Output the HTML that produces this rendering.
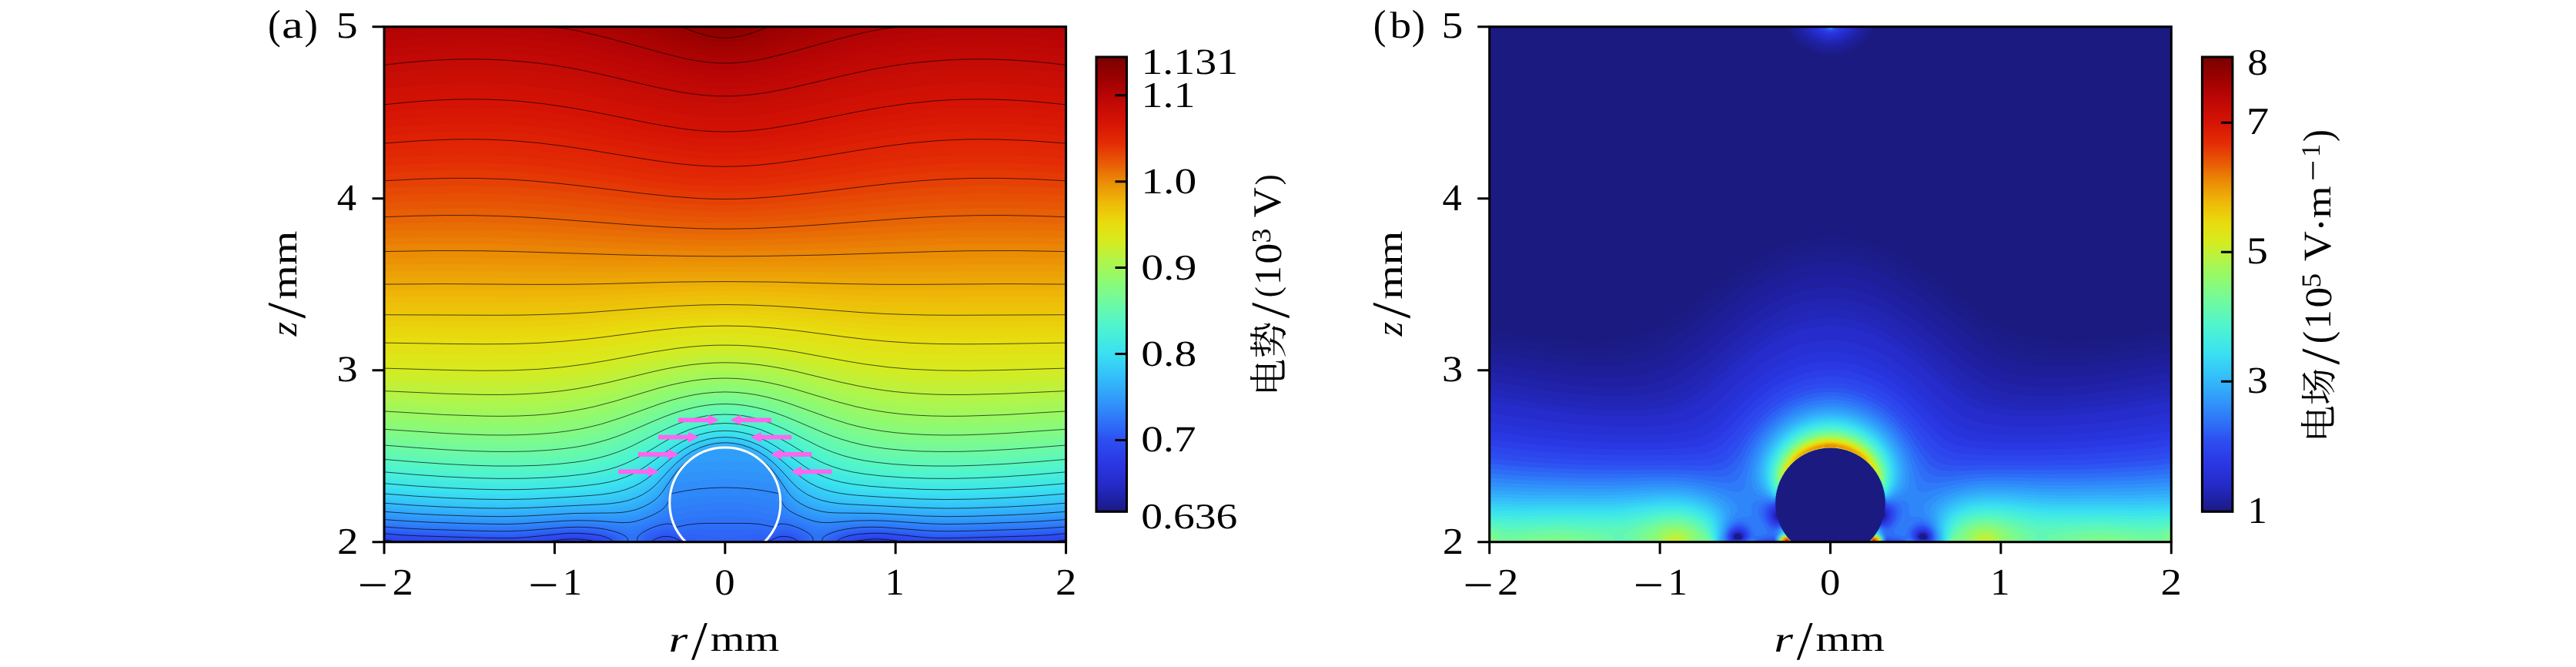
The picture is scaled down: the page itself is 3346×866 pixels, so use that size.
<!DOCTYPE html><html><head><meta charset="utf-8"><title>fig</title><style>html,body{margin:0;padding:0;background:#fff}svg{display:block}text{text-rendering:geometricPrecision;font-family:"Liberation Serif","Noto Serif CJK SC",serif;fill:#000}</style></head><body>
<svg width="3346" height="866" viewBox="0 0 3346 866">
<defs><linearGradient id="cb" x1="0" y1="1" x2="0" y2="0">
<stop offset="0.0" stop-color="#1b1a80"/>
<stop offset="0.028" stop-color="#1f21a5"/>
<stop offset="0.06" stop-color="#252bc8"/>
<stop offset="0.109" stop-color="#2a38e5"/>
<stop offset="0.158" stop-color="#2d4ff1"/>
<stop offset="0.19" stop-color="#2e6cf7"/>
<stop offset="0.239" stop-color="#3094fa"/>
<stop offset="0.296" stop-color="#34befa"/>
<stop offset="0.349" stop-color="#3ae1f0"/>
<stop offset="0.41" stop-color="#50f5cd"/>
<stop offset="0.467" stop-color="#73fa9b"/>
<stop offset="0.512" stop-color="#91fa6e"/>
<stop offset="0.55" stop-color="#aff54b"/>
<stop offset="0.595" stop-color="#d7eb1e"/>
<stop offset="0.634" stop-color="#e8dc0f"/>
<stop offset="0.68" stop-color="#eeb908"/>
<stop offset="0.725" stop-color="#eb8c05"/>
<stop offset="0.763" stop-color="#e85f05"/>
<stop offset="0.809" stop-color="#e42d05"/>
<stop offset="0.854" stop-color="#d71405"/>
<stop offset="0.915" stop-color="#b90505"/>
<stop offset="0.961" stop-color="#960000"/>
<stop offset="1.0" stop-color="#780000"/>
</linearGradient>
<clipPath id="ca"><rect x="499.0" y="34.7" width="885.6" height="669.0"/></clipPath>
<clipPath id="cbp"><rect x="1934.7" y="34.7" width="885.6" height="669.0"/></clipPath>
</defs>
<rect width="3346" height="866" fill="#fff"/>
<g clip-path="url(#ca)"><rect x="499.0" y="34.7" width="885.6" height="669.0" fill="#2a39e5"/>
<path d="M499 703.7l230.2 0 13.3-1 7.8 0.2 7.9 0.8 367.2 0 7.9-0.8 7.8-0.2 13.3 1 230.2 0 0-669-885.6 0 0 669z" fill="#2b3ce7"/>
<path d="M499.4 702.6l6.9 1.1 212.9 0 13.4-1.9 11-0.6 12.2 0.7 13.1 1.8 345.8 0 13.1-1.8 12.2-0.7 11 0.6 13.4 1.9 212.9 0 7.3-1.3 0-667.7-885.6 0 0 667.7 0.4 0.2z" fill="#2b3fe9"/>
<path d="M511.6 702.6l14 1.1 181.8 0 23-3.1 13.2-0.8 15.5 0.9 19.2 3 327 0 19.2-3 15.5-0.9 13.2 0.8 23 3.1 181.8 0 15.5-1.3 11.1-1.5 0-666.2-885.6 0 0 666.2 12.6 1.7z" fill="#2b42ea"/>
<path d="M541 702.6l46.6 1.1 105.8 0 37-4.7 14.4-0.7 11 0.5 11.1 1.2 11.1 1.9 5.4 1.8 316.8 0 6.5-2 11.1-1.8 11.1-1.2 11.1-0.4 14.3 0.9 35.9 4.5 105.8 0 60.9-1.7 14.4-1.1 13.3-1.6 0-664.6-885.6 0 0 664.6 19.9 2.2 22.1 1.1z" fill="#2c45ec"/>
<path d="M604.8 702.6l31.9 1.1 38.4 0 18.7-1.8 36.6-4.4 14.4-0.7 13.2 0.6 14.4 1.8 8.9 1.9 6 2.6 309 0 6-2.6 8.9-1.9 14.4-1.8 13.2-0.6 14.4 0.7 36.6 4.4 18.7 1.8 38.4 0 105.6-3.2 15.5-1 16.6-1.8 0-663-885.6 0 0 663 15.5 1.7 15.5 1.1 74.8 2.1z" fill="#2c49ee"/>
<path d="M789.1 702.6l1.7 1.1 70.4 0 4.2-0.4 3.6 0.4 145.6 0 3.6-0.4 4.2 0.4 70.4 0 3.8-2.2 3.5-1.4 8.9-2.2 15.5-2 14.3-0.6 15.5 0.8 51 5.6 11 0.6 13.3 0 118.5-3.3 17.7-1 18.8-1.9 0-661.4-885.6 0 0 661.4 18.8 1.9 18.8 1 101.9 3 23.2 0.3 10-0.2 12.2-0.9 48.7-5.4 16.6-0.4 13.3 0.8 12.1 1.7 7.8 1.8 6.7 2.9z" fill="#2d4cef"/>
<path d="M792.8 702.6l1.5 1.1 57.1 0 4.1-2 3.3-1.1 6.6-0.9 6.7 0.8 9 3.2 121.4 0 9-3.2 6.7-0.8 6.6 0.9 3.3 1.1 4.1 2 57.1 0 6.4-3.8 8.8-2.9 13.3-2.1 14.4-1 8.9-0.1 9.9 0.5 48.7 5.1 12.2 0.9 12.2 0.2 24.3-0.3 96.3-2.8 20-1.1 19.9-1.9 0-659.7-885.6 0 0 659.7 19.9 1.9 20 1.1 96.3 2.8 24.3 0.3 12.2-0.2 12.2-0.9 48.7-5.1 17.7-0.5 14.4 1 13.3 2 8.4 2.4 6.4 3.4z" fill="#2d4ff1"/>
<path d="M796.6 702.6l1.4 1.1 47 0 5.3-3.3 5.1-2.3 5.6-1.4 4.4-0.3 4.4 0.3 4.5 1.1 13.9 5.9 107.2 0 13.9-5.9 4.5-1.1 4.4-0.3 4.4 0.3 5.6 1.4 5.1 2.3 5.3 3.3 47 0 3-2.2 3.8-2.3 4.4-1.8 5.5-1.7 13.3-2.2 15.5-1.1 18.8 0.3 50.9 5 13.3 0.9 12.2 0.2 24.4-0.4 91.8-2.7 20-1 22.1-2 0-658-885.6 0 0 658 22.1 2 20 1 91.8 2.7 24.4 0.4 12.2-0.2 13.3-0.9 50.9-5 18.8-0.3 15.5 1.1 12.2 2 8.8 2.7 4.3 2.2 3.3 2.2z" fill="#2d55f2"/>
<path d="M800.6 702.6l1.2 1.1 38.6 0 4-3.5 6.6-3.7 6.7-2.3 6.6-1 4.4 0.2 4.5 1 4.4 1.8 8.8 4.8 3.8 1.6 5.1 0.3 2.6 0.8 87.8 0 2.6-0.8 5.1-0.3 15.9-7.8 4.5-1.2 4.4-0.4 6.6 0.7 6.7 2.1 6.6 3.5 5.1 4.2 38.6 0 2.8-2.4 4.4-2.7 4.5-2 5.5-1.9 13.3-2.5 16.6-1.3 9.9-0.2 11.1 0.4 50.9 4.9 13.3 0.7 13.3 0.3 25.5-0.4 88.5-2.6 21.1-1.1 22.1-1.9 0-656.3-885.6 0 0 656.3 22.1 1.9 21.1 1.1 88.5 2.6 25.5 0.4 13.3-0.3 13.3-0.7 50.9-4.9 11.1-0.4 9.9 0.2 16.6 1.3 12.2 2.2 5.5 1.7 4.5 1.9 4.1 2.4 3 2.2z" fill="#2d5bf3"/>
<path d="M804.5 702.6l1 1.1 31.5 0 1.8-2.6 2.3-2.2 6.6-4.2 8.9-3.4 7.7-1.2 5.5 0.4 4.5 1.3 4.4 2.1 8.9 5.7 2.2 0.9 4.4-1.2 4.4-0.1 4.5 0.9 12.5 3.6 52.4 0 12.5-3.6 4.5-0.9 4.4 0.1 4.4 1.2 2.2-0.9 7.8-5 4.4-2.4 4.4-1.5 5.6-0.6 4.4 0.3 4.4 0.9 8.9 3.4 6.6 4.2 2.3 2.2 1.8 2.6 31.5 0 3.2-3.1 3.7-2.5 5.1-2.5 5.6-1.9 6.6-1.7 6.7-1.1 17.7-1.6 11-0.2 11.1 0.4 53.1 4.8 13.3 0.7 13.3 0.2 26.6-0.4 84.1-2.5 22.2-1.1 23.2-1.9 0-654.6-885.6 0 0 654.6 23.2 1.9 22.2 1.1 84.1 2.5 26.6 0.4 13.3-0.2 13.3-0.7 53.1-4.8 11.1-0.4 11 0.2 16.6 1.5 13.3 2.6 5.6 1.8 4.4 1.9 4.4 2.7 3.3 2.8z" fill="#2e61f5"/>
<path d="M808.4 702.6l0.7 1.1 24.9 0 1.5-3.3 1.8-2.3 2.7-2.3 4.4-2.8 5.5-2.6 5.6-1.9 5.5-1.2 4.4-0.4 4.4 0.4 4.5 1.4 3.3 1.7 6.6 4.7 2.2 1.2 7.8-2.1 7.7-0.4 7.8 0.7 22.1 2.9 10 0.6 10-0.6 22.1-2.9 7.8-0.7 7.7 0.4 7.8 2.1 2.2-1.2 6.6-4.7 4.4-2.2 4.5-1.1 5.5-0.1 4.4 0.7 5.6 1.5 5.5 2.2 4.4 2.2 3.3 2.2 2.7 2.3 1.8 2.3 1.5 3.3 24.9 0 2.4-3.1 3.3-2.6 5.5-3 6.7-2.4 6.6-1.7 7.7-1.4 17.8-1.7 11-0.3 12.2 0.3 54.2 4.7 14.4 0.7 14.4 0.2 26.6-0.4 80.8-2.4 22.1-1.1 24.4-1.9 0-652.9-885.6 0 0 652.9 24.4 1.9 22.1 1.1 80.8 2.4 26.6 0.4 14.4-0.2 14.4-0.7 54.2-4.7 12.2-0.3 11 0.3 17.8 1.7 7.7 1.4 6.5 1.7 6.2 2.2 4.5 2.2 3.8 2.6 2.8 3z" fill="#2e67f6"/>
<path d="M812.2 702.6l0.4 1.1 18.4 0 0.7-3.3 2-3.4 2.9-2.8 4.3-2.8 5.7-2.8 6.6-2.5 6.7-1.8 5.5-0.6 4.4 0.2 3.4 1 3.3 1.7 5.5 4 1.1 0.2 6.7-1.9 5.5-1 12.2-0.8 34.3 1.2 29.9-1.1 8.8 0 10 1 10 2.6 1.1-0.2 5.5-4 4.4-2.1 4.5-0.8 4.4 0.1 5.5 1 5.6 1.6 6.6 2.7 5.5 2.9 4 2.8 2.7 2.7 1.6 2.9 0.7 3.3 18.4 0 1.6-3.3 3.1-3.1 4.4-2.5 6.7-2.7 7.8-2.2 7.7-1.6 8.9-1.2 11-0.8 12.2-0.4 13.3 0.3 55.4 4.6 28.7 0.8 27.7-0.5 76.4-2.3 23.2-1.1 25.5-1.9 0-651.1-885.6 0 0 651.1 25.5 1.9 23.2 1.1 76.4 2.3 27.7 0.5 28.7-0.8 55.4-4.6 13.3-0.3 12.2 0.4 18.8 1.8 7.7 1.5 7.8 2.1 6.6 2.5 5.1 2.8 2.7 2.3 2.1 3.3z" fill="#2e6df7"/>
<path d="M816 703.7l11.8 0-0.2-4.5 0.9-2.2 3-3.3 4-2.8 7.8-4.1 8.8-3.5 7.8-2.3 6.6-0.9 3.3 0.1 3.4 0.9 5.5 3.3 16.6-3.5 16.6-1.4 52-0.1 12.2 0.3 13.3 1.3 15.5 3.4 3.3-2.3 3.3-1.4 3.4-0.6 4.4 0.2 6.6 1.3 7.8 2.5 8.8 3.8 6.5 3.5 4.3 3.4 1.8 2.2 0.9 2.2-0.2 4.5 11.8 0 0.7-4.5 1.9-2.3 5.3-3.2 9.1-3.4 7.8-2 7.7-1.5 18.8-2.1 13.3-0.4 14.4 0.3 56.5 4.4 29.8 0.8 28.8-0.5 73.1-2.2 23.2-1.2 26.6-1.9 0-649.3-885.6 0 0 649.3 26.6 1.9 23.2 1.2 73.1 2.2 28.8 0.5 29.8-0.8 56.5-4.4 14.4-0.3 13.3 0.4 11.1 1 9.9 1.4 9.4 2.1 8.3 2.6 6.7 2.9 3.4 2.3 2.1 3.1 0.4 3.6z" fill="#2e72f7"/>
<path d="M818.7 703.7l6.3 0-1.6-1.8-1.2-0.3-2.2 0.5-1.3 1.6zM1058.6 703.7l6.3 0-1.3-1.6-2.2-0.5-1.2 0.3-1.6 1.8zM815.3 692.6l4.7 1 3.4-0.4 13.2-6.6 8.9-4 10-3.6 8.8-2.4 6.7-0.6 2.2 0.4 2.2 0.9 13.3-3 11-1.7 12.2-1.1 15.5-0.6 25.5-0.1 18.8 0.7 17.7 1.9 18.8 3.9 2.2-0.9 2.2-0.4 5.6 0.4 7.7 1.9 10 3.5 9.6 4.1 13.6 6.8 3.4 0.9 3.3-0.3 15.5-4.7 13.3-2.9 13.2-1.8 15.5-1.1 12.2-0.2 12.2 0.4 55.4 4.2 30.9 0.8 29.9-0.6 68.7-2.1 24.3-1.2 27.7-1.9 0-647.5-885.6 0 0 647.5 27.7 1.9 24.3 1.2 69.8 2.2 29.9 0.5 29.8-0.8 55.4-4.2 23.2-0.2 15.5 0.9 13.3 1.8 13.3 2.8 14.1 4.3z" fill="#2f78f8"/>
<path d="M813.2 688.1l6.8 0.4 5.6-1.1 34.3-13.4 14.4-4.8 8.8-2.1 12.2-2.2 12.2-1.5 13.3-1 14.4-0.4 18.8 0.1 16.6 0.8 14.4 1.5 13.3 2.3 11 2.5 21.1 7.2 25.4 10.3 4.4 1.3 4.5 0.6 6.6-0.7 17.7-3.4 11.1-1.7 12.2-1.2 13.3-0.6 22.1 0.3 55.4 4 30.9 0.8 31-0.5 65.4-2 25.4-1.3 28.8-2 0-645.6-885.6 0 0 645.6 28.8 2 25.4 1.3 65.4 2 31 0.5 30.9-0.8 55.4-4 22.1-0.3 14.4 0.7 12.2 1.3 28.6 5.1z" fill="#2f7df8"/>
<path d="M813.6 684.7l6.4-0.1 6.7-1.3 7.7-2.6 14.9-6 10.5-4.4 5.6-2.9 3.6-2.7 3.1-3.9 1.1-0.4 14.4-3.1 15.5-2.4 16.6-1.5 17.7-0.6 19.9 0.3 18.8 1.4 17.7 2.4 16.6 3.5 1.1 0.4 3.1 3.9 2.5 2 7.7 4 27.7 11.2 6.6 2 5.6 0.8 8.8-0.3 31-4 21.1-1.1 25.4 0.5 56.5 3.9 27.7 0.6 32.1-0.6 61.9-2 26.6-1.3 28.8-2 0-643.7-885.6 0 0 643.7 28.8 2 26.6 1.3 61.9 2 32.1 0.6 27.7-0.6 56.5-3.9 25.4-0.5 23.3 1.3 32.3 4.1z" fill="#2f83f9"/>
<path d="M600.9 681.4l38.7 0.9 26.6-0.1 22.1-1 43.2-3.1 21-0.6 24.4 0.8 33.2 3.2 8.8-0.1 6.7-1.2 8.8-2.8 14.4-5.8 10-4.8 4.4-2.9 3.3-3.1 2.2-3.2 3.4-6.6 16.6-3.4 16.6-2.4 16.6-1.4 17.7-0.6 18.8 0.4 18.8 1.5 16.6 2.3 17.7 3.6 3.4 6.6 2.2 3.2 3.3 3.1 4.7 3 10.8 5.2 14.4 5.7 8.8 2.6 6.7 1.1 9.9-0.1 34.4-3.3 22.1-0.6 21 0.7 55.4 3.7 17.7 0.5 21-0.1 85.3-2.6 52-3.2 0-641.8-885.6 0 0 641.8 43.2 2.8 58.7 2.1z" fill="#2f88f9"/>
<path d="M629.7 680.3l23.2 0.2 19.9-0.4 57.6-3.7 19.9-0.7 23.2 0.5 34.4 2.4 6.6 0 5.5-0.6 8.9-2 10.1-3.5 12-5.3 7.8-4.6 4.4-3.7 3.3-4.3 2.2-4.3 3.4-8.6 1.1-1.1 16.6-3.3 15.5-2.2 16.6-1.5 17.7-0.6 18.8 0.4 17.7 1.4 16.6 2.3 17.7 3.5 1.1 1.1 3.4 8.6 3 5.5 3.6 4.1 4.4 3.5 8.9 4.9 13.3 5.5 9.9 3.1 8.9 1.5 10 0.2 33.2-2.4 23.2-0.5 19.9 0.7 54.3 3.6 17.7 0.5 18.8-0.1 85.2-2.5 25.5-1.3 29.9-2 0-639.9-885.6 0 0 639.9 52 3.2 78.7 2.5z" fill="#308dfa"/>
<path d="M616 678.1l30.2 0.5 24.4-0.3 19.9-1 39.9-2.7 18.8-0.7 22.1 0.2 34.3 1.8 7.8-0.2 6.6-0.7 8.9-2.1 11.1-4 9.9-4.7 7.9-5.1 4.3-4.1 3.3-4.7 7.8-16.8 2.2-3.9 1.1-0.7 15.5-2.8 15.5-2.1 15.5-1.3 16.6-0.5 17.7 0.4 16.6 1.2 16.6 2.1 16.6 3 1.1 0.7 2.2 3.9 5.6 12.6 2.8 5.2 3.4 4.5 3.7 3.4 8.6 5.5 11.4 5.1 11 3.7 10 1.9 12.2 0.5 33.2-1.8 23.2-0.2 18.8 0.8 52.1 3.3 34.3 0.6 33.2-0.7 53.1-1.8 26.8-1.4 30.8-2.1 0-637.9-885.6 0 0 637.9 48.7 3.1 68.3 2.4z" fill="#3093fa"/>
<path d="M605.5 675.8l33 0.8 24.3 0 22.2-0.8 58.6-3.6 23.3-0.1 37.6 1.2 8.9-0.4 7.7-1.1 10-2.7 11.1-4.4 8.8-4.7 6.7-5 3.3-3.6 3.2-4.6 12.3-23.3 3.3-5 2.2-2.2 12.2-2.2 15.5-1.9 14.4-1.1 15.5-0.5 16.6 0.3 15.5 1.1 16.6 1.9 13.3 2.4 2.2 2.2 3.3 5 13 24.5 3.4 4.4 3.5 3.5 7.8 5.4 10 4.9 11 4 11.1 2.3 13.3 0.8 35.4-1.2 21 0.1 18.9 0.7 48.7 3.1 34.3 0.7 34.3-0.7 50.9-1.8 28.8-1.4 32.1-2.2 0-635.9-885.6 0 0 635.9 46.5 3 60 2.2z" fill="#3098fa"/>
<path d="M596.9 673.6l39.4 1 28.7 0 22.2-0.9 54.2-3.2 22.2-0.4 39.8 0.7 8.9-0.6 8.8-1.4 10-2.7 10-4.1 7.7-4.2 7.1-5.4 4-4.3 3.3-4.6 11.5-20.1 5.3-7.8 6.4-7.8 6.7-5.7 2.2-0.7 17.7-2 13.3-0.8 13.3-0.4 14.4 0.3 13.3 0.7 21 2.2 2.2 0.7 6.7 5.7 6.4 7.8 5.3 7.8 11.5 20.1 3.3 4.6 4.4 4.7 7 5.2 9.7 5 11 4.1 11.1 2.6 7.7 0.8 7.8 0.3 35.4-0.7 21 0.3 64.3 3.6 33.2 0.7 34.3-0.6 50.9-1.8 29.9-1.5 33.2-2.3 0-633.8-885.6 0 0 633.8 44.3 2.9 53.6 2.2z" fill="#319dfa"/>
<path d="M628.4 672.5l24.5 0.2 21-0.4 75.3-3.9 53.1-0.1 12.2-1.1 11.1-2.4 8.8-3.1 8.1-3.7 7.2-4.5 5.4-4.4 3.7-4 3.3-4.5 11.4-18.3 7.3-10 6.1-6.7 10.6-9.2 8.8-5.3 10.7-4.5 4.7-1.1 11.2-0.5 17.8 0 11.2 0.5 7.9 2.2 5.2 2.3 6.4 3.3 5.1 3.4 5.3 4.4 6.1 5.6 4 4.5 7.5 10 13.2 21 3.8 4.6 4 3.9 7.7 5.6 8.9 4.5 9.9 3.6 10 2.4 7.7 1 7.8 0.5 54.2 0.1 65.3 3.6 32.1 0.7 33.3-0.5 50.9-1.8 32.1-1.6 34.3-2.4 0-631.7-885.6 0 0 631.7 55.4 3.6 74 2.5z" fill="#31a2fa"/>
<path d="M619.1 670.3l27.1 0.4 22.2-0.2 19.9-0.8 56.5-3.1 53.1-0.6 13.3-1.1 12.2-2.5 8.8-2.9 7.8-3.5 7.7-4.7 5.5-4.5 7-7.8 12.8-18.9 6.8-8.9 7.5-7.8 10.2-8.5 7.8-4.7 11-5 11.2-3 7.9-1.1 5.3-0.3 6.6 0.2 7.8 1 8.8 2.1 10 3.9 5.5 2.8 5.6 3.4 10.1 8 7.7 7.8 7 9 13.9 20.4 4.4 5.2 4.5 4.2 6.7 4.7 8.8 4.6 9.9 3.7 10 2.4 7.7 1.1 8.9 0.6 53.1 0.6 63.1 3.5 32.1 0.7 33.3-0.5 49.8-1.7 33.2-1.7 35.4-2.5 0-629.6-885.6 0 0 629.6 53.1 3.5 67 2.5z" fill="#32a7fa"/>
<path d="M612.5 668l37.1 0.7 29.8-0.6 63.1-3.4 55.4-1.2 12.2-1.2 11-2.2 8.9-2.9 7.7-3.4 6.7-3.8 6.6-5 7.8-8.2 13.7-19 7.3-8.9 7.9-7.8 9.8-7.7 5.6-3.4 5.5-2.8 11.1-4.3 8.8-2 6.7-0.9 5.5-0.3 6.6 0.2 6.7 0.8 9.9 2.2 10 3.8 10.3 5.5 9.1 6.7 9.5 8.9 7.5 8.9 14.5 20.1 4.5 5 4.4 4.1 6.6 4.8 8.9 4.7 9.9 3.7 10 2.5 8.9 1.3 9.9 0.7 49.8 1 63.1 3.4 31 0.7 34.4-0.5 47.6-1.7 35.4-1.8 35.4-2.5 0-627.5-885.6 0 0 627.5 50.9 3.4 62.6 2.4z" fill="#32acfa"/>
<path d="M607.7 665.8l40.7 0.8 32.1-0.6 60.9-3.3 53.2-1.5 13.3-1.3 11-2.2 8.9-2.7 7.7-3.4 6.7-3.7 6.6-4.8 4.4-4 4.5-4.9 14.3-18.6 7.8-8.9 8.3-7.8 9.4-7.1 10-5.5 11.1-4.3 9.9-2.3 12.2-1.2 10 0.6 5.5 0.8 6.6 1.5 11.1 3.9 10 5.2 8.8 6.2 10 8.9 8 8.9 16.3 21 4.5 4.7 4.4 3.8 7.7 5.3 8.6 4.2 9.2 3.3 9.9 2.4 10 1.4 11.1 0.8 45.3 1.2 60.9 3.2 32.1 0.8 34.3-0.5 46.5-1.6 36.6-1.9 36.5-2.6 0-625.3-885.6 0 0 625.3 49.8 3.4 58.9 2.4z" fill="#33b0fa"/>
<path d="M604.3 663.6l43 0.9 34.4-0.6 58.6-3.1 50.9-1.8 13.3-1.3 12.2-2.3 8.9-2.7 7.7-3.2 7.8-4.3 6.6-4.8 8.9-8.6 15-18.4 7.1-7.8 8.9-8.1 9.9-7.2 10-5.4 11.1-4.2 9.9-2.3 12.2-1.1 12.2 0.8 11 2.3 11.1 4 10 5.2 8.8 6.1 10 8.8 8.2 8.9 16.1 19.6 4.9 4.9 5.1 4.2 7.8 5.1 8.5 4.1 9.2 3.2 9.9 2.3 10 1.4 12.2 0.9 46.5 1.6 58.6 3.1 28.8 0.7 34.3-0.5 45.4-1.6 37.7-1.9 37.6-2.7 0-623.1-885.6 0 0 623.1 49.8 3.4 55.5 2.4z" fill="#33b5fa"/>
<path d="M602.3 661.3l45 1 36.6-0.6 55.3-3 49.8-2 14.4-1.5 12.2-2.4 8.9-2.7 7.6-3.3 6.7-3.6 6.7-4.6 4.7-4 5.3-5.3 15.7-18.1 7.5-7.8 8.9-7.9 9.6-6.6 10.3-5.5 11.1-4 11-2.4 11.1-1 12.2 0.8 11 2.3 11.1 3.9 10 5 9.5 6.4 9.3 7.8 8.6 9 16.9 19.3 5.5 5.3 5.4 4.3 7.9 5 8.5 4 9.2 3.1 9.9 2.3 11.1 1.5 13.3 1 43.2 1.7 55.3 2.9 31 0.7 34.3-0.4 45.4-1.7 37.7-2 37.6-2.7 0-620.8-885.6 0 0 620.8 48.7 3.4 54.6 2.4z" fill="#34bafa"/>
<path d="M601.4 659.1l47 1 37.7-0.7 99.6-5 15.5-1.6 12.2-2.3 8.8-2.7 7.8-3.2 7.7-4.1 6.7-4.6 9.9-9 16.5-18 7.8-7.8 9.4-7.8 9.5-6.3 10-5.1 11.1-3.9 11-2.4 11.1-0.9 11.1 0.6 11 2.1 11.1 3.6 11.1 5.4 9.9 6.4 10 8.3 7.9 7.8 17.6 19.2 5.5 5.1 5.5 4.3 7.8 4.9 8.8 4.1 10 3.4 10 2.2 12.1 1.7 15.5 1.1 89.7 4.4 33.2 0.8 34.3-0.4 45.4-1.6 38.8-2.1 37.6-2.8 0-618.5-885.6 0 0 618.5 48.7 3.5 53.7 2.4z" fill="#34bffa"/>
<path d="M601.8 656.9l47.8 1 39.8-0.8 93-4.9 15.5-1.6 13.3-2.5 8.8-2.6 7.8-3.1 7.7-4 6.7-4.3 9.9-8.5 17.1-17.8 8.4-8 9.3-7.6 9.5-6.3 10-5 11-4 11.1-2.5 12.2-1 11.1 0.6 11 2 11.1 3.5 11.1 5.2 10.1 6.4 9.9 7.8 8.3 7.8 18.2 18.9 6.2 5.6 5.9 4.4 8.9 5.2 8.6 3.8 9.1 2.9 11.1 2.4 13.3 1.8 17.7 1.2 80.8 4.2 35.4 0.8 34.3-0.4 44.3-1.7 38.8-2.1 38.7-2.8 0-616.2-885.6 0 0 616.2 49.8 3.5 53 2.5z" fill="#35c4f8"/>
<path d="M603.3 654.6l48.5 1.1 40.9-1 86.4-4.7 16.6-1.7 13.3-2.6 8.8-2.5 7.8-3 7.7-3.9 6.7-4.1 5.5-4.2 5.5-4.8 17.8-17.6 8.5-7.8 9.1-7.2 10-6.4 11.1-5.3 11.1-3.8 11-2.2 11.1-0.9 12.2 0.7 11 2.1 11.1 3.6 10 4.6 9.9 6 10.1 7.7 8.7 7.8 20 19.7 6.6 5.6 5.6 3.9 8.8 5 8.7 3.7 10.1 3.1 10 2.1 14.4 1.8 21 1.5 73.1 3.9 36.5 0.9 34.3-0.5 43.2-1.6 39.9-2.2 38.7-2.9 0-613.8-885.6 0 0 613.8 49.8 3.6 54.5 2.5z" fill="#36c8f7"/>
<path d="M606.1 652.4l47.9 0.9 42-1 79.8-4.5 17.7-1.9 13.2-2.5 8.9-2.5 7.9-3 7.6-3.7 7.7-4.7 11.1-8.7 18.4-17.4 8.9-7.9 9.2-7 10-6.1 11.1-5.2 11.1-3.6 11-2.2 11.1-0.8 11.1 0.6 11 1.9 11.1 3.3 11.1 4.9 9.9 5.8 10.2 7.3 9 7.8 20.7 19.6 6.6 5.3 5.6 3.9 8.8 4.9 8.9 3.8 9.9 3.1 11.1 2.4 16.6 2.1 24.4 1.7 63.1 3.4 37.6 0.9 34.3-0.4 43-1.6 40.2-2.2 39.7-3.1 0-611.3-885.6 0 0 611.3 52 3.8 55.1 2.6z" fill="#36ccf6"/>
<path d="M610.2 650.2l48.2 0.8 44.3-1.3 71.9-4.4 16.6-1.8 14.4-2.8 8.9-2.6 7.7-2.9 7.8-3.7 7.7-4.7 11.1-8.4 18.9-17.3 9.3-7.8 9.4-6.8 10-5.9 11.1-5 11.1-3.5 11-2.2 11.1-0.8 11.1 0.6 11 1.8 11.1 3.3 11.1 4.7 9.9 5.6 10.2 7.1 9.5 7.8 21.3 19.3 6.6 5.2 6.7 4.5 8.8 4.7 10 4.1 10 2.9 11 2.2 22.2 2.6 37.7 2.5 45.3 2.3 34.3 0.7 34.3-0.5 42.1-1.6 39.8-2.3 39.9-3 0-608.9-885.6 0 0 608.9 53.1 3.9 58.1 2.7z" fill="#37d1f5"/>
<path d="M616 648l25.8 0.5 22.1 0 22.2-0.5 25.4-1.1 41-2.4 22.1-1.7 16.6-2.1 13.3-2.7 8.9-2.6 7.7-2.9 7.8-3.8 6.6-3.9 12.2-8.9 19.5-17 9.3-7.5 8.8-6.3 10-5.8 11.1-5 11-3.5 12.2-2.4 11.1-0.8 12.2 0.7 11 1.9 11.1 3.3 10.1 4.2 10.2 5.6 10.7 7.2 9.1 7.3 23 19.9 6.7 4.9 6.6 4.3 8.8 4.6 10 3.9 10 2.9 11 2.2 22.2 2.7 37.6 2.5 43.2 2.2 33.2 0.7 34.3-0.5 42.1-1.6 40.9-2.4 39.9-3.1 0-606.3-885.6 0 0 606.3 56.5 4.2 60.5 2.8z" fill="#38d5f3"/>
<path d="M624.2 645.7l24.2 0.4 23.3-0.1 49.8-2.1 32.1-2 19.9-1.7 15.5-2 13.3-2.7 8.9-2.5 7.7-2.9 7.8-3.6 7.7-4.4 12.2-8.7 20-16.7 8.8-6.9 9.9-6.8 10-5.6 11.1-4.8 11-3.5 11.1-2.1 12.2-0.9 11.1 0.5 11 1.7 11.1 3.1 11.1 4.4 11 5.9 10 6.5 9.6 7.3 23.6 19.7 6.7 4.8 7.3 4.5 9.3 4.7 9.9 3.8 10 2.8 12.2 2.4 23.2 2.8 37.7 2.6 39.8 1.9 33.2 0.6 34.3-0.5 41-1.6 40.9-2.4 39.9-3.1 0-603.8-885.6 0 0 603.8 60.9 4.4 64.3 2.8z" fill="#39daf2"/>
<path d="M637.2 643.5l24.5 0.1 23.3-0.4 56.4-3 21.1-1.6 15.5-1.6 13.2-2 11.1-2.5 8.9-2.7 7.7-3 7.3-3.4 7.1-4 12.2-8.5 20.5-16.5 8.8-6.7 9.4-6.2 10-5.5 11.1-4.8 12.1-3.8 12.2-2.2 11.1-0.7 11.1 0.4 12.1 2 11.1 3.1 11.1 4.4 10.6 5.5 10.4 6.7 9.1 6.7 24.1 19.3 7.8 5.4 6.6 4 8.9 4.4 9.9 3.8 11.1 3.1 12.2 2.4 23.2 2.8 37.7 2.7 37.6 1.9 33.2 0.5 34.3-0.5 41-1.6 40.8-2.5 40-3.2 0-601.1-885.6 0 0 601.1 34.3 2.8 34.3 2.2 36.6 1.7 33 1z" fill="#39def1"/>
<path d="M608.9 640.1l26.3 0.8 24.3 0.2 23.3-0.4 24.3-1 32.1-1.9 25.5-2 17.7-2.2 14.4-2.8 8.8-2.4 8.9-3.1 7.7-3.3 7.9-4.2 13.2-8.6 22-17 10.1-7.3 9.9-6.3 10-5.2 11.1-4.5 11-3.2 11.1-2.1 12.2-0.8 12.2 0.6 11 1.7 11.1 3 11.1 4.3 10.5 5.3 10.9 6.7 9.4 6.7 24.5 18.9 7.8 5.2 7.7 4.5 10 4.8 10 3.6 11 2.9 12.2 2.4 23.2 2.8 36.6 2.6 36.5 1.8 32.1 0.5 34.3-0.6 39.9-1.6 40.9-2.4 41-3.3 0-598.5-885.6 0 0 598.5 54.2 4.1 55.7 2.8z" fill="#3be2ef"/>
<path d="M621 637.9l25.2 0.5 23.3 0 22.1-0.6 25.5-1.2 27.7-1.8 21-1.9 16.6-2.3 13.3-2.6 8.8-2.5 8.9-3 7.7-3.4 7.8-4 13.3-8.5 31.8-23.3 10.2-6.3 10-5.1 11.1-4.5 12.1-3.6 12.2-2 11.1-0.7 12.2 0.5 11 1.8 11.1 2.9 11.1 4.1 11.1 5.4 10.7 6.4 9.7 6.7 26 19.2 7.8 5 7.7 4.4 10 4.5 10 3.5 11 3 13.3 2.5 23.3 2.8 35.4 2.6 35.4 1.6 32.1 0.5 34.3-0.6 39.9-1.7 40.9-2.5 39.9-3.3 0-595.7-885.6 0 0 595.7 60.9 4.7 61.1 2.8z" fill="#3de4eb"/>
<path d="M641 635.7l44-0.3 48.7-2.5 20.9-1.7 15.6-1.7 13.3-2.1 12.2-2.6 8.8-2.5 7.8-2.8 7.7-3.3 7.8-4 13.3-8.2 32.4-22.9 10.7-6.4 9.7-4.8 11.4-4.5 12.1-3.4 11.1-1.9 12.2-0.8 11.1 0.4 12.1 1.8 11.1 2.8 11.1 4 11.1 5.2 11 6.4 10.2 6.7 26.4 18.8 8.8 5.6 7.8 4.1 9.9 4.4 11.1 3.8 11.1 2.8 13.2 2.4 24.4 2.9 33.2 2.4 34.3 1.6 31 0.4 34.3-0.6 39.9-1.7 39.8-2.5 41-3.3 0-593-885.6 0 0 593 36.5 3 36.6 2.4 36.5 1.7 32.4 0.9z" fill="#40e6e7"/>
<path d="M616.8 632.3l26.1 0.7 23.3 0 23.2-0.5 23.3-1 25.4-1.7 21-1.9 16.7-2.2 14.3-2.8 10-2.6 8.9-2.9 8.8-3.7 7.8-3.8 13.2-7.9 34.1-23.2 11.3-6.5 10-4.7 11.1-4.2 12.1-3.3 11.1-1.9 12.2-0.8 12.2 0.6 11 1.6 11.1 2.7 11.1 3.9 11.1 5 11 6.1 11.1 7.1 26.6 18.3 8.8 5.4 7.9 4.2 10.9 4.7 11.1 3.7 12.2 3 13.3 2.4 24.3 2.8 32.1 2.4 33.2 1.4 31 0.4 34.3-0.7 38.8-1.7 40.9-2.6 39.9-3.3 0-590.1-885.6 0 0 590.1 58.7 4.6 59.1 2.9z" fill="#42e8e3"/>
<path d="M639.5 630.1l43.3-0.2 45.3-2.1 20-1.7 16.6-1.8 14.4-2.3 12.1-2.6 8.9-2.4 8.9-3 7.7-3.3 7.8-3.7 13.2-7.8 34.5-22.6 10.9-6.1 10-4.7 11.1-4.1 12.1-3.4 12.2-2 12.2-0.7 12.2 0.5 11 1.6 12.2 2.9 11.1 3.9 11.1 4.9 11.2 6.1 10.8 6.7 27.8 18.4 8.8 5.2 7.8 3.9 11 4.7 11.1 3.6 12.2 3 13.8 2.4 24.9 2.9 31 2.3 32.1 1.3 31 0.4 33.2-0.7 38.8-1.7 39.8-2.6 41-3.4 0-587.2-885.6 0 0 587.2 36.5 3.1 36.6 2.4 35.4 1.8 32 0.9z" fill="#44eae0"/>
<path d="M620.7 626.8l46.6 0.6 22.1-0.5 23.3-1 23.2-1.6 19.9-2 16.4-2.2 13.5-2.6 10-2.6 8.8-2.8 8.9-3.4 8.8-4.2 14.4-8.1 34.8-22 10.6-5.8 11.1-5.1 12.2-4.3 11-2.9 12.2-2 12.2-0.7 11.1 0.4 12.1 1.6 11.1 2.6 12.2 4 11.1 4.8 11 5.7 11.1 6.6 28.8 18.5 8.8 5 8.9 4.4 11.1 4.5 12.1 3.8 12.2 2.9 14.4 2.5 24.4 2.8 29.8 2.2 31 1.2 31 0.3 33.3-0.7 38.7-1.8 39.7-2.6 40-3.3 0-584.3-885.6 0 0 584.3 62 4.8 59.7 3z" fill="#47eddc"/>
<path d="M609.8 623.4l26.5 0.8 23.2 0.3 22.2-0.3 23.2-0.9 23.2-1.4 21.1-1.9 17.7-2.3 15.5-2.8 10-2.5 9.9-3 8.9-3.4 8.8-4 15.5-8.4 35.5-21.7 11-5.8 11.1-4.9 12.2-4.2 12.1-3 11.1-1.7 12.2-0.7 12.2 0.5 12.1 1.6 11.1 2.6 12.2 4 11.1 4.7 11 5.6 11.1 6.4 29.9 18.5 8.8 4.9 8.9 4.2 11.1 4.4 12.2 3.7 12.3 2.9 14.2 2.5 24.4 2.8 28.8 2.1 29.8 1.2 31 0.2 33.3-0.7 37.6-1.7 39.8-2.6 41-3.5 0-581.2-885.6 0 0 581.2 56.5 4.6 54.3 2.9z" fill="#49efd8"/>
<path d="M635.6 621.2l42.7 0 42.1-1.8 18.8-1.5 16.6-1.8 14.4-2.2 13.3-2.7 10-2.6 8.8-2.8 16.6-6.9 14.4-7.6 36.5-21.7 11.1-5.6 11.1-4.8 12.2-4.2 12.1-3 12.2-1.8 12.2-0.7 12.2 0.5 12.1 1.6 11.1 2.5 12.2 3.8 11.1 4.6 12.1 5.9 11.1 6.3 29.9 17.9 10 5.2 8.8 4.1 11.1 4.3 12.2 3.7 13.2 3 14.4 2.4 23.3 2.7 28.8 2.1 29.9 1.1 31 0.2 33.2-0.8 36.5-1.7 38.7-2.6 41-3.5 0-578.1-885.6 0 0 578.1 36.5 3.2 35.5 2.4 33.2 1.8 31.4 1z" fill="#4cf1d4"/>
<path d="M625.9 617.8l44.7 0.5 21-0.5 21.9-1.1 20.2-1.5 17.7-1.8 15.5-2.3 13.3-2.6 18.8-5.2 8.9-3.2 8.8-3.8 15.5-8 36.5-21 11.1-5.5 11.1-4.7 12.2-4.1 12.1-3 12.2-1.9 13.3-0.8 12.2 0.5 12.1 1.6 11.1 2.4 12.2 3.7 11.1 4.4 12.1 5.7 12.1 6.5 31.1 18 10 5.1 8.8 4 12.2 4.5 12.2 3.5 13.3 2.9 14.4 2.4 24.3 2.7 27.7 2 28.8 1 29.9 0.1 33.2-0.9 36.5-1.7 38.7-2.6 39.9-3.4 0-575-885.6 0 0 575 66.4 5.2 31.9 1.8 28.6 1.1z" fill="#4ef3d0"/>
<path d="M620.7 614.5l45.5 0.6 21-0.3 21-1 21.1-1.4 17.7-1.8 15.5-2.2 14.4-2.7 9.9-2.4 10-2.9 17.7-6.9 15.5-7.6 38.7-21.5 11.1-5.3 11.1-4.5 13.3-4.3 12.1-2.8 12.2-1.8 12.2-0.6 12.2 0.4 12.1 1.6 11.1 2.3 12.2 3.6 12.2 4.7 12 5.5 12.3 6.5 31 17.3 10 5 9.9 4.3 12.2 4.4 12.2 3.5 13.3 2.9 15.5 2.5 24.1 2.7 26.8 1.8 28.8 0.9 28.8 0.1 32.1-0.8 36.5-1.8 37.6-2.6 41-3.4 0-571.8-885.6 0 0 571.8 63.1 5 58.6 3z" fill="#51f5cc"/>
<path d="M618.4 611.2l45.5 0.7 21.1-0.3 21-0.9 19.9-1.4 17.7-1.7 15.5-2.1 14.4-2.6 20-5.2 9.4-3.3 9.4-3.7 16.6-8 38.7-20.8 12.2-5.6 11.1-4.4 12.2-3.8 13.2-3 12.2-1.7 12.2-0.6 12.2 0.4 12.1 1.5 12.2 2.5 12.2 3.6 11.1 4.1 12.1 5.4 12.4 6.3 33 17.8 10 4.8 10 4.2 12.1 4.3 13.3 3.7 13.3 2.8 15.5 2.4 23.3 2.6 26.5 1.7 27.7 0.9 28.8 0 32.1-0.8 35.4-1.8 37.6-2.6 41-3.4 0-568.5-885.6 0 0 568.5 62 5 57.4 3z" fill="#55f6c6"/>
<path d="M618.5 607.8l44.3 0.8 41-1.2 19.9-1.3 17.7-1.7 15.5-2.1 14.4-2.6 20.4-5.3 9.5-3.2 10-3.9 16.6-7.8 38.7-20.1 12.2-5.5 11.1-4.3 12.1-3.8 13.3-3 12.2-1.7 13.3-0.7 12.2 0.4 12.1 1.5 12.2 2.4 12.2 3.4 12.2 4.4 12.2 5.3 12.1 6 33.2 17.4 20 8.8 12.1 4.2 13.3 3.7 14.4 3.1 15.5 2.4 23.3 2.5 25.4 1.7 27.7 0.9 28.8 0 31-0.9 35.4-1.8 37.6-2.5 41-3.5 0-565.1-885.6 0 0 565.1 63.1 5.1 56.4 2.9z" fill="#59f6c0"/>
<path d="M621.2 604.5l42.7 0.6 39.9-1.1 18.8-1.3 16.6-1.6 15.5-2.1 14.4-2.6 20.9-5.3 19-6.8 16.6-7.5 40.9-20.6 12.2-5.2 11.1-4.1 13.3-4 12.1-2.6 13.3-1.7 12.2-0.6 12.2 0.4 12.1 1.4 13.3 2.6 12.2 3.4 12.2 4.3 12.2 5.1 46.5 23.2 11 5 10 3.9 12.2 4.1 13.2 3.5 14.4 3 15.5 2.3 22.2 2.4 25.4 1.7 26.6 0.7 28.8 0 31-0.9 35.4-1.8 36.5-2.5 41-3.4 0-561.7-885.6 0 0 561.7 65.3 5.2 56.9 2.9z" fill="#5df7bb"/>
<path d="M627.1 601.1l41.3 0.4 37.6-1.2 17.7-1.3 15.5-1.6 14.4-2 14.4-2.6 20-5.1 19.9-6.9 16.6-7.3 40.9-20 12.2-5.1 11.1-4 13.2-3.9 12.2-2.6 13.3-1.8 12.2-0.6 12.2 0.3 13.2 1.4 12.2 2.2 13.3 3.6 12.2 4.1 13.3 5.5 46.5 22.4 21 8.7 13.3 4.4 13.3 3.5 14.4 2.9 15.5 2.3 22.1 2.4 25.5 1.6 26.5 0.7 27.7 0 29.9-0.9 34.3-1.7 36.5-2.5 42.1-3.5 0-558.2-885.6 0 0 558.2 68.6 5.3 31 1.8 28.5 1.1z" fill="#61f7b5"/>
<path d="M638.8 597.8l38.4 0 34.3-1.5 30.2-3 14.1-2.1 12.2-2.3 19.9-5.2 18.8-6.5 16.7-7.2 40.4-19.1 12.7-5.2 11.1-3.9 13.2-3.8 13.3-2.8 12.2-1.6 13.3-0.7 13.3 0.3 12.1 1.3 13.3 2.4 13.3 3.5 12.2 4.1 12.2 4.8 48.7 22.7 21 8.5 13.3 4.2 13.3 3.4 14.8 3 16.2 2.4 22.1 2.3 24.4 1.4 25.4 0.7 27.7-0.1 29.9-0.9 33.2-1.7 36.5-2.5 42.1-3.4 0-554.6-885.6 0 0 554.6 39.9 3.3 36.5 2.5 33.2 1.7 30.2 1z" fill="#65f8af"/>
<path d="M613.7 593.3l43.6 0.9 39.9-0.9 17.7-1.1 16.6-1.5 15.5-2 14.4-2.5 21.7-5.1 20.3-6.8 17.7-7.3 42.1-19.2 12.2-4.8 12.2-4.2 13.2-3.7 13.3-2.7 13.3-1.6 12.2-0.6 12.2 0.3 13.2 1.3 13.3 2.3 13.3 3.4 12.2 3.9 13.3 5.1 48.7 22 22.1 8.6 13.3 4.2 14.4 3.5 14.4 2.8 16.1 2.4 21.5 2.1 23.3 1.4 25.4 0.7 27.7-0.1 29.9-0.9 33.2-1.8 36.5-2.5 41-3.3 0-550.9-885.6 0 0 550.9 62 4.9 52.7 2.8z" fill="#69f9a9"/>
<path d="M628.1 590l39.2 0.3 35.4-1.2 31-2.6 14.4-2 13.3-2.4 21-5 19.9-6.5 17.7-7.2 42.1-18.5 12.2-4.8 12.1-4.1 13.3-3.6 13.3-2.6 13.3-1.7 13.3-0.7 13.3 0.3 13.3 1.4 13.2 2.3 13.3 3.3 12.2 3.9 13.3 4.9 49.8 21.8 22.1 8.4 13.3 4 14.4 3.5 15.5 2.9 15.5 2.2 22.1 2.2 23.3 1.3 25.5 0.6 26.5-0.2 28.8-0.9 32.1-1.7 77.5-5.8 0-547.1-885.6 0 0 547.1 72 5.5 29.8 1.6 27.3 1.1z" fill="#6df9a3"/>
<path d="M612.2 585.5l42.9 0.9 37.6-0.7 33.2-2.4 15.5-2 14.4-2.3 22.2-5 21-6.5 18.8-7.3 44.3-18.9 12.2-4.5 12.1-3.9 13.3-3.5 13.3-2.6 13.3-1.6 13.3-0.7 13.3 0.4 13.3 1.3 13.2 2.2 13.3 3.2 13.3 4.1 13.3 4.8 49.8 21.1 23.3 8.5 13.2 3.9 14.4 3.5 14.4 2.7 16.6 2.3 21.1 2 23.2 1.4 24.4 0.5 26.5-0.1 28.8-0.9 32.1-1.7 77.5-5.7 0-543.3-885.6 0 0 543.3 63.1 4.8 50.1 2.7z" fill="#71fa9d"/>
<path d="M635.2 582.2l36.5 0.1 32.1-1.3 29.9-2.8 25.4-4.1 20-4.7 19.9-6.2 17.7-6.7 43.2-17.9 13.3-4.8 11-3.6 14.4-3.7 13.3-2.5 13.3-1.7 14.4-0.7 13.3 0.3 13.3 1.3 14.3 2.4 13.3 3.1 13.3 4 13.3 4.6 50.9 20.9 23.3 8.3 13.2 3.8 14.4 3.3 15.5 2.9 15.5 2.1 21.1 2 22.1 1.2 24.4 0.6 26.5-0.2 28.8-0.9 31-1.6 77.5-5.7 0-539.3-885.6 0 0 539.3 77.5 5.7 31 1.6 27.7 0.9z" fill="#76fa97"/>
<path d="M623.2 577.7l38.5 0.5 34.3-1 31-2.5 26.6-3.9 21-4.7 21.1-6.2 18.8-6.9 45.4-18.1 12.2-4.3 12.1-3.7 14.4-3.6 13.3-2.5 14.4-1.6 13.3-0.6 13.3 0.3 13.3 1.2 13.2 2.1 14.4 3.2 13.3 3.8 13.3 4.5 52 20.6 24.4 8.4 13.9 3.9 13.8 3.1 14.3 2.6 16.7 2.2 21 2 22.1 1.2 24.4 0.5 25.4-0.2 27.7-0.9 31-1.5 77.5-5.6 0-535.3-885.6 0 0 535.3 70.8 5.2 53.4 2.5z" fill="#7afa90"/>
<path d="M617 573.2l39.2 0.7 35.4-0.8 31-2.4 14.4-1.7 14.4-2.3 21-4.5 21.1-6.1 18.8-6.6 46.5-18 13.3-4.5 12.1-3.6 14.4-3.4 13.3-2.4 14.4-1.6 13.3-0.5 13.3 0.2 14.4 1.3 13.2 2.1 14.4 3.2 13.3 3.7 13.3 4.4 53.1 20.3 24.1 8.1 13.6 3.6 14.4 3.2 15.5 2.7 15.5 2.1 19.9 1.8 22.1 1.2 24.4 0.5 25.4-0.2 27.7-0.9 29.9-1.5 77.5-5.5 0-531.1-885.6 0 0 531.1 67.5 4.9 50.5 2.5z" fill="#7ffa8a"/>
<path d="M614.6 568.8l39.4 0.7 34.3-0.7 31.2-2.2 14.2-1.7 14.4-2.2 22.1-4.6 21.5-6 19.5-6.7 46.5-17.3 13.3-4.4 12.1-3.5 14.4-3.4 14.4-2.5 14.4-1.5 13.3-0.6 13.3 0.3 14.4 1.3 14.4 2.2 14.3 3.1 13.3 3.6 13.3 4.2 53.1 19.7 24.4 7.9 14.4 3.8 14.4 3.2 15.5 2.6 15.5 2 19.9 1.8 22.1 1.1 23.3 0.5 25.5-0.2 26.5-0.8 29.9-1.5 77.5-5.4 0-526.9-885.6 0 0 526.9 66.4 4.7 49.2 2.5z" fill="#83fa83"/>
<path d="M615.7 564.3l38.3 0.7 34.3-0.8 31-2.3 27.7-3.7 22.1-4.6 21-5.7 20-6.6 46.5-16.8 25.4-7.6 14.4-3.3 14.4-2.5 14.4-1.5 14.4-0.7 13.3 0.3 14.4 1.2 14.4 2.1 14.3 3 13.3 3.5 14.4 4.4 54.3 19.4 24.3 7.7 14.4 3.6 14.4 3.1 15.5 2.5 15.5 2 19.9 1.7 21.1 1.1 23.2 0.5 25.5-0.2 55.3-2.3 77.5-5.2 0-522.6-885.6 0 0 522.6 67.5 4.6 49.2 2.4z" fill="#87fa7c"/>
<path d="M620.9 559.9l36.4 0.4 32.1-0.9 29.9-2.2 26.6-3.7 22.1-4.4 21-5.7 18.9-6 47.6-16.5 13.2-4.1 13.3-3.6 14.4-3.2 14.4-2.4 14.4-1.5 14.4-0.5 14.4 0.3 14.4 1.2 14.4 2.1 14.4 2.9 13.2 3.4 14.4 4.3 54.7 18.9 25 7.6 14.4 3.5 14.4 3 15.5 2.5 15.5 1.9 19.9 1.7 21.1 1 22.1 0.4 24.4-0.2 55.3-2.1 77.5-5.2 0-518.1-885.6 0 0 518.1 71.8 4.8 50.1 2.3z" fill="#8cfa76"/>
<path d="M634.2 555.4l33.1 0 28.7-1.2 26.6-2.3 24.4-3.5 20.5-4.1 20.4-5.4 18.8-5.8 47.6-16 26.6-7.5 15.5-3.3 14.4-2.2 14.4-1.5 14.4-0.5 14.4 0.3 14.4 1.1 14.4 2 14.4 2.9 13.2 3.2 15.5 4.5 55.4 18.4 24.3 7.2 14.4 3.4 14.4 2.9 15.5 2.5 15.5 1.9 19.9 1.7 21.1 1 22.1 0.4 24.4-0.2 54.2-2 77.5-5 0-513.6-885.6 0 0 513.6 79.7 5.1 28.8 1.3 26.7 0.7z" fill="#90fa6f"/>
<path d="M607.8 549.8l38.4 0.8 34.3-0.5 31-2 27.7-3.4 22.2-4.1 23.2-5.7 21-6.3 47.6-15.4 27.7-7.5 15.5-3.1 14.4-2.2 14.4-1.4 14.4-0.5 14.4 0.3 14.4 1.1 14.4 1.9 15.5 3 14.3 3.4 14.4 4 55.4 17.8 25.4 7.2 14.4 3.4 14.4 2.8 15.5 2.4 15.5 1.8 18.8 1.6 21.1 1 22.1 0.4 24.4-0.2 53.1-2 77.5-4.8 0-508.9-885.6 0 0 508.9 64.2 4.1 44.6 2.1z" fill="#95f969"/>
<path d="M627.3 545.4l33.3 0.1 28.8-1 26.6-2 25.4-3.3 21.1-4 22.1-5.4 19.9-5.7 47.6-14.9 27.7-7.2 15.5-3.1 14.4-2.1 15.5-1.5 14.4-0.5 14.4 0.3 14.4 1.1 14.4 1.8 15.5 2.8 13.2 3 15.5 4.2 57.6 17.8 25.5 6.9 14.4 3.2 14.7 2.8 15.1 2.2 15.5 1.8 19.3 1.6 20.6 0.9 22.1 0.4 23.3-0.2 52-1.9 77.5-4.7 0-504.1-885.6 0 0 504.1 76.4 4.6 51.9 2z" fill="#9bf863"/>
<path d="M610.2 539.8l37.1 0.6 32.1-0.6 29.9-1.9 26.6-3.1 22.1-3.9 23.3-5.3 21-5.8 49.8-15 27.7-6.9 15.5-2.9 15.5-2.2 14.4-1.3 14.4-0.5 14.4 0.3 15.5 1.1 14.4 1.9 15.5 2.7 14.4 3.2 14.3 3.7 57.6 17.2 25.5 6.7 14.4 3.1 15.5 2.8 29.8 3.9 18.9 1.5 19.9 0.9 22.1 0.4 23.3-0.2 50.9-1.7 78.6-4.6 0-499.2-885.6 0 0 499.2 67.5 4 43.7 1.9z" fill="#a0f85c"/>
<path d="M600.4 534.2l39.2 0.9 34.3-0.5 31-1.7 27.7-3.1 23.2-3.8 23.3-5.1 21-5.6 52-14.9 27.7-6.6 15.5-2.9 14.4-1.9 15.5-1.3 14.4-0.5 14.4 0.2 15.5 1.1 14.4 1.8 15.5 2.6 14.4 3 15.5 3.9 57.5 16.4 26.6 6.8 14.4 3 15.1 2.6 30.3 3.8 18.8 1.4 19.9 0.9 21 0.4 23.3-0.2 50.9-1.7 77.5-4.3 0-494.2-885.6 0 0 494.2 63.1 3.6 38.3 1.7z" fill="#a5f756"/>
<path d="M594.8 528.6l40.4 1 34.3-0.3 31-1.6 28.8-2.9 23.2-3.6 24.4-5.1 22.1-5.6 52-14.4 27.7-6.4 15.5-2.7 15.5-2.1 15.5-1.2 14.4-0.5 14.4 0.3 15.5 1 15.5 1.8 15.5 2.6 29.9 6.6 57.5 15.8 26.6 6.5 29.9 5.6 29.9 3.6 18.8 1.4 18.8 0.8 21 0.4 23.3-0.1 49.8-1.6 78.6-4.1 0-489.1-885.6 0 0 489.1 95.8 4.8z" fill="#abf650"/>
<path d="M592.6 523.1l40.3 0.9 35.5-0.3 31-1.5 28.7-2.9 23.3-3.5 24.4-4.9 22.1-5.4 52-13.8 28.8-6.3 15.5-2.7 15.5-1.9 15.5-1.2 14.4-0.4 14.4 0.2 15.5 1 15.5 1.7 15.5 2.4 15.5 3.1 15.5 3.6 57.5 15.1 26.6 6.3 29.9 5.4 29.9 3.5 18.8 1.3 18.8 0.9 43.2 0.3 48.7-1.5 79.7-4 0-483.8-885.6 0 0 483.8 93.6 4.6z" fill="#b0f54a"/>
<path d="M594.3 517.5l39.8 0.8 34.3-0.3 31-1.6 27.6-2.7 23.3-3.4 24.3-4.7 22.2-5.2 52-13.2 28.8-6.1 16.6-2.7 15.5-1.8 15.5-1.2 14.4-0.4 15.5 0.3 15.5 1 15.5 1.7 15.5 2.3 29.9 6.2 58.6 14.7 26.6 6 29.9 5.2 31 3.5 18.8 1.3 18.8 0.8 42.1 0.3 47.6-1.4 79.7-3.8 0-478.4-885.6 0 0 478.4 95.3 4.4z" fill="#b6f343"/>
<path d="M600.8 511.9l37.7 0.6 32.1-0.4 28.8-1.5 27.6-2.7 23.3-3.4 23.2-4.3 22.2-5 53.1-12.8 28.8-5.8 16.6-2.6 15.5-1.7 15.5-1.1 14.4-0.4 15.5 0.2 15.5 1 15.5 1.6 15.5 2.2 31 6.1 59.8 14.4 26.1 5.6 30.3 5 29.9 3.2 18.8 1.3 18.8 0.8 42.1 0.2 46.5-1.2 79.7-3.6 0-472.9-885.6 0 0 472.9 101.8 4.3z" fill="#bcf23d"/>
<path d="M616.8 506.3l31.6 0.2 28.8-0.7 26.6-1.6 25.5-2.5 22.1-3.2 22.1-4 74.2-16.8 28.8-5.6 16.6-2.5 15.5-1.7 15.5-1.1 15.5-0.4 15.5 0.3 15.5 0.9 15.5 1.5 16.6 2.3 29.9 5.6 59.8 13.7 27.3 5.6 30.2 4.8 29.9 3.1 36.5 1.9 42.1 0.4 46.5-1.2 79.7-3.3 0-467.3-885.6 0 0 467.3 75.3 3.2 42.5 1.1z" fill="#c2f036"/>
<path d="M589.9 499.7l39.7 0.7 34.3-0.3 29.9-1.3 28.8-2.4 23.3-3 24.3-4.1 23.3-4.7 54.2-11.9 29.9-5.5 16.6-2.3 15.5-1.6 15.5-1 15.5-0.3 15.5 0.2 15.5 0.9 15.5 1.5 15.5 2.1 31 5.5 59.8 13.1 27.6 5.4 29.9 4.5 29.9 3 36.5 1.8 41 0.4 45.4-1.1 80.8-3.1 0-461.5-885.6 0 0 461.5 90.9 3.5z" fill="#c8ef2f"/>
<path d="M620 494.1l30.7 0 27.6-0.7 25.5-1.5 24.3-2.3 22.2-3 22.1-3.7 73.1-14.9 29.9-5.3 16.6-2.2 16.6-1.7 15.5-1 15.5-0.4 15.5 0.3 16.6 0.8 15.5 1.5 16.6 2.1 31 5.3 59.8 12.4 26.5 4.9 29.9 4.3 29.9 2.9 36.5 1.9 41 0.3 45.4-0.9 80.8-2.9 0-455.6-885.6 0 0 455.6 78.6 2.8 42.4 1z" fill="#ceed29"/>
<path d="M599.1 487.4l36.1 0.4 32.1-0.4 28.7-1.4 26.6-2.1 23.3-2.8 24.3-3.8 76.4-14.7 28.8-4.8 16.6-2.1 16.6-1.6 15.5-0.9 15.5-0.4 15.5 0.2 15.5 0.8 16.6 1.4 16.6 2 31 5 60.9 11.9 26.5 4.7 29.9 4.1 29.9 2.8 35.4 1.7 41 0.4 44.3-0.9 81.9-2.6 0-449.6-885.6 0 0 449.6 100.1 3.1z" fill="#d3ec22"/>
<path d="M588.3 480.7l39.1 0.6 33.2-0.3 29.9-1.1 28.8-2.1 24.3-2.7 24.4-3.5 77.5-14.1 31-4.9 16.6-1.9 16.6-1.5 15.5-0.8 15.5-0.3 15.5 0.2 15.5 0.8 15.5 1.2 16.6 1.9 31 4.7 62 11.5 26.5 4.4 29.9 3.9 29.9 2.6 35.5 1.6 39.8 0.4 43.2-0.8 83-2.4 0-443.4-885.6 0 0 443.4 89.3 2.6z" fill="#d8ea1d"/>
<path d="M583 474l40 0.6 34.3-0.2 31-1 28.8-2 24.3-2.4 25.5-3.5 78.6-13.4 31-4.6 33.2-3.2 31-1 31 0.9 16.6 1.3 16.6 1.8 31 4.4 60.9 10.6 26.5 4.2 29.9 3.7 29.9 2.5 35.5 1.6 39.8 0.3 42.1-0.6 84.1-2.2 0-437.1-885.6 0 0 437.1 84 2.2z" fill="#dbe71a"/>
<path d="M583.3 467.3l40.8 0.6 34.3-0.3 29.9-0.9 28.8-1.9 24.3-2.3 25.5-3.3 78.6-12.6 29.9-4.1 33.2-3.1 32.1-1.1 31 0.9 33.2 2.9 31 4.2 60.9 9.9 26.5 3.9 29.9 3.5 29.9 2.4 35.5 1.5 39.8 0.4 41-0.6 85.2-2 0-430.6-885.6 0 0 430.6 84.3 2z" fill="#dee518"/>
<path d="M591.5 460.6l38.1 0.4 32.1-0.3 28.8-1 27.7-1.7 24.3-2.3 24.4-2.9 78.6-11.8 29.9-3.8 33.2-2.9 32.1-1 32.1 0.9 32.1 2.6 31 3.9 60.9 9.3 27.7 3.8 29.8 3.3 29.9 2.1 35.5 1.4 38.7 0.4 39.9-0.5 86.3-1.8 0-424-885.6 0 0 424 92.5 1.9z" fill="#e1e215"/>
<path d="M620.3 453.9l29.3 0 26.5-0.6 24.4-1 24.3-1.7 22.2-2 22.1-2.5 75.3-10.6 29.9-3.6 34.3-2.8 32.1-0.9 31 0.8 33.2 2.4 31 3.7 62 8.8 26.4 3.3 30 3.1 28.8 2 34.3 1.3 38.8 0.4 128.4-2 0-417.3-885.6 0 0 417.3 121.3 1.9z" fill="#e4e013"/>
<path d="M564.7 446.1l48.3 0.7 36.6-0.1 33.2-0.7 29.9-1.4 25.4-1.9 26.6-2.7 80.8-10.4 29.9-3.3 33.2-2.4 32.1-0.9 31 0.7 33.2 2.3 31 3.3 88 11.3 29.3 2.7 29.9 2 34.3 1.2 37.7 0.3 129.5-1.7 0-410.4-885.6 0 0 410.4 65.7 1z" fill="#e7dd10"/>
<path d="M605.8 439.4l63.7-0.2 26.5-0.9 25.5-1.3 46.5-4 76.4-9.1 31-3.2 33.2-2.2 32.1-0.8 32.1 0.7 32.1 2 31 3.1 88.4 10.4 28.9 2.5 29.9 1.7 33.2 1.1 37.7 0.4 130.6-1.5 0-403.4-885.6 0 0 403.4 106.8 1.3z" fill="#e8d90e"/>
<path d="M565.5 431.6l86.3 0.5 32.1-0.6 29.9-1.2 25.4-1.6 26.6-2.3 79.7-8.6 29.9-2.7 33.2-2.1 32.1-0.7 32.1 0.6 32.1 1.9 31 2.8 87.4 9.4 29.9 2.3 28.8 1.6 33.2 0.9 36.6 0.4 132.8-1.2 0-396.3-885.6 0 0 396.3 66.5 0.6z" fill="#e9d40d"/>
<path d="M528.6 423.8l111 0.8 35.4-0.3 32.1-1 27.7-1.4 27.7-2 84.1-8.2 31-2.6 32.1-1.7 32.1-0.6 32.1 0.6 32.1 1.7 31 2.6 85.2 8.3 29.9 2.1 28.8 1.4 32.1 0.9 36.5 0.3 135.1-1 0-389-885.6 0 0 389 29.6 0.1z" fill="#eacf0c"/>
<path d="M499 416l135.1 1 37.6-0.2 32.1-0.8 28.8-1.2 29.9-1.9 85.2-7.4 31-2.3 32.1-1.5 31-0.5 32.1 0.6 32.1 1.5 29.9 2.2 85.2 7.4 28.8 1.8 28.8 1.3 31 0.8 35.4 0.2 139.5-0.7 0-381.6-885.6 0 0 381.3z" fill="#ebca0b"/>
<path d="M499 408.2l0 0.5 135.1 0.6 38.7-0.2 33.2-0.6 28.8-1.1 28.8-1.6 84.1-6.5 31-2 32.1-1.3 32.1-0.5 31 0.5 32.1 1.4 114 8.4 28.8 1.6 27.7 1 63.1 0.9 145-0.6 0-374-885.6 0 0 373.5z" fill="#ecc50a"/>
<path d="M499 400.4l0 0.6 137.3 0.5 71.9-0.7 56.5-2.3 114-7.2 32.1-1.2 32.1-0.4 31 0.4 31 1.2 112.9 7.2 55.4 2.2 59.7 0.8 151.7-0.5 0-366.3-885.6 0 0 365.7z" fill="#edc009"/>
<path d="M499 392.6l0 0.6 160.5 0.3 52-0.5 55.4-1.8 112.9-6.1 32.1-1 31-0.3 31 0.4 31 0.9 110.7 6 53.1 1.9 54.3 0.5 161.6-0.3 0-358.5-885.6 0 0 357.9z" fill="#eebb08"/>
<path d="M499 384.8l0 0.5 59.8-0.2 114 0.4 45.4-0.3 53.1-1.5 108.5-4.8 32.1-0.8 31-0.2 31 0.2 31 0.8 107.4 4.8 50.9 1.4 47.6 0.4 114-0.4 59.8 0.2 0-350.6-885.6 0 0 350.1z" fill="#eeb508"/>
<path d="M499 377l0 0.3 62-0.4 118.4 0.6 47.6-0.2 48.8-1.1 104-3.6 63.1-0.8 60.9 0.8 104 3.6 47.7 1 47.6 0.3 119.5-0.6 62 0.4 0-342.6-885.6 0 0 342.3z" fill="#edae07"/>
<path d="M665.3 369.2l88.3 0 125.1-3 63.1-0.6 60.9 0.5 98.5 2.5 44.3 0.7 163.8-0.7 75.3 0.5 0-334.4-885.6 0 0 334.4 73.1-0.5 93.2 0.6z" fill="#eda707"/>
<path d="M718.4 361.4l54-0.1 104.1-1.7 59.8-0.4 64.2 0.4 131.7 1.8 164.9-1.2 87.5 0.6 0-326.1-885.6 0 0 326.1 88.6-0.6 130.8 1.2z" fill="#eca106"/>
<path d="M754.9 353.6l188-0.8 181.6 0.8 172.6-1.9 87.5 0.7 0-317.7-885.6 0 0 317.7 49.8-0.6 48.7-0.1 157.4 1.9z" fill="#ec9a06"/>
<path d="M765.3 345.8l163.2 0.5 145-0.2 58.7-0.5 145-2.5 53.2 0 54.2 0.8 0-309.2-885.6 0 0 309.2 54.2-0.8 53.2 0 158.9 2.7z" fill="#eb9305"/>
<path d="M854.1 339.1l93.2 0.6 105.2-0.8 59.8-0.9 111.8-2.8 53.1-0.8 52 0 55.4 0.9 0-300.6-885.6 0 0 300.6 60.9-0.9 57.5 0.1 46.5 0.8 109.6 2.7 80.6 1.1z" fill="#eb8d05"/>
<path d="M882.6 332.4l65.8 0.5 70.9-0.8 71.9-1.6 120.7-3.8 54.3-1.1 56.4-0.1 62 1.1 0-291.9-885.6 0 0 291.9 66.4-1.1 62 0.2 47.6 1.1 118.5 3.8 89.1 1.8z" fill="#eb8505"/>
<path d="M902.8 325.7l53.4 0.3 59.8-1 74.1-2.3 116.3-4.6 49.8-1.3 60.9-0.3 67.5 1.3 0-283.1-885.6 0 0 283.1 70.8-1.3 65.4 0.4 49.8 1.4 131.7 5.2 86.1 2.2z" fill="#ea7d05"/>
<path d="M932 319l43-0.3 49.8-1.3 59.8-2.5 108.5-5.2 53.1-1.8 65.3-0.5 73.1 1.5 0-274.2-885.6 0 0 274.2 74.2-1.5 33.2 0.1 33.2 0.5 53.1 1.8 153.9 7.1 46.5 1.5 38.9 0.6z" fill="#e97505"/>
<path d="M895.1 311.2l52.2 0.7 54.3-1.1 64.2-2.9 124-7 58.6-2.2 32.1-0.4 32.1 0 72 1.7 0-265.3-885.6 0 0 265.3 41-1.2 36.5-0.5 35.4 0 34.3 0.7 56.5 2.3 135 7.6 57.4 2.3z" fill="#e96d05"/>
<path d="M921.2 304.5l42.7 0 46.5-1.5 53.2-3 117.3-7.7 58.7-2.6 33.2-0.6 34.3-0.1 36.5 0.6 41 1.3 0-256.2-885.6 0 0 256.2 42.1-1.3 37.6-0.6 35.4 0.1 34.3 0.8 58.7 2.7 147.2 9.4 35.5 1.7 31.4 0.8z" fill="#e86505"/>
<path d="M905.2 296.7l24.4 0.6 23.3 0 48.7-1.5 53.1-3.3 122.9-9.1 32.1-1.8 29.9-1.2 33.2-0.7 34.3 0 36.5 0.6 41 1.4 0-247-885.6 0 0 247 43.2-1.4 38.7-0.7 36.5 0.2 35.5 0.9 59.8 3.2 138.3 10.1 54.2 2.7z" fill="#e85e05"/>
<path d="M899.4 288.9l24.7 0.8 24.3 0.1 24.4-0.5 25.5-1.1 52-3.5 124-10.2 33.2-2.2 31-1.3 33.2-0.8 34.3 0 36.5 0.7 42.1 1.6 0-237.8-885.6 0 0 237.8 44.3-1.6 38.7-0.7 36.6 0.1 36.5 1 54.2 3.2 131.8 10.8 58.3 3.6z" fill="#e75605"/>
<path d="M898 281.1l25 0.9 23.2 0.2 24.4-0.5 25.4-1.1 49.9-3.7 126.2-11.6 33.2-2.3 32.1-1.5 34.3-0.9 34.3 0 36.5 0.9 42.1 1.7 0-228.5-885.6 0 0 228.5 44.3-1.8 39.8-0.8 37.7 0.2 36.5 1.1 55.4 3.5 129.5 11.9 29.9 2.3 25.9 1.5z" fill="#e74f05"/>
<path d="M935.3 274.4l36.4-0.5 38.7-2.3 41-3.6 111.8-11.3 33.2-2.7 31-1.8 36.5-1.1 36.6-0.2 38.7 0.9 45.4 2 0-219.1-885.6 0 0 219.1 45.4-2 39.8-0.9 36.6 0.2 36.5 1.2 31 1.8 33.2 2.7 107.9 10.9 38.2 3.5 35.5 2.3 32.2 0.9z" fill="#e64805"/>
<path d="M903 265.5l23.3 0.9 23.2 0.1 23.3-0.6 24.4-1.4 46.4-4.2 121.8-13.3 34.3-2.9 33.2-1.9 34.4-1 35.4 0 38.7 1.1 43.2 2 0-209.6-885.6 0 0 209.6 46.5-2.2 39.8-0.9 37.7 0.2 37.6 1.3 27.7 1.8 28.8 2.4 130.6 14.2 29.9 2.7 25.4 1.7z" fill="#e64105"/>
<path d="M909.1 257.7l21.6 0.7 22.2 0 22.1-0.7 23.3-1.5 44.2-4.3 119.6-14.2 34.3-3.1 33.2-2.1 35.4-1.1 36.6 0 38.7 1.1 44.3 2.3 0-200.1-885.6 0 0 200.1 46.5-2.4 41-1.1 38.7 0.2 37.6 1.5 26.6 1.8 28.8 2.6 34.3 3.8 99.6 11.9 29.9 2.8 27.1 1.8z" fill="#e53905"/>
<path d="M918.6 249.9l19.9 0.4 19.9-0.2 21-0.9 22.2-1.7 42-4.5 82-10.6 33.2-4 34.3-3.4 33.2-2.2 36.5-1.3 36.6 0 39.8 1.2 45.4 2.5 0-190.5-885.6 0 0 190.5 47.6-2.6 41-1.2 38.7 0.2 37.6 1.5 31 2.3 34.4 3.5 103.1 13.2 31.9 3.7 28.8 2.6 25.5 1.5z" fill="#e43205"/>
<path d="M907.2 241l22.4 0.9 21.1 0.1 22.1-0.8 23.2-1.7 44.3-4.9 84.2-11.6 34.3-4.4 35.4-3.6 33.2-2.3 35.4-1.2 37.7 0 38.7 1.3 45.4 2.7 0-180.8-885.6 0 0 180.8 47.6-2.8 42.1-1.3 38.7 0.2 37.6 1.6 27.7 2.1 29.9 3.1 34.3 4.3 96.3 13.2 28.8 3.1 25.2 2z" fill="#e32c05"/>
<path d="M921 233.2l19.7 0.4 19.9-0.4 19.9-1 21.1-1.8 39.8-4.9 79.7-11.7 33.2-4.5 35.5-3.9 33.2-2.6 36.5-1.4 38.8 0 39.8 1.4 46.5 3 0-171.1-885.6 0 0 171.1 47.6-3.1 42.1-1.4 38.7 0.2 38.8 1.7 32.1 2.6 34.3 3.9 32.1 4.4 70.8 10.5 32.1 4.2 27.7 2.8 25.7 1.6z" fill="#e12805"/>
<path d="M914.5 224.2l20.7 0.8 19.9-0.2 21-1 22.2-1.9 40.9-5.1 80.8-12.6 34.3-4.9 35.5-4 33.2-2.7 36.5-1.4 38.8 0.1 40.9 1.5 45.4 3.2 0-161.3-885.6 0 0 161.3 48.7-3.3 42.1-1.5 38.7 0.1 38.8 1.8 27.6 2.3 29.9 3.3 34.3 4.8 98.6 15.1 29.9 3.6 26.9 2z" fill="#e02405"/>
<path d="M911.8 215.3l21.1 0.9 21.1-0.1 21-1 22.2-1.9 40.9-5.5 80.8-13.2 34.3-5.1 35.5-4.2 34.3-2.8 36.5-1.5 38.8 0.2 40.9 1.7 45.4 3.3 0-151.4-885.6 0 0 151.4 48.7-3.5 42.1-1.6 39.8 0 38.8 1.9 28.8 2.5 29.8 3.6 34.4 5 96.3 15.5 28.7 3.7 25.4 2.1z" fill="#de2105"/>
<path d="M911.4 206.4l20.4 0.9 21.1 0 21-1 22.1-2 41-5.7 79.7-13.7 35.4-5.5 35.5-4.4 34.3-2.9 36.5-1.5 38.7 0.2 41 1.8 46.5 3.6 0-141.5-885.6 0 0 141.5 47.6-3.7 43.2-1.8 40.9 0 38.8 1.9 28.8 2.7 31 3.8 34.3 5.3 94.1 15.9 28.8 3.9 24.9 2.2z" fill="#dc1d05"/>
<path d="M912.6 197.5l20.3 0.9 21.1-0.1 19.9-1 22.1-2.1 39.9-5.8 79.7-14.3 34.3-5.6 36.5-4.7 34.4-3 37.6-1.6 38.7 0.2 41 2 46.5 3.8 0-131.5-885.6 0 0 131.5 48.7-4 43.2-1.9 40.9 0.1 38.8 2 28.8 2.7 31 4 34.3 5.4 94.1 16.7 28.8 4 25 2.3z" fill="#da1905"/>
<path d="M915.4 188.6l19.8 0.8 19.9-0.2 19.9-1.1 21-2.1 38.8-5.9 78.6-14.7 34.3-5.8 36.5-4.9 34.4-3.2 37.6-1.6 39.8 0.2 42.1 2 46.5 4.1 0-121.5-885.6 0 0 121.5 48.7-4.2 43.2-2 21-0.3 19.9 0.3 20 0.7 19.9 1.3 28.8 2.8 29.9 4 35.4 5.8 67.9 12.8 27.3 4.8 28.8 4 25.6 2.4z" fill="#d81605"/>
<path d="M919.6 179.7l18.9 0.6 18.8-0.3 19.9-1.3 20-2.2 37.6-5.9 76.4-14.9 34.3-6 36.5-5.2 34.3-3.2 18.9-1.2 19.9-0.7 39.8 0.2 43.2 2.2 46.5 4.3 0-111.4-885.6 0 0 111.4 48.7-4.4 22.1-1.3 22.2-0.9 21-0.2 19.9 0.3 20 0.7 19.9 1.4 33.2 3.4 35.4 5.1 32.1 5.7 68.7 13.5 28.8 4.9 25.4 3.4 23.2 2z" fill="#d51305"/>
<path d="M926.1 170.7l17.9 0.4 17.7-0.6 18.8-1.4 18.9-2.3 35.4-5.8 75.3-15.2 33.2-6.1 36.5-5.3 34.3-3.4 19.9-1.3 20-0.7 19.9-0.2 19.9 0.4 43.2 2.2 47.6 4.5 0-101.2-885.6 0 0 101.2 47.6-4.5 22.1-1.4 22.2-0.9 21-0.3 19.9 0.3 21.1 0.8 19.9 1.3 34.3 3.6 35.4 5.3 33.3 6.1 68.6 13.9 29.9 5.3 26.5 3.5 25.3 1.8z" fill="#d21105"/>
<path d="M913.6 160.7l19.3 1 20-0.1 19.9-1.1 21-2.3 17.7-2.7 20.8-3.7 76.7-16 34.3-6.4 36.5-5.4 36.5-3.7 20-1.2 19.9-0.6 19.9-0.1 19.9 0.4 42.1 2.4 46.5 4.5 0-91-885.6 0 0 91 24.4-2.6 24.3-2.1 22.1-1.4 22.2-0.9 21-0.3 21.1 0.3 21 0.8 19.9 1.5 31 3.3 31 4.5 34.3 6.4 65.3 13.6 25.5 5 27.7 4.4 23.8 2.5z" fill="#cf1005"/>
<path d="M919.3 151.8l18.1 0.7 18.8-0.3 18.8-1.3 19.9-2.3 17.7-2.8 18.9-3.5 75.2-16.2 34.4-6.7 36.5-5.5 36.5-3.8 19.9-1.3 20-0.7 19.9-0.2 21 0.4 21.1 1 22.1 1.5 46.5 4.7 0-80.8-885.6 0 0 80.8 24.4-2.7 23.2-2.1 23.2-1.6 22.2-0.9 21-0.3 21.1 0.3 21 0.9 21 1.5 29.9 3.3 31 4.6 35.4 6.7 66.4 14.3 26.6 5.3 28.8 4.5 25.1 2.5z" fill="#cb0e05"/>
<path d="M926 142.9l16.9 0.3 17.7-0.5 17.7-1.5 18.9-2.4 34.3-6.2 74.1-16.5 33.2-6.6 36.6-5.7 36.5-3.9 21-1.4 20-0.8 19.9-0.2 21 0.4 22.2 1 22.1 1.5 23.3 2.1 23.2 2.7 0-70.5-885.6 0 0 70.5 24.4-2.8 23.2-2.1 23.2-1.6 22.2-0.9 21-0.3 21.1 0.3 21 0.9 21 1.5 35.4 4 36.6 5.9 32.1 6.5 67.5 15.1 28.8 5.5 25.4 3.7 24.1 2z" fill="#c80d05"/>
<path d="M935.2 133.9l15.5 0 15.5-0.8 16.6-1.7 16.6-2.4 32.1-6.1 70.8-16.2 33.2-6.8 36.6-6 36.5-4.1 21-1.5 19.9-0.9 21.1-0.3 21 0.3 22.2 0.9 23.2 1.6 24.4 2.3 23.2 2.6 0-60.1-885.6 0 0 60.1 24.4-2.8 24.3-2.2 23.3-1.5 22.1-0.9 21-0.3 21.1 0.4 21 0.9 21 1.6 36.6 4.2 35.4 5.9 32.1 6.6 68.6 15.7 29.9 5.9 28.8 4 13.3 1.1 13.3 0.5z" fill="#c50b05"/>
<path d="M917.6 123.9l18.7 0.9 17.7-0.2 18.8-1.3 18.8-2.4 16.6-2.8 18.8-3.8 75.3-17.7 33.2-7 36.6-5.9 38.7-4.3 21-1.5 20-0.8 19.9-0.3 21 0.3 22.2 0.9 22.1 1.5 24.4 2.3 23.2 2.6 0-49.7-885.6 0 0 49.7 24.4-2.8 24.3-2.2 23.3-1.5 23.2-0.9 22.1-0.2 21.1 0.4 21 1.1 22.1 1.8 32.2 3.7 32.1 5.2 33.2 6.8 64.2 15.2 25.4 5.6 26.6 4.6 23.4 2.7z" fill="#c20905"/>
<path d="M919.4 115l16.9 0.8 17.7-0.2 17.7-1.3 18.8-2.4 16.6-2.9 18.8-4 74.2-17.9 33.2-7.2 17.7-3.2 18.8-2.9 39.9-4.4 21-1.6 21.1-1 19.9-0.3 21 0.3 22.2 0.9 22.1 1.5 24.4 2.2 23.2 2.6 0-39.3-885.6 0 0 39.3 24.4-2.7 25.4-2.3 23.3-1.5 23.2-0.8 22.1-0.2 21.1 0.6 22.1 1.2 22.2 1.9 33.2 3.9 31 5.2 33.2 7 64.2 15.6 24.3 5.5 26.6 4.8 24.1 2.8z" fill="#be0805"/>
<path d="M918.9 106.1l17.4 0.9 17.7-0.2 17.7-1.4 17.7-2.4 16.6-3 17.7-3.9 74.2-18.5 33.2-7.4 17.7-3.2 17.7-2.7 41-4.7 22.1-1.8 21.1-1.1 19.9-0.4 19.9 0.2 22.1 0.8 22.2 1.4 49.8 4.8 0-28.8-885.6 0 0 28.8 26.6-2.8 25.4-2.2 23.3-1.4 23.2-0.7 21.1 0 21 0.6 22.1 1.4 23.3 2.1 34.3 4.1 31 5.2 32.1 7 64.2 16.1 24.4 5.7 25.4 4.7 22.5 2.8z" fill="#bb0605"/>
<path d="M932.1 98.3l14.1 0.1 14.4-0.7 15.5-1.6 15.5-2.4 31-6.6 73.1-18.8 31-7.2 16.6-3.1 16.6-2.7 39.8-4.7 24.4-2.2 21-1.4 19.9-0.7 20 0 23.2 0.6 22.2 1.2 54.2 4.9 0-18.3-885.6 0 0 18.3 55.4-5 23.2-1.2 23.2-0.6 20 0.1 19.9 0.8 23.2 1.6 25.5 2.4 37.6 4.7 32.1 5.8 31 7.3 67.6 17.4 27.6 6.2 24.4 3.9 22.4 1.9z" fill="#b70505"/>
<path d="M922.6 89.3l15.9 0.8 16.6-0.3 16.6-1.6 16.6-2.6 15.5-3.1 16.6-4 69.7-18.5 27.7-6.8 26.6-5.3 26.5-3.8 58.7-5.9 22.2-1.4 18.8-0.6 26.5 0.3 25.5 0.9 62 5 0-7.7-885.6 0 0 7.7 10-0.6 33.2-3.1 19.9-1.3 25.5-1 26.5-0.2 20 0.7 23.2 1.6 31 2.9 31 3.5 25.5 3.9 25.4 5.4 26.6 6.7 59.8 15.9 25.4 6.2 21.1 4 19.5 2.3z" fill="#b20404"/>
<path d="M925.4 81.5l15.3 0.7 14.4-0.4 15.5-1.6 15.5-2.6 29.9-6.9 73-20 28.8-7.3 25.5-5.2 26.5-3.5-456 0 24.3 3.2 22.2 4.2 28.7 7.1 67.6 18.6 23.2 6 24.4 5 21.2 2.7z" fill="#ad0303"/>
<path d="M923.7 73.7l14.8 0.9 14.4-0.3 14.4-1.4 16.6-2.9 27.6-6.8 74.2-21 28.1-7.5-344 0 24.8 6.6 88.5 24.8 22.2 5 18.4 2.6z" fill="#a80303"/>
<path d="M929.4 67l12.4 0.5 12.2-0.4 12.2-1.5 13.2-2.4 24.4-6.2 76-22.3-276 0 88.2 25.6 19.9 4.4 17.5 2.3z" fill="#a30202"/>
<path d="M929.4 60.3l10.2 0.6 11.1-0.3 11-1.2 11.1-2 21-5.5 55.7-17.2-215.4 0 64.5 19.7 16.6 3.9 14.2 2z" fill="#9e0101"/>
<path d="M936.5 54.8l8.6 0.1 7.8-0.6 7.7-1.1 8.9-1.8 17.7-4.9 34.6-11.8-160 0 31.3 10.7 14.4 4.3 15.5 3.5 13.5 1.6z" fill="#990000"/>
<path d="M935.3 49.2l6.5 0.3 6.6-0.3 6.7-0.8 7.7-1.5 15.5-4.4 21.1-7.8-115.2 0 16.6 6.2 12.2 4 12.2 2.9 10.1 1.4z" fill="#930000"/>
<path d="M930.6 43.6l11.2 1 11.1-1 13.3-3.2 15.6-5.7-80 0 15.6 5.7 13.2 3.2z" fill="#8e0000"/>
<path d="M937.6 40.3l6.4 0.1 6.7-0.8 7.7-2 8.7-2.9-50.6 0 12 3.9 9.1 1.7z" fill="#890000"/>
<path d="M939.2 36.9l5.9-0.1 8.8-2.1-24.2 0 9.5 2.2z" fill="#840000"/><path d="M999.4 34.7l-18.9 7-14.3 4.4-13.3 2.6-11.1 0.8-11.1-0.8-13.3-2.6-14.3-4.4-18.9-7M1169.8 34.7l-13.2 1.5-13.3 2-12.2 2.3-14.4 3.2-28.8 7.3-69.7 19.2-26.6 6.3-13.3 2.5-12.1 1.7-12.2 1.1-12.2 0.4-12.2-0.4-12.2-1.1-12.1-1.7-13.3-2.5-26.6-6.3-69.7-19.2-28.8-7.3-14.4-3.2-12.2-2.3-13.3-2-13.2-1.5M1384.6 84.4l-24.4-2.8-24.3-2.2-23.3-1.5-22.1-0.9-21-0.2-21.1 0.4-21 1-21 1.6-18.8 1.9-18.9 2.4-17.7 2.8-17.7 3.2-33.2 7-69.7 16.4-31 6.2-15.5 2.3-14.4 1.6-14.4 1-13.3 0.3-13.3-0.3-14.4-1-14.4-1.6-15.5-2.3-31-6.2-69.7-16.4-33.2-7-17.7-3.2-17.7-2.8-18.9-2.4-18.8-1.9-21-1.6-21-1-21.1-0.4-21 0.2-22.1 0.9-23.3 1.5-24.3 2.2-24.4 2.8M1384.6 135.9l-24.4-2.5-23.2-2-22.1-1.4-22.2-0.9-21-0.3-19.9 0.3-20 0.7-19.9 1.3-34.3 3.6-35.4 5.2-33.2 6.1-72 14.5-32.1 5.5-16.6 2.3-16.6 1.6-15.5 0.9-14.4 0.3-14.4-0.3-15.5-0.9-16.6-1.6-16.6-2.3-32.1-5.5-72-14.5-33.2-6.1-35.4-5.2-34.3-3.6-19.9-1.3-20-0.7-19.9-0.3-21 0.3-22.2 0.9-22.1 1.4-23.2 2-24.4 2.5M1384.6 186.1l-47.6-3.5-42.1-1.6-19.9-0.2-19.9 0.2-18.8 0.7-18.9 1-33.2 2.9-34.3 4.3-33.2 5-74.2 12.2-35 4.9-18.1 1.9-16.6 1.4-15.5 0.7-15.5 0.3-15.5-0.3-15.5-0.7-16.6-1.4-18.1-1.9-35-4.9-74.2-12.2-33.2-5-34.3-4.3-33.2-2.9-18.9-1-18.8-0.7-19.9-0.2-19.9 0.2-42.1 1.6-47.6 3.5M1384.6 234.8l-46.5-2.4-39.8-1-37.7 0.1-36.5 1.3-32.1 2.2-34.3 3.2-32.1 3.6-76.4 9.3-37.7 4-36.5 2.6-16.6 0.6-16.6 0.2-16.6-0.2-16.6-0.6-36.5-2.6-37.7-4-76.4-9.3-32.1-3.6-34.3-3.2-32.1-2.2-36.5-1.3-37.7-0.1-39.8 1-46.5 2.4M1384.6 281.7l-42.1-1.4-37.6-0.7-35.4 0.1-35.5 0.9-28.7 1.2-32.1 1.9-110.7 8.3-44.3 2.9-39.9 1.8-36.5 0.6-36.5-0.6-39.9-1.8-44.3-2.9-110.7-8.3-32.1-1.9-28.7-1.2-35.5-0.9-35.4-0.1-37.6 0.7-42.1 1.4M1384.6 326.6l-65.3-1.1-60.9 0.2-46.5 1-143.9 4.4-74.2 1.4-52 0.4-52-0.4-74.2-1.4-143.9-4.4-46.5-1-60.9-0.2-65.3 1.1M1384.6 369.1l-75.3-0.5-119.5 0.8-44.3-0.1-44.3-0.7-98.5-2.5-60.9-0.5-60.9 0.5-98.5 2.5-44.3 0.7-44.3 0.1-119.5-0.8-75.3 0.5M1384.6 408.7l-145 0.6-33.2-0.2-29.9-0.7-27.7-1-28.8-1.6-84.1-6.5-31-2-32.1-1.3-31-0.5-31 0.5-32.1 1.3-31 2-84.1 6.5-28.8 1.6-27.7 1-29.9 0.7-33.2 0.2-145-0.6M1384.6 445.1l-90.8 1.4-38.7 0.3-37.7-0.3-34.3-1.2-29.9-2-29.9-2.8-26.5-3.2-59.8-7.8-31-3.4-33.2-2.4-31-0.7-31 0.7-33.2 2.4-31 3.4-59.8 7.8-26.5 3.2-29.9 2.8-29.9 2-34.3 1.2-37.7 0.3-38.7-0.3-90.8-1.4M1384.6 478.1l-83 2.4-43.2 0.8-39.8-0.4-35.5-1.6-29.9-2.6-29.9-3.9-26.5-4.4-62-11.5-29.9-4.6-16.6-1.9-15.5-1.3-15.5-0.8-15.5-0.2-15.5 0.2-15.5 0.8-15.5 1.3-16.6 1.9-29.9 4.6-62 11.5-26.5 4.4-29.9 3.9-29.9 2.6-35.5 1.6-39.8 0.4-43.2-0.8-83-2.4M1384.6 507.6l-79.7 3.6-47.6 1.2-22.1 0.1-20-0.4-18.8-0.8-18.8-1.3-15.5-1.5-14.4-1.8-14.4-2.2-15.5-2.8-25.4-5.4-59.8-14.4-15.5-3.3-14.4-2.6-15.5-2.3-15.5-1.6-15.5-1-14.4-0.3-14.4 0.3-15.5 1-15.5 1.6-15.5 2.3-14.4 2.6-15.5 3.3-59.8 14.4-25.4 5.4-15.5 2.8-14.4 2.2-14.4 1.8-15.5 1.5-18.8 1.3-18.8 0.8-20 0.4-22.1-0.1-47.6-1.2-79.7-3.6M1384.6 533.9l-78.6 4.6-50.9 1.7-23.3 0.2-22.1-0.4-19.9-0.9-18.9-1.5-15.4-1.8-14.4-2.1-15.5-2.8-14.4-3.1-25.5-6.7-57.6-17.2-14.3-3.7-14.4-3.2-14.4-2.6-14.4-1.8-14.4-1.2-14.4-0.4-14.4 0.4-14.4 1.2-14.4 1.8-14.4 2.6-14.4 3.2-14.3 3.7-57.6 17.2-25.5 6.7-14.4 3.1-15.5 2.8-14.4 2.1-15.4 1.8-18.9 1.5-19.9 0.9-22.1 0.4-23.3-0.2-50.9-1.7-78.6-4.6M1384.6 557.3l-77.5 5.2-28.8 1.4-26.5 0.9-25.5 0.2-23.2-0.5-21.1-1.1-19.9-1.7-15.5-2-15.5-2.5-14.4-3.1-14.4-3.6-24.3-7.7-53.2-19-14.4-4.5-13.2-3.5-14.4-3.1-13.3-2-14.4-1.4-13.3-0.4-13.3 0.4-14.4 1.4-13.3 2-14.4 3.1-13.2 3.5-14.4 4.5-53.2 19-24.3 7.7-14.4 3.6-14.4 3.1-15.5 2.5-15.5 2-19.9 1.7-21.1 1.1-23.2 0.5-25.5-0.2-26.5-0.9-28.8-1.4-77.5-5.2M1384.6 578l-42.1 3.3-35.4 2.4-32.1 1.7-28.8 0.9-26.5 0.1-24.4-0.5-23.2-1.4-21.1-2-16.6-2.3-14.4-2.7-14.4-3.5-13.2-3.9-11.1-3.8-12.2-4.7-36.5-15.7-13.3-5.4-13.3-4.8-12.2-3.8-13.3-3.2-13.2-2.4-13.3-1.4-12.2-0.4-12.2 0.4-13.3 1.4-13.2 2.4-13.3 3.2-12.2 3.8-13.3 4.8-13.3 5.4-36.5 15.7-12.2 4.7-11.1 3.8-13.2 3.9-14.4 3.5-14.4 2.7-16.6 2.3-21.1 2-23.2 1.4-24.4 0.5-26.5-0.1-28.8-0.9-32.1-1.7-35.4-2.4-42.1-3.3M1384.6 596.4l-41 3.4-36.5 2.5-35.4 1.8-31 0.9-28.8 0-26.6-0.7-25.4-1.7-22.2-2.4-15.5-2.3-14.4-3-13.2-3.5-12.2-4.1-10-3.9-11-5-34.4-17.4-12.1-5.8-12.2-5.1-12.2-4.3-12.2-3.4-12.1-2.5-12.2-1.4-12.2-0.5-12.2 0.5-12.2 1.4-12.1 2.5-12.2 3.4-12.2 4.3-12.2 5.1-12.1 5.8-34.4 17.4-11 5-10 3.9-12.2 4.1-13.2 3.5-14.4 3-15.5 2.3-22.2 2.4-25.4 1.7-26.6 0.7-28.8 0-31-0.9-35.4-1.8-36.5-2.5-41-3.4M1384.6 612.8l-41 3.5-38.7 2.6-36.5 1.7-33.2 0.8-31-0.2-29.9-1.1-28.8-2.1-23.3-2.7-14.4-2.4-13.2-3-12.2-3.7-11.1-4.3-8.8-4.1-10-5.2-29.9-17.9-11.1-6.3-12.1-5.9-11.1-4.6-12.2-3.8-11.1-2.5-11-1.5-12.2-0.6-12.2 0.6-11 1.5-11.1 2.5-12.2 3.8-11.1 4.6-12.1 5.9-11.1 6.3-29.9 17.9-10 5.2-8.8 4.1-11.1 4.3-12.2 3.7-13.2 3-14.4 2.4-23.3 2.7-28.8 2.1-29.9 1.1-31 0.2-33.2-0.8-36.5-1.7-38.7-2.6-41-3.5M1384.6 627.7l-41 3.3-39.8 2.5-39.9 1.7-34.3 0.6-31-0.4-34.3-1.6-33.2-2.4-24.4-2.9-13.2-2.4-11.1-2.8-11.1-3.8-9.9-4.4-7.8-4.1-8.8-5.6-26.4-18.8-10.2-6.7-11-6.4-11.1-5.2-11.1-4-11.1-2.8-11-1.7-11.1-0.5-11.1 0.5-11 1.7-11.1 2.8-11.1 4-11.1 5.2-11 6.4-10.2 6.7-26.4 18.8-8.8 5.6-7.8 4.1-9.9 4.4-11.1 3.8-11.1 2.8-13.2 2.4-24.4 2.9-33.2 2.4-34.3 1.6-31 0.4-34.3-0.6-39.9-1.7-39.8-2.5-41-3.3M1384.6 641l-39.9 3.1-40.9 2.4-42.1 1.6-34.3 0.5-33.2-0.7-43.2-2.2-37.6-2.5-12.2-1.3-10-1.4-11-2.2-10-2.9-10-3.9-8.8-4.6-6.6-4.3-6.7-4.9-23-19.9-9.1-7.3-10-6.8-9.9-5.5-11.1-4.7-11.1-3.3-11-1.9-11.1-0.7-11.1 0.7-11 1.9-11.1 3.3-11.1 4.7-9.9 5.5-10 6.8-9.1 7.3-23 19.9-6.7 4.9-6.6 4.3-8.8 4.6-10 3.9-10 2.9-11 2.2-10 1.4-12.2 1.3-37.6 2.5-43.2 2.2-33.2 0.7-34.3-0.5-42.1-1.6-40.9-2.4-39.9-3.1M1384.6 653.2l-37.6 2.8-38.8 2.1-45.4 1.6-34.3 0.4-33.2-0.8-89.7-4.4-15.5-1.1-12.1-1.7-10-2.2-10-3.4-8.8-4.1-7.8-4.9-5.5-4.3-5.5-5.1-17.6-19.2-7.9-7.8-10-8.3-9.9-6.4-10-4.9-11.1-3.8-11-2.2-11.1-0.8-11.1 0.8-11 2.2-11.1 3.8-10 4.9-9.9 6.4-10 8.3-7.9 7.8-17.6 19.2-5.5 5.1-5.5 4.3-7.8 4.9-8.8 4.1-10 3.4-10 2.2-12.1 1.7-15.5 1.1-89.7 4.4-33.2 0.8-34.3-0.4-45.4-1.6-38.8-2.1-37.6-2.8M1384.6 664.3l-35.4 2.5-33.2 1.7-49.8 1.7-33.3 0.5-32.1-0.7-63.1-3.5-53.1-0.6-8.9-0.6-7.7-1.1-10-2.4-9.9-3.7-8.8-4.6-6.7-4.7-4.5-4.2-4.4-5.2-13.9-20.4-7-9-6.8-6.9-9.9-8.2-4.4-2.9-5.6-3-6.6-2.9-5.6-2-8.8-2.1-7.8-1-5.5-0.2-5.5 0.2-7.8 1-8.8 2.1-5.6 2-6.6 2.9-5.6 3-4.4 2.9-9.9 8.2-6.8 6.9-7 9-13.9 20.4-4.4 5.2-4.5 4.2-6.7 4.7-8.8 4.6-9.9 3.7-10 2.4-7.7 1.1-8.9 0.6-53.1 0.6-63.1 3.5-32.1 0.7-33.3-0.5-49.8-1.7-33.2-1.7-35.4-2.5M1384.6 674.6l-29.9 2-25.5 1.3-52 1.8-33.2 0.7-18.8 0.1-17.7-0.5-54.3-3.6-19.9-0.7-23.2 0.5-33.2 2.4-10-0.2-8.9-1.5-9.9-3.1-13.3-5.5-8.9-4.9-4.4-3.5-3.6-4.1-3-5.5-3.4-8.6-1.1-1.1-16.6-3.3-16.6-2.4-17.7-1.4-17.7-0.5-17.7 0.5-17.7 1.4-16.6 2.4-16.6 3.3-1.1 1.1-3.4 8.6-3 5.5-3.6 4.1-4.4 3.5-8.9 4.9-13.3 5.5-9.9 3.1-8.9 1.5-10 0.2-33.2-2.4-23.2-0.5-19.9 0.7-54.3 3.6-17.7 0.5-18.8-0.1-33.2-0.7-52-1.8-25.5-1.3-29.9-2M816 703.7l-0.4-3.6-1-2-1.1-1.1-3.4-2.3-6.7-2.9-8.3-2.6-9.4-2.1-9.9-1.4-11.1-1-13.3-0.4-14.4 0.3-56.5 4.4-14.3 0.6-15.5 0.2-28.8-0.5-73.1-2.2-23.2-1.2-26.6-1.9M1055.8 703.7l0.3-3.3-0.4-2.3-1.4-2.2-3.7-3.3-5.4-3.4-6-2.9-6.6-2.6-6.7-2.1-6.6-1.3-5.5-0.1-4.5 1.3-4.4 2.9-11.1-2.6-8.8-1.4-10-0.8-13.3-0.2-43.1 0-12.2 0.4-13.3 1.4-14.4 3.2-4.4-2.9-3.3-1.1-4.5-0.3-4.4 0.5-6.6 1.6-7.8 2.7-7.1 3.2-6.2 3.5-4.1 3.2-1.8 2.2-0.9 2.2 0.2 4.5M1384.6 684l-26.6 1.9-23.2 1.2-73.1 2.2-28.8 0.5-15.5-0.2-14.3-0.6-56.5-4.4-14.4-0.3-13.3 0.4-11.1 1-9.9 1.4-9.4 2.1-8.3 2.6-6.7 2.9-3.4 2.3-1.1 1.1-1 2-0.4 3.6M798 703.7l-3-2.2-3.8-2.3-4.4-1.8-5.5-1.7-5.5-1.1-7.8-1.1-15.5-1.1-8.9-0.1-9.9 0.4-50.9 5-13.3 0.9-12.2 0.2-24.4-0.4-91.8-2.7-20-1-22.1-2M888.2 703.7l-2.9-1-11-4.9-4.5-1.1-4.4-0.3-4.4 0.3-5.6 1.4-5.1 2.3-5.3 3.3M1038.6 703.7l-5.3-3.3-5.1-2.3-5.6-1.4-4.4-0.3-4.4 0.3-4.5 1.1-11 4.9-2.9 1M1384.6 692.7l-22.1 2-20 1-91.8 2.7-24.4 0.4-12.2-0.2-13.3-0.9-50.9-5-9.9-0.4-8.9 0.1-15.5 1.1-7.8 1.1-5.5 1.1-5.5 1.7-4.4 1.8-3.8 2.3-3 2.2M525.6 703.7l-15.5-1.3-11.1-1.5M778.3 703.7l-10.3-1.8-8.9-1.2-7.7-0.7-7.8-0.2-13.2 0.8-23 3.1M1176.2 703.7l-23-3.1-13.2-0.8-7.8 0.2-7.7 0.7-8.9 1.2-10.3 1.8M1384.6 700.9l-11.1 1.5-15.5 1.3" fill="none" stroke="#000" stroke-width="0.9" stroke-opacity="0.75" stroke-linejoin="round"/></g><g clip-path="url(#ca)"><circle cx="941.8" cy="652.9" r="72" fill="none" stroke="#fff" stroke-width="3"/><path d="M880.9 542.4H919.9V538.5L934.1 545.3L919.9 552.1V548.2H880.9zM1001.9 542.4H962.6V538.5L948.4 545.3L962.6 552.1V548.2H1001.9zM854.9 564.8H893.9V560.9L908.1 567.6L893.9 574.4V570.5H854.9zM1028.1 564.8H988.8V560.9L974.6 567.6L988.8 574.4V570.5H1028.1zM828.9 587.1H867.9V583.2L882.1 590.0L867.9 596.8V592.9H828.9zM1054.3 587.1H1015.0V583.2L1000.8 590.0L1015.0 596.8V592.9H1054.3zM802.9 609.4H841.9V605.5L856.1 612.3L841.9 619.1V615.2H802.9zM1080.5 609.4H1041.2V605.5L1027.0 612.3L1041.2 619.1V615.2H1080.5z" fill="#fd66ee"/></g>
<g opacity="0.999">
<rect x="499.0" y="34.7" width="885.6" height="669.0" fill="none" stroke="#000" stroke-width="3.05"/>
<path d="M499.0 703.7v15.5M720.4 703.7v15.5M941.8 703.7v15.5M1163.2 703.7v15.5M1384.6 703.7v15.5M499.0 703.7h-15.5M499.0 480.7h-15.5M499.0 257.7h-15.5M499.0 34.7h-15.5" stroke="#000" stroke-width="3" fill="none"/>
<text transform="translate(464.48 778.96) scale(1.4664 1.2083)" font-size="48">−</text>
<text transform="translate(509.41 772.10) scale(1.1399 1.0157)" font-size="48">2</text>
<text transform="translate(685.88 778.96) scale(1.4664 1.2083)" font-size="48">−</text>
<text transform="translate(730.68 772.10) scale(1.0533 1.0189)" font-size="48">1</text>
<text transform="translate(928.32 771.60) scale(1.0980 0.9969)" font-size="48">0</text>
<text transform="translate(1149.58 772.10) scale(1.0533 1.0189)" font-size="48">1</text>
<text transform="translate(1370.91 772.10) scale(1.1399 1.0157)" font-size="48">2</text>
<text transform="translate(438.01 718.70) scale(1.1399 1.0126)" font-size="48">2</text>
<text transform="translate(437.40 495.20) scale(1.1313 0.9969)" font-size="48">3</text>
<text transform="translate(437.85 272.70) scale(1.0536 1.0190)" font-size="48">4</text>
<text transform="translate(436.75 49.20) scale(1.1606 1.0094)" font-size="48">5</text>
<text transform="translate(348.01 49.83) scale(1.0407 1.1149)" font-size="48">(</text>
<text transform="translate(365.98 49.48) scale(1.3053 1.0435)" font-size="48">a</text>
<text transform="translate(395.57 49.83) scale(1.0887 1.1149)" font-size="48">)</text>
<text transform="translate(868.58 845.60) scale(1.3254 0.9735)" font-size="48" font-style="italic">r</text>
<text transform="translate(898.10 855.86) scale(1.5639 1.4891)" font-size="48">/</text>
<text transform="translate(922.80 845.30) scale(1.1962 0.9602)" font-size="48">mm</text>
<text transform="translate(385.00 436.50) rotate(-90) scale(1.0000 1.0000)" font-size="48" font-style="italic">z</text>
<text transform="translate(395.56 413.40) rotate(-90) scale(1.5639 1.4891)" font-size="48">/</text>
<text transform="translate(385.00 388.69) rotate(-90) scale(1.1920 0.9735)" font-size="48">mm</text>
<rect x="1424.0" y="74.0" width="39.5" height="590.3" fill="url(#cb)" stroke="#000" stroke-width="3.05"/>
<path d="M1463.5 123.8h-15M1463.5 235.7h-15M1463.5 347.6h-15M1463.5 459.5h-15M1463.5 571.4h-15" stroke="#000" stroke-width="3" fill="none"/>
<text transform="translate(1482.41 96.00) scale(1.1645 0.9938)" font-size="48">1.131</text>
<text transform="translate(1482.39 138.52) scale(1.1682 0.9784)" font-size="48">1.1</text>
<text transform="translate(1482.27 250.71) scale(1.1981 0.9877)" font-size="48">1.0</text>
<text transform="translate(1482.23 362.61) scale(1.2028 0.9877)" font-size="48">0.9</text>
<text transform="translate(1482.24 474.51) scale(1.1986 0.9877)" font-size="48">0.8</text>
<text transform="translate(1482.26 586.31) scale(1.1884 0.9908)" font-size="48">0.7</text>
<text transform="translate(1482.31 685.52) scale(1.1584 0.9755)" font-size="48">0.636</text>
<text transform="translate(1665.92 514.02) rotate(-90) scale(1.0034 1.0451)" font-size="48">电势</text>
<text transform="translate(1674.05 413.20) rotate(-90) scale(1.5338 1.4953)" font-size="48">/</text>
<text transform="translate(1661.10 386.24) rotate(-90) scale(0.8780 0.9310)" font-size="48">(</text>
<text transform="translate(1663.00 370.17) rotate(-90) scale(1.0414 1.0095)" font-size="48">1</text>
<text transform="translate(1663.88 342.41) rotate(-90) scale(1.1176 1.0309)" font-size="48">0</text>
<text transform="translate(1649.83 315.61) rotate(-90) scale(0.7879 0.7307)" font-size="48">3</text>
<text transform="translate(1663.45 282.36) rotate(-90) scale(1.1250 1.0717)" font-size="48">V</text>
<text transform="translate(1660.87 240.31) rotate(-90) scale(0.8710 0.9241)" font-size="48">)</text>
</g>
<g clip-path="url(#cbp)"><rect x="1934.7" y="34.7" width="885.6" height="669.0" fill="#1b1a80"/>
<path d="M1934.7 703.7l394.1 0-7.8-7.8 0-1.1-2.2-2.2 0-1.2-2.2-2.2 0-1.1-1.1-1.1 0-1.1-1.1-1.2 0-1.1-1.1-1.1 0-1.1-1.1-1.1 0-2.2-1.2-1.2 0-2.2-1.1-1.1 0-2.2-1.1-1.1 0-4.5-1.1-1.1 0.1-23.4 1.1-1.2 0-4.4 1.1-1.1 0-2.3 1.1-1.1 0-2.2 1.1-1.1 0-2.2 1.1-1.2 0-1.1 1.1-1.1 0-1.1 1.1-1.1 0-1.1 1.1-1.2 0-1.1 2.2-2.2 0-1.1 2.2-2.2 0-1.2 4.5-4.4 0-1.1 4.4-4.5 1.1 0 4.4-4.5 1.1 0 2.3-2.2 1.1 0 2.2-2.2 1.1 0 1.1-1.1 1.1 0 1.1-1.1 1.1 0 1.1-1.2 2.2 0 1.1-1.1 1.1 0 1.2-1.1 2.2 0 1.1-1.1 3.3 0 1.1-1.1 5.5 0 1.1-1.1 8.9 0 8.9 0 1.1 1.1 5.5 0 1.1 1.1 3.3 0 1.1 1.1 2.2 0 1.2 1.1 1.1 0 1.1 1.1 2.2 0 1.1 1.2 1.1 0 1.1 1.1 1.1 0 1.1 1.1 1.1 0 2.2 2.2 1.1 0 2.3 2.2 1.1 0 4.4 4.5 1.1 0 4.4 4.5 0 1.1 4.5 4.4 0 1.2 2.2 2.2 0 1.1 2.2 2.2 0 1.1 1.1 1.2 0 1.1 1.1 1.1 0 1.1 1.1 1.1 0 1.1 1.1 1.2 0 2.2 1.1 1.1 0 2.2 1.1 1.1 0 2.3 1.1 1.1 0 4.4 1.1 1.2 0.1 23.4-1.1 1.1 0 4.5-1.1 1.1 0 2.2-1.1 1.1 0 2.2-1.2 1.2 0 2.2-1.1 1.1 0 1.1-1.1 1.1 0 1.1-1.1 1.2 0 1.1-1.1 1.1 0 1.1-2.2 2.2 0 1.2-2.2 2.2 0 1.1-7.8 7.8 394.1 0 0-275.1-71.7 10.8-22.4 2.6-21 1.4-20 0.4-18.8-1-16.6-2.2-15.5-3.5-12.2-3.9-12.1-4.9-11.1-5.6-12.2-7.1-21-14.4-44.3-33.8-19.9-14.4-21-13.7-20-11-21-9.3-11.1-3.9-9.9-2.8-10-2.2-10-1.6-9.9-0.9-11.1-0.4-11.1 0.4-9.9 0.9-10 1.6-10 2.2-9.9 2.8-11.1 3.9-21 9.3-20 11-21 13.7-19.9 14.4-44.3 33.8-21 14.4-12.2 7.1-11.1 5.6-12.1 4.9-12.2 3.9-15.5 3.5-16.6 2.2-18.8 1-20-0.4-21-1.4-22.4-2.6-71.7-10.8 0 275.1zM2255.7 700.4l-1.1-1-1.2-0.2 0.1-3.5 1.1-1 2.2-0.5 3.4 0.5 1.1 1.2 0 2.4-3.2 2.1-2.4 0zM2497.1 700.4l-1.2-1-1.2-0.2-1-0.9 0-2.4 1.1-1.2 2.3-0.4 3.3 0.4 1.2 1.2 0 3.3-1.2 0.2-1 1-2.3 0zM2367.3 72.6l10.2 0.8 11.1-0.9 9.9-2.6 10-4.4 8.9-5.7 8.1-7.3 7-8.9 4.7-8.9-119.4 0 3.3 6.7 4.6 6.7 5.3 6 6.6 5.7 6.7 4.5 7.7 3.9 7.8 2.7 7.5 1.7zM1934.7 35.8l0 1 2.1-2.1-2.1 0 0 1.1zM2819.2 35.8l1.1 1 0-2.1-2.1 0 1 1.1z" fill="#1c1b85"/>
<path d="M1934.7 703.7l394.1 0-7.8-7.8 0-1.1-2.2-2.2 0-1.2-2.2-2.2 0-1.1-1.1-1.1 0-1.1-1.1-1.2 0-1.1-1.1-1.1 0-1.1-1.2-1.1 0-2.2-1.1-1.2-0.1-2.2-1.1-1.1-0.1-2.2-1.1-1.1 0.1-4.5-1.1-1.1 0.1-23.4 1.1-1.2 0.1-4.4 1.1-1.1 0-2.3 1.1-1.1 0-2.2 1.1-1.1 0-2.3 1.1-1.1 0-1.1 1.1-1.1 0-1.1 1.1-1.1 0-1.1 1.1-1.2 0-1.1 2.2-2.2 0-1.1 2.2-2.2 0-1.2 4.5-4.4 0-1.1 4.4-4.5 1.1 0 4.4-4.5 1.1 0 2.3-2.2 1.1 0 2.2-2.2 1.1 0 1.1-1.1 1.1 0 1.1-1.2 1.1 0 1.1-1.1 2.2 0 1.1-1.1 1.1 0 1.2-1.1 2.2 0 1.1-1.1 3.3 0 1.1-1.1 5.5 0 1.1-1.1 8.9 0 8.9 0 1.1 1.1 5.5 0 1.1 1.1 3.3 0 1.1 1.1 2.2 0 1.2 1.1 1.1 0 1.1 1.1 2.2 0 1.1 1.1 1.1 0 1.1 1.2 1.1 0 1.1 1.1 1.1 0 2.2 2.2 1.1 0 2.3 2.2 1.1 0 4.4 4.5 1.1 0 4.4 4.5 0 1.1 4.5 4.4 0 1.2 2.2 2.2 0 1.1 2.2 2.2 0 1.1 1.1 1.2 0 1.1 1.1 1.1 0 1.1 1.1 1.1 0 1.1 1.1 1.1 0 2.3 1.1 1.1 0 2.2 1.1 1.1 0 2.3 1.1 1.1 0.1 4.4 1.1 1.2 0.1 23.4-1.1 1.1 0.1 4.5-1.1 1.1-0.1 2.2-1.1 1.1-0.1 2.2-1.1 1.2 0 2.2-1.2 1.1 0 1.1-1.1 1.1 0 1.1-1.1 1.2 0 1.1-1.1 1.1 0 1.1-2.2 2.2 0 1.2-2.2 2.2 0 1.1-7.8 7.8 394.1 0 0-267.3-73.1 11.3-23.2 2.7-21 1.6-20 0.4-18.8-0.8-17.2-2.1-16-3.5-12.2-3.9-11-4.5-12-6-11.3-6.6-21-14.7-43.2-33.6-19.9-14.7-21.1-13.9-18.8-10.7-21-9.6-11.1-3.9-9.9-2.9-10-2.3-10-1.7-9.9-1-11.1-0.4-11.1 0.4-9.9 1-10 1.7-10 2.3-9.9 2.9-11.1 3.9-21 9.6-18.8 10.7-21.1 13.9-19.9 14.7-43.2 33.6-21 14.7-11.3 6.6-12 6-11 4.5-12.2 3.9-16 3.5-17.2 2.1-18.8 0.8-20-0.4-21-1.6-23.2-2.7-73.1-11.3 0 267.3zM2255.7 700.4l-2.4-1.2-0.2-2.2 0.4-1.5 1.1-1 2.2-0.9 3.4 0.9 1.2 1.4-0.1 2.6-2.9 1.9-2.7 0zM2497.1 700.4l-3.4-1.9-0.1-2.6 1.2-1.4 3.4-0.9 2.2 0.9 1.1 1 0.4 2.6-0.2 1.1-1.3 0.4-0.8 0.8-2.5 0zM2367.6 70.4l9.9 0.8 11.1-1 9.9-2.7 8.9-4 8.8-5.9 7.8-7.1 6.2-8 3.9-7.8-113.2 0 2.5 5.6 4.6 6.7 5.2 5.8 6.2 5.3 7.1 4.7 6.6 3.3 6.7 2.5 7.8 1.8zM1934.7 35.8l0 0.9 1.9-2-1.9 0 0 1.1zM2819.4 35.8l0.9 0.9 0-2-1.9 0 1 1.1z" fill="#1c1c89"/>
<path d="M1934.7 703.7l394.1 0-7.8-7.8 0-1.1-2.2-2.2 0-1.2-2.2-2.2 0-1.1-1.1-1.1 0-1.1-1.1-1.2-0.1-1.1-1.1-1.1 0-1.1-1.1-1.1 0-2.2-1.2-1.2-0.1-2.2-1.1-1.1-0.3-2.2-1-1.1 0.1-4.5-1-1.1 0.2-23.4 1.1-1.2 0-4.4 1.1-1.1 0-2.3 1.2-1.1 0-2.2 1.1-1.1 0-2.3 1.1-1.1 0-1.1 1.1-1.1 0-1.1 1.1-1.1 0-1.1 1.1-1.2 0-1.1 2.2-2.2 0-1.1 2.2-2.2 0-1.2 4.5-4.4 0-1.1 4.4-4.5 1.1 0 4.4-4.5 1.1 0 2.3-2.2 1.1 0 2.2-2.2 1.1 0 1.1-1.1 1.1 0 1.1-1.2 1.1 0 1.1-1.1 2.2 0 1.1-1.1 1.1 0 1.2-1.1 2.2 0 1.1-1.1 3.3 0 1.1-1.1 5.5 0 1.1-1.1 8.9 0 8.9 0 1.1 1.1 5.5 0 1.1 1.1 3.3 0 1.1 1.1 2.2 0 1.2 1.1 1.1 0 1.1 1.1 2.2 0 1.1 1.1 1.1 0 1.1 1.2 1.1 0 1.1 1.1 1.1 0 2.2 2.2 1.1 0 2.3 2.2 1.1 0 4.4 4.5 1.1 0 4.4 4.5 0 1.1 4.5 4.4 0 1.2 2.2 2.2 0 1.1 2.2 2.2 0 1.1 1.1 1.2 0 1.1 1.1 1.1 0 1.1 1.1 1.1 0 1.1 1.1 1.1 0 2.3 1.1 1.1 0 2.2 1.2 1.1 0 2.3 1.1 1.1 0 4.4 1.1 1.2 0.2 23.4-1 1.1 0.1 4.5-1 1.1-0.3 2.2-1.1 1.1-0.1 2.2-1.2 1.2 0 2.2-1.1 1.1 0 1.1-1.1 1.1-0.1 1.1-1.1 1.2 0 1.1-1.1 1.1 0 1.1-2.2 2.2 0 1.2-2.2 2.2 0 1.1-7.8 7.8 394.1 0 0-257.7-74.2 11.8-24.3 2.9-22.2 1.8-21 0.5-18.8-0.7-17.7-2.2-15.5-3.3-12.2-3.8-11.1-4.5-11.2-5.7-12-7.2-19.9-14.2-42.1-33.5-19.9-15-21.1-14.2-18.8-10.8-11.1-5.4-9.9-4.2-10-3.6-9.9-3-10-2.3-10-1.6-9.9-1-10-0.3-10 0.3-9.9 1-10 1.6-10 2.3-9.9 3-10 3.6-9.9 4.2-11.1 5.4-18.8 10.8-21.1 14.2-19.9 15-42.1 33.5-19.9 14.2-12 7.2-11.2 5.7-11.1 4.5-12.2 3.8-15.5 3.3-17.7 2.2-18.8 0.7-21-0.5-22.2-1.8-24.3-2.9-74.2-11.8 0 257.7zM2255.7 700.5l-2.5-1.3-0.5-2.2 0.8-1.8 3.3-1.7 3.4 0.8 1.4 1.6 0.1 2.2-0.4 0.7-2.6 1.6-3 0.1zM2497.1 700.5l-3.4-1.7-0.4-0.7 0.1-2.2 1.4-1.6 1.3-0.6 3 0 2.4 1.5 0.8 1.8-0.1 1.1-0.4 1.1-2 1.2-2.7 0.1zM2371.1 68.2l8.6 0.3 8.9-1.1 8.8-2.5 8.9-4 7.7-5.2 7.2-6.5 5.4-6.7 4.3-7.8-106.8 0 2.8 5.6 4.9 6.7 5.4 5.5 6 4.9 6.6 4.1 6.7 3 6.6 2.2 8 1.5zM1934.7 35.8l0 0.7 1.6-1.8-1.6 0 0 1.1zM2819.6 35.8l0.7 0.7 0-1.8-1.6 0 0.9 1.1z" fill="#1d1d8f"/>
<path d="M1934.7 703.7l394.1 0-7.8-7.8 0-1.1-2.2-2.2 0-1.2-2.2-2.2 0-1.1-1.2-1.1 0-1.1-1.1-1.2 0-1.1-1.1-1.1 0-1.1-1.1-1.1-0.1-2.2-1.1-1.2-0.2-2.2-1.2-1.1-0.4-2.2-1-1.1 0.2-4.5-0.9-1.1 0.3-23.4 1.1-1.2 0-4.4 1.1-1.1 0-2.3 1.1-1.1 0-2.2 1.2-1.1 0-2.3 1.1-1.1 0-1.1 1.1-1.1 0-1.1 1.1-1.1 0-1.1 1.1-1.2 0-1.1 2.2-2.2 0-1.1 2.2-2.2 0-1.2 4.4-4.4 0-1.1 4.5-4.5 1.1 0 4.4-4.5 1.1 0 2.3-2.2 1.1 0 2.2-2.2 1.1 0 1.1-1.2 1.1 0 1.1-1.1 1.1 0 1.1-1.1 2.2 0 1.1-1.1 1.1 0 1.2-1.1 2.2 0 1.1-1.1 3.3 0 1.1-1.1 5.5 0 1.1-1.2 8.9 0 8.9 0 1.1 1.2 5.5 0 1.1 1.1 3.3 0 1.1 1.1 2.2 0 1.2 1.1 1.1 0 1.1 1.1 2.2 0 1.1 1.1 1.1 0 1.1 1.1 1.1 0 1.1 1.2 1.1 0 2.2 2.2 1.1 0 2.3 2.2 1.1 0 4.4 4.5 1.1 0 4.5 4.5 0 1.1 4.4 4.4 0 1.2 2.2 2.2 0 1.1 2.2 2.2 0 1.1 1.1 1.2 0 1.1 1.1 1.1 0 1.1 1.1 1.1 0 1.1 1.1 1.1 0 2.3 1.2 1.1 0 2.2 1.1 1.1 0 2.3 1.1 1.1 0 4.4 1.1 1.2 0.3 23.4-0.9 1.1 0.2 4.5-1 1.1-0.4 2.2-1.2 1.1-0.2 2.2-1.1 1.2-0.1 2.2-1.1 1.1 0 1.1-1.1 1.1 0 1.1-1.1 1.2 0 1.1-1.2 1.1 0 1.1-2.2 2.2 0 1.2-2.2 2.2 0 1.1-7.8 7.8 394.1 0 0-246.2-75.3 12.3-25.4 3.1-23.3 2-21 0.7-19.9-0.6-17.8-1.9-16.9-3.5-11.8-3.7-11.1-4.5-11.1-5.7-11-6.7-20-14.5-40.4-33-19.4-14.9-19.9-13.7-18.8-11.1-19.9-9.4-10-3.8-9.9-3.1-10-2.4-10-1.7-9.9-1.1-10-0.3-10 0.3-9.9 1.1-10 1.7-10 2.4-9.9 3.1-10 3.8-19.9 9.4-18.8 11.1-19.9 13.7-19.4 14.9-40.4 33-20 14.5-11 6.7-11.1 5.7-11.1 4.5-11.8 3.7-16.9 3.5-17.8 1.9-19.9 0.6-21-0.7-23.3-2-25.4-3.1-75.3-12.3 0 246.2zM2255.7 700.5l-2.8-1.3-0.5-1.1 0.4-2.2 0.7-1.1 2.2-1.3 2.2-0.3 2.3 0.8 1.7 1.9 0 2.2-0.6 1-2.2 1.3-3.4 0.1zM2495.9 700.4l-2-1.2-0.8-1.1 0-2.2 0.8-1.1 2-1.3 2.3-0.3 3.3 1.6 1.2 2.2-0.6 2.2-2.8 1.3-3.4-0.1zM2369.6 64.8l7.9 0.6 8.9-0.7 8.8-2.3 7.8-3.4 7.7-4.9 6.7-5.8 5.9-6.9 3.9-6.7-99.4 0 3.2 5.6 4.3 5.6 4.6 4.5 5.4 4.4 5.6 3.6 5.6 2.7 6.6 2.3 6.5 1.4zM1934.7 35.8l0 0.5 1.3-1.6-1.3 0 0 1.1zM2819.8 35.8l0.5 0.5 0-1.6-1.3 0 0.8 1.1z" fill="#1e1e98"/>
<path d="M1934.7 703.7l394.1 0-7.8-7.8 0-1.1-2.2-2.2 0-1.2-2.3-2.2 0-1.1-1.1-1.1 0-1.1-1.1-1.2 0-1.1-1.2-1.1 0-1.1-1.1-1.1-0.1-2.2-1.2-1.2-0.2-2.2-1.2-1.1-0.4-1.6-1.2-1.8-0.2-1.1 0.5-3.3-0.8-1.1 0.5-23.4 1.1-1.2 0-4.4 1.1-1.1 0-2.3 1.1-1.1 0-2.2 1.1-1.1 0-2.3 1.1-1.1 0-1.1 1.2-1.1 0-1.1 1.1-1.1 0-1.1 1.1-1.2 0-1.1 2.2-2.2 0-1.1 2.2-2.2 0-1.2 4.4-4.4 0-1.1 4.5-4.5 1.1 0 4.4-4.5 1.1 0 2.3-2.2 1.1 0 2.2-2.2 1.1 0 1.1-1.2 1.1 0 1.1-1.1 1.1 0 1.1-1.1 2.2 0 1.1-1.1 1.1 0 1.2-1.1 2.2 0 1.1-1.1 3.3 0 1.1-1.2 5.5 0 1.1-1.1 8.9 0 8.9 0 1.1 1.1 5.5 0 1.1 1.2 3.3 0 1.1 1.1 2.2 0 1.2 1.1 1.1 0 1.1 1.1 2.2 0 1.1 1.1 1.1 0 1.1 1.1 1.1 0 1.1 1.2 1.1 0 2.2 2.2 1.1 0 2.3 2.2 1.1 0 4.4 4.5 1.1 0 4.5 4.5 0 1.1 4.4 4.4 0 1.2 2.2 2.2 0 1.1 2.2 2.2 0 1.1 1.1 1.2 0 1.1 1.1 1.1 0 1.1 1.2 1.1 0 1.1 1.1 1.1 0 2.3 1.1 1.1 0 2.2 1.1 1.1 0 2.3 1.1 1.1 0 4.4 1.1 1.2 0.5 23.4-0.8 1.1 0.5 3.3-0.2 1.1-1.2 1.8-0.4 1.6-1.2 1.1-0.2 2.2-1.2 1.2-0.1 2.2-1.1 1.1 0 1.1-1.2 1.1 0 1.1-1.1 1.2 0 1.1-1.1 1.1 0 1.1-2.3 2.2 0 1.2-2.2 2.2 0 1.1-7.8 7.8 394.1 0 0-232.5-75.3 12.6-26.5 3.4-23.3 2.1-23.2 1.1-20-0.3-17.7-1.5-16.6-3-12.2-3.3-11-4.1-11.1-5.3-11.4-6.7-19.6-14.2-43.2-36-22.1-17-12.2-8.4-12.2-7.6-12.1-6.7-11.1-5.3-13.3-5.3-12.2-3.8-12.1-2.7-12.2-1.6-12.2-0.6-12.2 0.6-12.2 1.6-12.1 2.7-12.2 3.8-13.3 5.3-13.3 6.4-14.4 8.3-15.5 10.2-15.5 11.4-15.5 12.4-35.5 29.8-18.7 14-11.1 7-11 5.7-11.1 4.6-11.1 3.5-16.6 3.5-18.8 2-21 0.6-22.6-0.8-25-2.1-27.1-3.5-28.6-4.4-48.4-8.4 0 232.5zM2254.6 700.4l-1.9-1.2-0.6-1.1 0.3-2.2 1.1-1.5 2.2-1.3 2.2-0.2 2.3 0.7 1.4 1.2 0.8 2.2-0.9 2.2-2.4 1.3-4.5-0.1zM2495.9 700.5l-2.4-1.3-0.7-1.1 0-2.2 0.9-1.4 1.1-0.9 2.3-0.7 2.2 0.2 2.2 1.3 1.5 2.6-0.7 2.2-1.9 1.2-4.5 0.1zM2371.6 61.5l7 0.3 7.8-0.8 7.7-2.1 6.6-3 6.7-4.1 5.8-4.8 6.1-6.7 3.6-5.6-90.8 0 2.8 4.5 4.7 5.5 4.7 4.5 4.4 3.4 5.6 3.3 5.5 2.6 5.5 1.8 6.3 1.2zM1934.7 35.8l1-1.1-1 0 0 1.1zM2820.2 35.8l0.1-1.1-1 0 0.9 1.1z" fill="#1f20a1"/>
<path d="M1934.7 703.7l394 0-7.7-7.8 0-1.1-2.3-2.2 0-1.2-2.2-2.2 0-1.1-1.1-1.1 0-1.1-1.2-1.2 0-1.1-1.1-1.1 0-1.1-1.2-1.1-0.1-2.2-1.2-1.2-0.3-2.2-2.5-2.6-0.9-1.8-0.1-2.3 0.9-2.2-0.7-1.1 0.7-23.4 1.1-1.2 0-4.4 1.1-1.1 0-2.3 1.1-1.1 0-2.2 1.1-1.1 0-2.3 1.1-1.1 0-1.1 1.1-1.1 0-1.1 1.1-1.1 0-1.1 1.2-1.2 0-1.1 2.2-2.2 0-1.1 2.2-2.2 0-1.2 4.4-4.4 0-1.1 4.5-4.5 1.1 0 4.4-4.5 1.1 0 2.3-2.2 1.1 0 2.2-2.3 1.1 0 1.1-1.1 1.1 0 1.1-1.1 1.1 0 1.1-1.1 2.2 0 1.1-1.1 1.1 0 1.2-1.1 2.2 0 1.1-1.1 3.3-0.1 1.1-1.1 5.5 0 1.1-1.1 8.9 0 8.9 0 1.1 1.1 5.5 0 1.1 1.1 3.3 0.1 1.1 1.1 2.2 0 1.2 1.1 1.1 0 1.1 1.1 2.2 0 1.1 1.1 1.1 0 1.1 1.1 1.1 0 1.1 1.1 1.1 0 2.2 2.3 1.1 0 2.3 2.2 1.1 0 4.4 4.5 1.1 0 4.5 4.5 0 1.1 4.4 4.4 0 1.2 2.2 2.2 0 1.1 2.2 2.2 0 1.1 1.2 1.2 0 1.1 1.1 1.1 0 1.1 1.1 1.1 0 1.1 1.1 1.1 0 2.3 1.1 1.1 0 2.2 1.1 1.1 0 2.3 1.1 1.1 0 4.4 1.1 1.2 0.7 23.4-0.7 1.1 0.9 2.2-0.1 2.3-0.9 1.8-2.5 2.6-0.3 2.2-1.2 1.2-0.1 2.2-1.2 1.1 0 1.1-1.1 1.1 0 1.1-1.2 1.2 0 1.1-1.1 1.1 0 1.1-2.2 2.2 0 1.2-2.3 2.2 0 1.1-7.7 7.8 394 0 0-220.4-44.3 7.8-29.9 4.7-28.8 3.8-24.3 2.3-24.4 1.2-21-0.1-18.8-1.5-17.7-2.9-12.2-3.3-11.1-4.1-11-5.3-10.7-6.3-18.2-13.4-42-35.5-21-16.4-12.2-8.5-11.1-7-11-6.2-11.1-5.5-12.2-5-12.2-4-12.1-2.9-11.1-1.7-11.1-0.8-12.2 0.3-12.1 1.4-12.2 2.5-13.3 4-13.3 5.2-13.3 6.5-14.4 8.2-15.5 10.3-15.4 11.6-15.5 12.6-33.3 28.3-18.1 13.8-10.6 6.7-10.8 5.5-11.1 4.5-11 3.3-17 3.4-18.8 1.9-22.1 0.5-24.4-1-26.5-2.4-27.9-3.5-29.7-4.6-47.6-8.4 0 220.4zM2254.6 700.5l-2.2-1.2-0.6-1.2 0.3-2.2 1.4-1.9 2.2-1.2 2.2-0.2 2.3 0.6 1.8 1.6 0.7 2.2-0.9 2.2-2.7 1.4-4.5-0.1zM2495.9 700.6l-2.7-1.4-0.7-1.1-0.2-1.1 0.7-2.2 1.8-1.6 2.3-0.6 2.2 0.2 2.2 1.2 1.1 1.3 0.6 1.7-0.6 2.2-2.2 1.3-4.5 0.1zM2369.7 58.1l6.7 0.7 6.6-0.3 7.8-1.7 6.6-2.7 6.5-3.8 5.7-4.5 5.5-5.5 4-5.6-83.2 0 6.2 7.9 8.8 7.6 8.9 4.9 9.9 3zM1934.7 34.7l0 1 0.9-1-0.9 0zM2819.4 34.7l0.9 1 0-1-0.9 0z" fill="#2022aa"/>
<path d="M1934.7 703.7l394 0-7.8-7.8 0-1.1-2.2-2.2 0-1.2-2.2-2.2 0-1.1-1.2-1.1 0-1.1-1.1-1.2 0-1.1-1.2-1.1 0-1.1-1.1-1.1-0.2-2.2-1.2-1.2-0.4-2.2-2.3-1.6-1.6-2.8 0-2.3 0.7-2.2 0.4-5.6 0.3-18.9 1.1-1.2 0.1-4.4 1.1-1.1 0-2.3 1.1-1.1 0-2.2 1.1-1.1 0-2.3 1.1-1.1 0-1.1 1.1-1.1 0-1.1 1.1-1.1 0-1.1 1.1-1.2 0-1.1 2.3-2.2 0-1.1 2.2-2.2 0-1.2 4.4-4.4 0-1.1 4.5-4.6 1.1 0 4.4-4.4 1.1 0 2.3-2.2 1.1 0 2.2-2.3 1.1 0 1.1-1.1 1.1 0 1.1-1.1 1.1 0 1.1-1.1 2.2 0 1.1-1.1 1.1 0 1.2-1.1 2.2 0 1.1-1.2 3.3 0 1.1-1.1 5.5 0 1.1-1.1 8.9 0 8.9 0 1.1 1.1 5.5 0 1.1 1.1 3.3 0 1.1 1.2 2.2 0 1.2 1.1 1.1 0 1.1 1.1 2.2 0 1.1 1.1 1.1 0 1.1 1.1 1.1 0 1.1 1.1 1.1 0 2.2 2.3 1.1 0 2.3 2.2 1.1 0 4.4 4.4 1.1 0 4.5 4.6 0 1.1 4.4 4.4 0 1.2 2.2 2.2 0 1.1 2.3 2.2 0 1.1 1.1 1.2 0 1.1 1.1 1.1 0 1.1 1.1 1.1 0 1.1 1.1 1.1 0 2.3 1.1 1.1 0 2.2 1.1 1.1 0 2.3 1.1 1.1 0.1 4.4 1.1 1.2 0.3 18.9 0.4 5.6 0.7 2.2 0 2.3-1.6 2.8-2.3 1.6-0.4 2.2-1.2 1.2-0.2 2.2-1.1 1.1 0 1.1-1.2 1.1 0 1.1-1.1 1.2 0 1.1-1.2 1.1 0 1.1-2.2 2.2 0 1.2-2.2 2.2 0 1.1-7.8 7.8 394 0 0-209.6-44 7.8-30.2 4.7-29.9 3.9-27.4 2.5-25.7 1.3-22.1-0.2-20-1.6-16.6-2.8-11-2.9-11.1-4-11.1-5.2-9.9-6-17.9-13.1-39.7-34.1-19.9-15.8-11.1-7.8-11.1-7.1-11-6.4-11.1-5.5-12.2-5.2-11.1-3.7-12.1-3.1-11.1-1.8-11.1-0.9-12.1 0.2-11.1 1.1-12.2 2.4-13.3 3.8-13.3 5.2-13.2 6.3-14.4 8.2-14.4 9.5-15.5 11.6-15.5 12.7-32.6 28.1-17.2 13.2-10 6.3-10 5.2-10.7 4.3-11.4 3.5-17.7 3.4-19.9 1.8-22.2 0.4-25.4-1-28.2-2.5-30.5-3.8-32.4-5.1-44-7.8 0 209.6zM2254.6 700.6l-2.2-1.1-0.9-1.4 0.2-2.2 1.8-2.3 2.2-1.1 2.2-0.2 2.3 0.6 2.2 1.9 0.6 2.2-0.9 2.2-3 1.5-4.5-0.1zM2494.8 700.4l-1.9-1.2-0.9-2.2 0.6-2.2 1.1-1.2 2.2-1.1 2.3-0.2 2.2 0.6 2.2 1.9 0.9 2.2 0 1.1-0.9 1.4-1.2 0.9-2.1 0.4-4.5-0.4zM2372 55.9l5.5 0.4 6.6-0.6 5.6-1.3 5.5-2.2 5.5-3.1 5.9-4.4 5.2-5 3.9-5-76.4 0 2.4 3.3 4.2 4.5 8.4 6.6 8.8 4.5 8.9 2.3zM1934.7 34.7l0 0.9 0.8-0.9-0.8 0zM2819.5 34.7l0.8 0.9 0-0.9-0.8 0z" fill="#2125b1"/>
<path d="M1934.7 703.7l394 0-7.8-7.8 0-1.1-2.2-2.2 0-1.2-2.3-2.2 0-1.1-1.1-1.1 0-1.1-1.1-1.2-0.1-1.1-1.1-1.1-0.1-1.1-1.1-1.1-0.2-2.2-1.2-1.2-0.4-2-2.6-1.3-1.8-3.3-0.1-2.3 1.2-3.2 0.5-4.6 0.4-18.9 1.1-1.2 0-4.4 1.1-1.1 0.1-2.3 1.1-1.1 0-2.2 1.1-1.1 0-2.3 1.1-1.1 0-1.1 1.1-1.1 0-1.1 1.1-1.1 0-1.1 1.1-1.2 0-1.1 2.2-2.2 0-1.1 2.3-2.2 0-1.2 4.4-4.4 0-1.1 4.5-4.6 1.1 0 4.4-4.4 1.1 0 2.3-2.3 1.1 0 2.2-2.2 1.1 0 1.1-1.1 1.1 0 1.1-1.1 1.1 0 1.1-1.1 2.2 0 1.1-1.1 1.1 0 1.2-1.2 2.2 0 1.1-1.1 3.3 0 1.1-1.1 5.5 0 1.1-1.1 8.9 0 8.9 0 1.1 1.1 5.5 0 1.1 1.1 3.3 0 1.1 1.1 2.2 0 1.2 1.2 1.1 0 1.1 1.1 2.2 0 1.1 1.1 1.1 0 1.1 1.1 1.1 0 1.1 1.1 1.1 0 2.2 2.2 1.1 0 2.3 2.3 1.1 0 4.4 4.4 1.1 0 4.5 4.6 0 1.1 4.4 4.4 0 1.2 2.3 2.2 0 1.1 2.2 2.2 0 1.1 1.1 1.2 0 1.1 1.1 1.1 0 1.1 1.1 1.1 0 1.1 1.1 1.1 0 2.3 1.1 1.1 0 2.2 1.1 1.1 0.1 2.3 1.1 1.1 0 4.4 1.1 1.2 0.4 18.9 0.5 4.6 1.2 3.2-0.1 2.3-1.8 3.3-2.6 1.3-0.4 2-1.2 1.2-0.2 2.2-1.1 1.1-0.1 1.1-1.1 1.1-0.1 1.1-1.1 1.2 0 1.1-1.1 1.1 0 1.1-2.3 2.2 0 1.2-2.2 2.2 0 1.1-7.8 7.8 394 0 0-199.9-41 7.3-33.2 5.2-29.9 3.8-28.7 2.6-26.6 1.3-23.3 0-21-1.5-17.7-2.8-11.1-2.9-11-3.9-10-4.7-10.6-6.3-17.1-12.7-37.6-32.7-19.9-15.8-11.1-7.9-11.1-7.1-9.9-5.7-11.1-5.5-11.1-4.7-12.2-4.1-11-2.8-11.1-1.8-11.1-0.9-11 0.1-11.1 1.1-11.1 2-13.3 3.7-13.2 5-14.4 6.8-13.3 7.5-14.4 9.5-15.5 11.6-15.5 12.8-31 27.1-16.6 12.7-10 6.3-9.9 5-10 4-11.1 3.2-17.7 3.4-19.9 1.7-23.3 0.4-27.6-1.1-29.9-2.6-32.1-4-33.2-5.1-42.1-7.5 0 199.9zM2253.5 700.5l-1.8-1.3-0.6-2.2 0.9-2.2 1.5-1.6 2.2-1 3.4-0.1 2.2 1 1.5 1.7 0.6 2.2-0.3 1.1-1.8 1.9-3.4 0.9-4.4-0.4zM2494.8 700.5l-2.2-1.3-1-2.2 0.6-2.2 1.5-1.7 2.2-1 2.3-0.1 3.3 1.2 1.5 1.6 0.9 2.2-0.1 1.1-1.2 1.7-3.3 1.1-4.5-0.4zM2372.1 53.7l5.4 0.4 5.5-0.5 5.6-1.3 5.5-2.1 5.5-3.2 4.6-3.4 4.8-4.4 3.6-4.5-70.2 0 6.3 7.1 7.8 5.9 7.7 3.9 7.9 2.1zM1934.7 34.7l0 0.7 0.6-0.7-0.6 0zM2819.7 34.7l0.6 0.7 0-0.7-0.6 0z" fill="#2227b9"/>
<path d="M1934.7 703.7l394 0-7.8-7.8 0-1.1-2.2-2.2 0-1.2-2.3-2.2 0-1.1-1.1-1.1 0-1.1-1.2-1.2 0-1.1-1.2-1.1 0-1.1-1.2-1.1-0.2-2.2-1.2-1.2-0.3-1.4-2.1-0.8-1.2-1.1-1.6-3.3 0.1-3.4 1.5-3 0.3-2.6 0.6-20 1.1-1.2 0-4.4 1.1-1.1 0-2.3 1.1-1.1 0.1-2.2 1.1-1.1 0-2.2 1.1-1.2 0-1.1 1.1-1.1 0-1.1 1.1-1.1 0-1.1 1.1-1.2 0-1.1 2.2-2.2 0-1.1 2.2-2.2 0-1.2 4.5-4.4 0-1.1 4.5-4.6 1.1 0 4.4-4.4 1.1 0 2.3-2.3 1.1 0 2.2-2.2 1.1 0 1.1-1.1 1.1 0 1.1-1.1 1.1 0 1.1-1.1 2.2 0 1.1-1.2 1.1 0 1.2-1.1 2.2 0 1.1-1.1 3.3 0 1.1-1.1 5.5 0 1.1-1.1 8.9 0 8.9 0 1.1 1.1 5.5 0 1.1 1.1 3.3 0 1.1 1.1 2.2 0 1.2 1.1 1.1 0 1.1 1.2 2.2 0 1.1 1.1 1.1 0 1.1 1.1 1.1 0 1.1 1.1 1.1 0 2.2 2.2 1.1 0 2.3 2.3 1.1 0 4.4 4.4 1.1 0 4.5 4.6 0 1.1 4.5 4.4 0 1.2 2.2 2.2 0 1.1 2.2 2.2 0 1.1 1.1 1.2 0 1.1 1.1 1.1 0 1.1 1.1 1.1 0 1.1 1.1 1.2 0 2.2 1.1 1.1 0.1 2.2 1.1 1.1 0 2.3 1.1 1.1 0 4.4 1.1 1.2 0.6 20 0.3 2.6 1.5 3 0.1 3.4-1.6 3.3-1.2 1.1-2.1 0.8-0.3 1.4-1.2 1.2-0.2 2.2-1.2 1.1 0 1.1-1.2 1.1 0 1.1-1.2 1.2 0 1.1-1.1 1.1 0 1.1-2.3 2.2 0 1.2-2.2 2.2 0 1.1-7.8 7.8 394 0 0-191-39.6 7-32.4 5-32 3.9-29.9 2.7-27.7 1.4-24.4 0-21-1.3-18.9-2.8-11-2.7-11.1-3.8-9.9-4.6-10-5.8-16.6-12.4-36.5-32.1-18.8-15.1-21.1-14.3-9.9-5.7-11.1-5.6-11.1-4.7-11.1-3.8-11-2.9-11.1-1.9-11.1-1-11 0-11.1 1-11.1 1.9-13.3 3.6-13.2 4.9-13.3 6.1-14.4 8.1-14.4 9.5-15.5 11.7-14.4 12-29.9 26.4-15.8 12.3-9.6 6-10 5-10 3.9-11 3.1-17.8 3.1-21 1.7-24.3 0.3-28.8-1.2-31-2.6-32.1-3.9-35.4-5.3-39.9-7.1 0 191zM2253.5 700.6l-2.1-1.4-0.6-2.2 0.8-2.2 1.9-2 2.2-1 3.4-0.1 2.2 1 1.9 2.1 0.5 2.2-0.3 1.1-0.7 1.1-1.4 1-3.4 0.8-4.4-0.4zM2494.8 700.6l-2.5-1.4-1-2.2 0.5-2.2 1.9-2.1 2.2-1 3.4 0.1 2.2 1 1.9 2 0.8 2.2-0.1 1.1-0.5 1.1-1.4 1.2-2.9 0.6-4.5-0.4zM2370.7 51.4l4.6 0.7 5.5-0.1 5.6-1.1 4.4-1.5 5.5-2.8 4.5-3 5.5-4.8 3.4-4.1-64.4 0 4.5 5.2 6.7 5.3 6.6 3.8 7.6 2.4zM1934.7 34.7l0 0.6 0.5-0.6-0.5 0zM2819.8 34.7l0.5 0.6 0-0.6-0.5 0z" fill="#2429c1"/>
<path d="M1934.7 703.7l394 0-7.8-7.8 0-1.1-2.3-2.2 0-1.2-2.2-2.2 0-1.1-1.2-1.1 0-1.1-1.1-1.2-0.1-1.1-1.1-1.1-0.1-1.1-1.1-1.1-0.3-2.2-1.2-1.2-0.2-0.8-3.3-1.7-1.4-1.9-0.8-2.3 0.1-3.3 0.9-2.2 1.2-1.5 0.2-1.9 0.7-20 1.1-1.2 0-4.4 1.1-1.1 0-2.3 1.1-1.1 0-2.2 1.1-1.1 0.1-2.3 1.1-1.1 0-1.1 1.1-1.1 0-1.1 1.1-1.1 0-1.1 1.1-1.2 0-1.1 2.2-2.2 0-1.1 2.2-2.2 0-1.2 4.5-4.4 0-1.1 4.5-4.6 1.1 0 4.4-4.4 1.1-0.1 2.3-2.2 1.1 0 2.2-2.2 1.1 0 1.1-1.1 1.1 0 1.1-1.1 1.1 0 1.1-1.2 2.2 0 1.1-1.1 1.1 0 1.2-1.1 2.2 0 1.1-1.1 3.3 0 1.1-1.1 5.5 0 1.1-1.1 8.9 0 8.9 0 1.1 1.1 5.5 0 1.1 1.1 3.3 0 1.1 1.1 2.2 0 1.2 1.1 1.1 0 1.1 1.1 2.2 0 1.1 1.2 1.1 0 1.1 1.1 1.1 0 1.1 1.1 1.1 0 2.2 2.2 1.1 0 2.3 2.2 1.1 0.1 4.4 4.4 1.1 0 4.5 4.6 0 1.1 4.5 4.4 0 1.2 2.2 2.2 0 1.1 2.2 2.2 0 1.1 1.1 1.2 0 1.1 1.1 1.1 0 1.1 1.1 1.1 0 1.1 1.1 1.1 0.1 2.3 1.1 1.1 0 2.2 1.1 1.1 0 2.3 1.1 1.1 0 4.4 1.1 1.2 0.7 20 0.2 1.9 1.2 1.5 0.9 2.2 0.1 3.3-0.8 2.3-1.4 1.9-3.3 1.7-0.2 0.8-1.2 1.2-0.3 2.2-1.1 1.1-0.1 1.1-1.1 1.1-0.1 1.1-1.1 1.2 0 1.1-1.2 1.1 0 1.1-2.2 2.2 0 1.2-2.3 2.2 0 1.1-7.8 7.8 394 0 0-182.8-37.9 6.6-34.1 5.1-32.3 3.8-31.9 2.8-28.7 1.3-25.5 0-22.1-1.3-18.9-2.7-11-2.8-11.1-3.8-9.8-4.6-9-5.4-15.5-11.7-34.7-30.8-18.5-15-11-7.9-10-6.4-10-5.8-9.9-5-11.1-4.7-11.1-3.8-11-2.9-11.1-1.9-10-1-11-0.1-11.1 0.9-11.1 1.9-13.3 3.4-13.2 4.8-13.3 6.1-14.4 8.1-14.4 9.5-14.4 10.9-14.4 12.1-28.8 25.7-15.5 12.1-9.2 5.8-9.6 4.8-9.9 3.7-11.1 3-17.7 3-22.2 1.7-25.4 0.2-29.9-1.2-32.1-2.6-33.2-3.9-35.5-5.2-38.7-6.8 0 182.8zM2252.4 700.4l-1.3-1.2-0.5-1.1 0.1-2.2 1.3-2.2 2.6-1.9 3.3-0.6 2.3 0.5 2.2 1.4 1.2 1.7 0.5 2.2-0.3 1.1-0.7 1.1-1.7 1.2-5.7 0.7-3.3-0.7zM2493.7 700.4l-1.8-1.2-1-2.2 0.6-2.5 2.2-2.3 2.2-0.8 3.4 0 2.4 1.2 2.1 2.2 0.6 3.3-0.5 1.1-1.3 1.2-3.3 0.7-5.6-0.7zM2374.6 50.3l8.4-0.3 4.5-1.2 4.4-1.8 8.6-5.6 4.7-4.3 1.9-2.4-59.2 0 5.2 5.6 6.7 4.9 7.7 3.6 7.1 1.5zM1934.7 34.7l0 0.4 0.4-0.4-0.4 0zM2819.9 34.7l0.4 0.4-0.4-0.4z" fill="#252ccb"/>
<path d="M1934.7 703.7l394 0-7.9-7.8 0-1.1-2.2-2.2 0-1.2-2.3-2.2 0-1.1-1.1-1.1-0.1-1.1-1.1-1.2 0-1.1-1.2-1.1-0.1-1.1-1.2-1.1-0.3-2.2-1.2-1-2.2-0.6-2.3-1.7-1.4-2.3-0.6-2.2 0.2-4.5 3-4 0.8-20.5 1.1-1.2 0.1-4.4 1.1-1.1 0-2.3 1.1-1.1 0-2.2 1.1-1.1 0-2.2 1.1-1.2 0-1.1 1.1-1.1 0-1.1 1.1-1.1 0.1-1.1 1.1-1.2 0-1.1 2.2-2.2 0-1.1 2.2-2.2 0-1.2 4.4-4.4 0-1.1 4.6-4.6 1.1 0 4.4-4.5 1.1 0 2.3-2.2 1.1 0 2.2-2.2 1.1 0 1.1-1.1 1.1 0 1.1-1.2 1.1 0 1.1-1.1 2.2 0 1.1-1.1 1.1 0 1.2-1.1 2.2 0 1.1-1.1 3.3 0 1.1-1.1 5.5 0 1.1-1.1 8.9-0.1 8.9 0.1 1.1 1.1 5.5 0 1.1 1.1 3.3 0 1.1 1.1 2.2 0 1.2 1.1 1.1 0 1.1 1.1 2.2 0 1.1 1.1 1.1 0 1.1 1.2 1.1 0 1.1 1.1 1.1 0 2.2 2.2 1.1 0 2.3 2.2 1.1 0 4.4 4.5 1.1 0 4.6 4.6 0 1.1 4.4 4.4 0 1.2 2.2 2.2 0 1.1 2.2 2.2 0 1.1 1.1 1.2 0.1 1.1 1.1 1.1 0 1.1 1.1 1.1 0 1.1 1.1 1.2 0 2.2 1.1 1.1 0 2.2 1.1 1.1 0 2.3 1.1 1.1 0.1 4.4 1.1 1.2 0.8 20.5 3 4 0.2 4.5-0.6 2.2-1.4 2.3-2.3 1.7-2.2 0.6-1.2 1-0.3 2.2-1.2 1.1-0.1 1.1-1.2 1.1 0 1.1-1.1 1.2-0.1 1.1-1.1 1.1 0 1.1-2.3 2.2 0 1.2-2.2 2.2 0 1.1-7.9 7.8 394 0 0-168.3-35.4 6.1-34.3 4.8-34.4 3.7-34.3 2.7-31 1.3-28.8 0-24.3-1.3-18.8-2.7-11.1-2.7-10-3.4-8.8-4.2-8.9-5.4-14.4-11.2-31-28.4-17.7-14.7-18.8-13.1-10-5.9-9.9-5.1-11.1-4.7-9.9-3.5-11.1-3-11.1-2-11.1-1.1-9.9-0.1-10 0.6-11.1 1.7-13.2 3.2-14.4 5.1-13.3 6-13.3 7.4-13.3 8.8-14.4 11-13.3 11.4-27.6 25.5-13.8 10.9-8.4 5.4-8.8 4.4-9.4 3.6-10.6 2.8-18.8 3-23.2 1.6-27.7 0.2-32.1-1.1-35.4-2.7-35.9-3.8-35-4.9-36.5-6.2 0 168.3zM2252.4 700.7l-2-1.5-0.6-2.2 1.3-3.3 2.4-2.2 2.2-0.8 3.4-0.1 2.4 0.8 2.4 2.3 0.9 3.3-1 2.2-1.6 1.2-4.3 0.8-5.5-0.5zM2493.7 700.7l-2.5-1.5-1-2.2 0.9-3.3 2.6-2.4 3.4-0.9 3.3 0.6 2.4 1.6 1.8 2.2 0.5 3.3-1.6 2.3-4.2 0.9-5.6-0.6zM2371.7 47l3.6 0.6 4.4 0 7.8-1.9 4.4-2.1 4.4-3 4.4-3.7 1.9-2.2-50.2 0 3.1 3.3 5.9 4.5 5 2.7 5.3 1.8z" fill="#2730d3"/>
<path d="M1934.7 703.7l393.9 0-7.8-7.8 0-1.1-2.3-2.2 0-1.2-2.2-2.2 0-1.1-1.2-1.1 0-1.1-1.2-1.2 0-1.1-1.2-1.1-0.1-1.1-1.2-1.1-0.3-2.1-3.3-0.6-2.3-1.3-2.1-2.7-1.1-3.3 0-3.4 0.7-2.2 3.7-4.3 0.8-19.1 1.1-1.2 0-4.4 1.1-1.1 0-2.3 1.1-1.1 0.1-2.2 1.1-1.1 0-2.3 1.1-1.1 0-1.1 1.1-1.1 0-1.1 1.1-1.1 0-1.1 1.1-1.2 0-1.1 2.3-2.2 0-1.1 2.2-2.2 0-1.2 4.4-4.4 0-1.1 4.6-4.6 1.1 0 4.4-4.5 1.1 0 2.3-2.2 1.1 0 2.2-2.3 1.1 0 1.1-1.1 1.1 0 1.1-1.1 1.1 0 1.1-1.1 2.2 0 1.1-1.1 1.1 0 1.2-1.1 2.2 0 1.1-1.1 3.3 0 1.1-1.2 5.5 0 1.1-1.1 8.9 0 8.9 0 1.1 1.1 5.5 0 1.1 1.2 3.3 0 1.1 1.1 2.2 0 1.2 1.1 1.1 0 1.1 1.1 2.2 0 1.1 1.1 1.1 0 1.1 1.1 1.1 0 1.1 1.1 1.1 0 2.2 2.3 1.1 0 2.3 2.2 1.1 0 4.4 4.5 1.1 0 4.6 4.6 0 1.1 4.4 4.4 0 1.2 2.2 2.2 0 1.1 2.3 2.2 0 1.1 1.1 1.2 0 1.1 1.1 1.1 0 1.1 1.1 1.1 0 1.1 1.1 1.1 0 2.3 1.1 1.1 0.1 2.2 1.1 1.1 0 2.3 1.1 1.1 0 4.4 1.1 1.2 0.8 19.1 3.7 4.3 0.7 2.2 0 3.4-1.1 3.3-2.1 2.7-2.3 1.3-3.3 0.6-0.3 2.1-1.2 1.1-0.1 1.1-1.2 1.1 0 1.1-1.2 1.2 0 1.1-1.2 1.1 0 1.1-2.2 2.2 0 1.2-2.3 2.2 0 1.1-7.8 7.8 393.9 0 0-155.6-34.3 5.6-34.3 4.4-37.7 3.8-35.4 2.4-34.3 1.1-31-0.1-25.5-1.4-18.8-2.6-10-2.4-8.8-3.1-8-3.7-8.6-5.3-12.2-9.8-29.9-28.4-16.6-14.2-8.8-6.7-10-6.6-17.7-9.8-10-4.4-11-4-10-2.7-11.1-2.1-11.1-1.2-9.9-0.2-10 0.6-9.9 1.3-14.4 3.3-13.3 4.5-13.3 6-13.3 7.3-14.4 9.6-13.3 10.5-12.3 11-26.4 25.2-12.2 10-7.7 5-8.9 4.4-8.8 3.2-8.9 2.3-18.8 2.8-25.5 1.5-32.1 0.3-34.3-1.2-36.5-2.4-37.7-3.8-34.3-4.4-34.3-5.6 0 155.6zM2251.3 700.7l-1.7-1.5-0.3-3.3 1.8-3.3 2.4-2 3.3-1 3.4 0.3 2.8 1.5 1.9 2.3 0.7 3.3-1 2.2-1.4 1.2-3 0.8-3.4 0.3-5.5-0.8zM2492.6 700.7l-2.2-1.5-0.7-1.1-0.3-2.2 1.5-3.3 2.8-2.2 3.4-0.8 3.3 0.5 3.3 2.2 1.7 2.5 0.4 3.3-0.4 1.1-1.7 1.5-4.4 0.8-6.7-0.8zM2372.1 44.7l6.5 0.7 6.6-1.4 7.8-4.1 4.4-3.6 1.3-1.6-42.4 0 2 2.2 4.8 3.7 4.4 2.5 4.6 1.6z" fill="#2834db"/>
<path d="M1934.7 703.7l393.9 0-7.8-7.8-0.1-1.1-2.2-2.2 0-1.2-2.3-2.2 0-1.1-1.2-1.1 0-1.1-1.2-1.2 0-1.1-1.2-1.1-0.1-1.1-1.2-1.1-0.2-1.3-3.3-0.3-3.3-1.8-1.8-2.2-1.4-3.3-0.4-3.4 0.7-3.3 1.4-2.3 3.7-3.4 0.7-17.7 1.1-1.2 0.1-4.4 1.1-1.1 0-2.3 1.1-1.1 0-2.2 1.1-1.1 0-2.3 1.2-1.1 0-1.1 1.1-1.1 0-1.1 1.1-1.1 0-1.1 1.1-1.2 0-1.1 2.2-2.2 0-1.1 2.2-2.2 0.1-1.2 4.4-4.4 0-1.1 4.6-4.7 1.1 0 4.4-4.4 1.1 0 2.3-2.2 1.1-0.1 2.2-2.2 1.1 0 1.1-1.1 1.1 0 1.1-1.1 1.1 0 1.1-1.1 2.2 0 1.1-1.1 1.1 0 1.2-1.1 2.2-0.1 1.1-1.1 3.3 0 1.1-1.1 5.5 0 1.1-1.1 8.9 0 8.9 0 1.1 1.1 5.5 0 1.1 1.1 3.3 0 1.1 1.1 2.2 0.1 1.2 1.1 1.1 0 1.1 1.1 2.2 0 1.1 1.1 1.1 0 1.1 1.1 1.1 0 1.1 1.1 1.1 0 2.2 2.2 1.1 0.1 2.3 2.2 1.1 0 4.4 4.4 1.1 0 4.6 4.7 0 1.1 4.4 4.4 0.1 1.2 2.2 2.2 0 1.1 2.2 2.2 0 1.1 1.1 1.2 0 1.1 1.1 1.1 0 1.1 1.1 1.1 0 1.1 1.2 1.1 0 2.3 1.1 1.1 0 2.2 1.1 1.1 0 2.3 1.1 1.1 0.1 4.4 1.1 1.2 0.7 17.7 3.7 3.4 1.4 2.3 0.7 3.3-0.4 3.4-1.4 3.3-1.8 2.2-3.3 1.8-3.3 0.3-0.2 1.3-1.2 1.1-0.1 1.1-1.2 1.1 0 1.1-1.2 1.2 0 1.1-1.2 1.1 0 1.1-2.3 2.2 0 1.2-2.2 2.2-0.1 1.1-7.8 7.8 393.9 0 0-144.4-32.2 5-35.3 4.2-38.8 3.5-36.5 2.2-36.5 1-35.5-0.2-26.5-1.3-18.8-2.5-10-2.4-7.8-2.8-7.7-3.8-6.6-4.2-11.1-9.2-28-28-15.2-13.6-8.8-6.9-8.9-6.1-8.9-5.4-8.8-4.7-10-4.5-9.9-3.7-10-2.8-11.1-2.3-9.9-1.1-10-0.4-11.1 0.5-9.9 1.2-14.4 3.3-13.3 4.4-13.3 5.9-13.3 7.5-13.3 9.1-13.2 10.7-12 11.2-24.6 24.6-11 9.4-7.6 5-6.8 3.5-7.8 2.9-8.8 2.3-18.9 2.7-25.4 1.4-36.6 0.3-36.5-0.9-36.5-2.2-39.9-3.4-36.4-4.4-32.2-5 0 144.4zM2253.5 701.5l-3.3-0.7-1.4-1.6-0.4-1.1 0.4-3.3 2.5-3.6 3.3-2 3.3-0.5 3.4 0.6 3.3 2.3 1.3 2.1 0.6 2.2-0.4 2.2-1.5 1.9-4.4 1.4-6.7 0.1zM2495.9 701.5l-4.4-0.8-1.9-1.5-1-2.2 0.5-3.3 1.5-2.3 3.1-2.1 3.4-0.6 3.3 0.5 3.3 2 2 2.5 1 3.3-0.5 2.2-0.8 1.2-1.7 0.9-7.8 0.2zM2377.1 43.6l4.8-0.5 4.5-1.6 5.5-3.5 3.5-3.3-35.8 0 2.4 2.5 5.5 3.7 4.5 1.9 5.1 0.8z" fill="#2a38e4"/>
<path d="M1934.7 703.7l393.9 0-7.9-7.8 0-1.1-2.3-2.2 0-1.2-2.2-2.2-0.1-1.1-1.1-1.1-0.1-1.1-1.1-1.2-0.1-1.1-1.2-1.1-0.1-1.1-1.3-1.5-3.3-0.1-3.4-1.4-2.5-2.6-2-4.4-0.3-4.5 1-3.3 1.7-2.3 4.4-3.7 0.7-16.3 1.1-1.2 0-4.4 1.1-1.1 0.1-2.3 1.1-1.1 0-2.2 1.1-1.1 0-2.3 1.1-1.1 0-1.1 1.1-1.1 0-1.1 1.2-1.1 0-1.1 1.1-1.2 0-1.1 2.2-2.2 0-1.1 2.2-2.2 0-1.2 4.5-4.4 0-1.1 4.6-4.7 1.1 0 4.4-4.4 1.1 0 2.3-2.3 1.1 0 2.2-2.2 1.1 0 1.1-1.1 1.1 0 1.1-1.1 1.1 0 1.1-1.1 2.2-0.1 1.1-1.1 1.1 0 1.2-1.1 2.2 0 1.1-1.1 3.3 0 1.1-1.1 5.5 0 1.1-1.1 8.9 0 8.9 0 1.1 1.1 5.5 0 1.1 1.1 3.3 0 1.1 1.1 2.2 0 1.2 1.1 1.1 0 1.1 1.1 2.2 0.1 1.1 1.1 1.1 0 1.1 1.1 1.1 0 1.1 1.1 1.1 0 2.2 2.2 1.1 0 2.3 2.3 1.1 0 4.4 4.4 1.1 0 4.6 4.7 0 1.1 4.5 4.4 0 1.2 2.2 2.2 0 1.1 2.2 2.2 0 1.1 1.1 1.2 0 1.1 1.2 1.1 0 1.1 1.1 1.1 0 1.1 1.1 1.1 0 2.3 1.1 1.1 0 2.2 1.1 1.1 0.1 2.3 1.1 1.1 0 4.4 1.1 1.2 0.7 16.3 4.4 3.7 1.7 2.3 1 3.3-0.3 4.5-2 4.4-2.5 2.6-3.4 1.4-3.3 0.1-1.3 1.5-0.1 1.1-1.2 1.1-0.1 1.1-1.1 1.2-0.1 1.1-1.1 1.1-0.1 1.1-2.2 2.2 0 1.2-2.3 2.2 0 1.1-7.9 7.8 393.9 0 0-134.3-31 4.5-34.3 3.8-39.9 3.2-37.6 2-38.7 0.8-43.2-0.3-26.6-1.2-17.7-2.2-7.7-1.8-7.8-2.8-6.6-3.3-6.7-4.5-9.9-8.7-25.3-26.9-14.6-13.8-16.6-12.8-8.9-5.6-8.8-4.9-10-4.6-9.9-3.7-10-2.9-10-2.1-9.9-1.3-10-0.5-10 0.3-9.9 1.1-14.4 3-14.4 4.8-13.3 5.9-13.3 7.6-13.3 9.4-13.1 11.2-11.3 11.1-22 23.6-10 9-6.7 4.6-6.6 3.5-7.3 2.8-8.2 2.1-17.7 2.3-25.5 1.2-43.1 0.4-39.9-0.8-38.7-2-39.7-3.2-34.5-3.8-31-4.5 0 134.3zM2250.2 701.5l-1.6-1.1-0.7-1.2-0.2-3.3 0.7-2.2 1.5-2.3 3.6-2.8 4.4-1 3.4 0.6 3.3 1.9 1.9 2.5 0.9 2.2 0 2.2-1 2.2-1.8 1.5-4.4 0.9-10-0.1zM2493.7 701.5l-3.9-1.1-1.2-1.2-1-2.2 0.3-3.3 2.3-3.4 3.5-2.1 3.4-0.6 4.4 1 3.3 2.5 1.8 2.6 0.7 2.2 0.1 2.2-1 2.3-2.7 1.3-10-0.2zM2372.6 41.4l4.9 0.8 5.5-1 5.6-2.9 4-3.6-30.2 0 4 3.6 6.2 3.1z" fill="#2b3ee8"/>
<path d="M1934.7 703.7l366.7 0 2.2-1.1 1.9-0.2 2.9 0.2 2 1.1 18.2 0-7.9-7.8 0-1.1-2.3-2.2 0-1.2-2.3-2.2 0-1.1-1.2-1.1 0-1.1-1.2-1.2-0.1-1.1-1.2-1.1-0.1-1.1-1.2-0.6-4.4 0-3.4-1.5-3-3.5-1.9-4.4-0.3-4.5 1.4-4.5 1.9-2.2 4.1-2.8 1.2-1.3 0.6-14.8 1.1-1.2 0.1-4.4 1.1-1.1 0-2.3 1.1-1.1 0-2.2 1.2-1.1 0-2.3 1.1-1.1 0-1.1 1.1-1.1 0-1.1 1.1-1.1 0-1.1 1.1-1.2 0.1-1.1 2.2-2.2 0-1.1 2.2-2.2 0-1.2 4.4-4.4 0-1.1 4.7-4.7 1.1 0 4.4-4.5 1.1 0 2.3-2.2 1.1 0 2.2-2.2 1.1 0 1.1-1.1 1.1 0 1.1-1.2 1.1 0 1.1-1.1 2.2 0 1.1-1.1 1.1 0 1.2-1.1 2.2 0 1.1-1.1 3.3 0 1.1-1.1 5.5 0 1.1-1.1 8.9 0 8.9 0 1.1 1.1 5.5 0 1.1 1.1 3.3 0 1.1 1.1 2.2 0 1.2 1.1 1.1 0 1.1 1.1 2.2 0 1.1 1.1 1.1 0 1.1 1.2 1.1 0 1.1 1.1 1.1 0 2.2 2.2 1.1 0 2.3 2.2 1.1 0 4.4 4.5 1.1 0 4.7 4.7 0 1.1 4.4 4.4 0 1.2 2.2 2.2 0 1.1 2.2 2.2 0.1 1.1 1.1 1.2 0 1.1 1.1 1.1 0 1.1 1.1 1.1 0 1.1 1.1 1.1 0 2.3 1.2 1.1 0 2.2 1.1 1.1 0 2.3 1.1 1.1 0.1 4.4 1.1 1.2 0.6 14.8 1.2 1.3 4.1 2.8 1.9 2.2 1.4 4.5-0.3 4.5-1.9 4.4-3 3.5-3.4 1.5-4.4 0-1.2 0.6-0.1 1.1-1.2 1.1-0.1 1.1-1.2 1.2 0 1.1-1.2 1.1 0 1.1-2.3 2.2 0 1.2-2.3 2.2 0 1.1-7.9 7.8 18.2 0 2-1.1 2.9-0.2 1.9 0.2 2.2 1.1 366.7 0 0-125.2-28.8 4-33.2 3.3-39.8 2.9-38.8 1.9-39.8 0.7-57.6-0.4-23.3-0.9-15.4-1.8-7.8-1.9-6.6-2.5-5.6-2.9-6.1-4.3-9.4-8.9-22.4-25.7-13.2-13.4-8.7-7.4-7.7-5.9-7.8-5.3-8.8-5.1-8.9-4.4-9.9-4.1-10-3.1-10-2.4-9.9-1.4-10-0.7-11 0.2-10 1-14.4 3-14.4 4.7-14.4 6.6-13.3 7.9-13.1 9.8-12.3 11.1-10.7 11.2-19.2 22.2-9.2 9-5.9 4.4-5.9 3.4-6.7 2.7-6.7 1.7-14.3 2.1-22.2 1-58.6 0.5-41-0.7-38.7-1.8-41-2.9-33.2-3.3-29.9-4.1 0 125.2zM2249.1 701.7l-2.1-2.5-0.3-2.2 0.4-2.2 2.6-4.5 3.8-2.8 4.4-1 4.5 0.8 3.3 2.2 2.1 3.1 0.7 3.3-0.5 2.2-1.7 2.3-1.7 0.9-13.3 0.9-2.2-0.5zM2491.5 701.6l-2.2-0.8-1.7-1.6-1.1-3.3 0.3-2.2 1-2.3 1.5-1.9 2.2-1.6 4.4-1.4 4.5 0.6 3.7 2.1 2.9 3.4 1.2 3.3 0 2.2-0.8 2.3-1.5 1.3-2.2 0.5-12.2-0.6zM2373.3 40.3l4.2 0.7 4.4-0.8 4.5-2.2 3.8-3.3-25.4 0 3.8 3.3 4.7 2.3z" fill="#2c45ec"/>
<path d="M1934.7 703.7l357.2 0 4.3-1.1 8.2-1.1 4.5 0.5 1.5 0.6 1 1.1 17.1 0-7.9-7.8 0-1.1-2.2-2.2-0.1-1.2-2.2-2.2-0.1-1.1-1.1-1.1-0.1-1.1-1.2-1.2-0.1-1.1-1.2-1.1-0.1-0.8-5.5 0.5-3.4-1.1-2.2-1.7-2-2.5-2.4-5.5-0.3-5.6 1.4-4 2.2-2.5 4.4-2.5 2.3-2.1 0.6-13.4 1.1-1.2 0-4.4 1.1-1.1 0.1-2.3 1.1-1.1 0-2.2 1.1-1.1 0-2.2 1.2-1.2 0-1.1 1.1-1.1 0-1.1 1.1-1.1 0-1.1 1.1-1.2 0-1.1 2.2-2.2 0-1.1 2.3-2.2 0-1.2 4.4-4.4 0-1.1 4.7-4.7 1.1 0 4.4-4.5 1.1 0 2.3-2.2 1.1 0 2.2-2.2 1.1 0 1.1-1.2 1.1 0 1.1-1.1 1.1 0 1.1-1.1 2.2 0 1.1-1.1 1.1 0 1.2-1.1 2.2 0 1.1-1.1 3.3 0 1.1-1.1 5.5-0.1 1.1-1.1 8.9 0 8.9 0 1.1 1.1 5.5 0.1 1.1 1.1 3.3 0 1.1 1.1 2.2 0 1.2 1.1 1.1 0 1.1 1.1 2.2 0 1.1 1.1 1.1 0 1.1 1.1 1.1 0 1.1 1.2 1.1 0 2.2 2.2 1.1 0 2.3 2.2 1.1 0 4.4 4.5 1.1 0 4.7 4.7 0 1.1 4.4 4.4 0 1.2 2.3 2.2 0 1.1 2.2 2.2 0 1.1 1.1 1.2 0 1.1 1.1 1.1 0 1.1 1.1 1.1 0 1.1 1.2 1.2 0 2.2 1.1 1.1 0 2.2 1.1 1.1 0.1 2.3 1.1 1.1 0 4.4 1.1 1.2 0.6 13.4 2.3 2.1 4.4 2.5 2.2 2.5 1.4 4-0.3 5.6-2.4 5.5-2 2.5-2.2 1.7-3.4 1.1-5.5-0.5-0.1 0.8-1.2 1.1-0.1 1.1-1.2 1.2-0.1 1.1-1.1 1.1-0.1 1.1-2.2 2.2-0.1 1.2-2.2 2.2 0 1.1-7.9 7.8 17.1 0 1-1.1 1.5-0.6 4.5-0.5 8.2 1.1 4.3 1.1 357.2 0 0-116.8-27.7 3.5-31.5 2.9-38.2 2.5-39.9 1.8-37.6 0.6-81.9-0.4-16.6-0.6-11.1-1.4-6.6-1.6-5.6-2.1-5.5-3.1-5.5-4.2-7.8-8.1-20.6-25.8-12.4-13.3-14.6-12.8-7.7-5.6-8.9-5.5-8.9-4.7-9.9-4.3-10-3.3-9.9-2.5-10-1.6-10-0.8-9.9 0-10 0.9-15.5 3-14.4 4.7-14.4 6.7-13.3 8.1-13.2 10.3-12.2 11.7-10 11.3-18.8 23.5-7.8 8.1-4.4 3.5-5.5 3.2-5.6 2.3-6.6 1.8-11.1 1.5-16.6 0.7-83 0.4-36.5-0.6-39.9-1.7-38.7-2.5-32.1-3-27.7-3.5 0 116.8zM2250.2 702.7l-2.2-0.8-1.1-1.1-0.8-1.6-0.3-2.2 0.3-2.2 1.5-3.4 3.7-3.9 4.4-2 4.5-0.2 4.4 1.7 3.5 3.3 1.5 3.4 0.1 2.2-1.2 3.3-1.7 1.6-2.2 1.1-8.9 0.1-5.5 0.7zM2503.7 702.6l-5.5-0.6-7.8-0.1-2.8-1.5-1.7-2.3-0.6-3.3 1-3.4 1.5-2.2 3.7-2.9 4.4-1.1 4.5 0.6 4.4 2.6 3.3 4.4 1 3.1 0.1 2.2-0.7 2.3-0.9 1.1-1.7 1-2.2 0.1zM2373.3 39.2l4.2 0.8 3.3-0.5 4.4-2.1 3-2.7-21.4 0 2.3 2.2 4.2 2.3z" fill="#2d4bef"/>
<path d="M1934.7 703.7l348.2 0 3.8-1.3 16.6-2.1 5.6 0.9 2.2 1.1 1.2 1.4 16.2 0-7.9-7.8 0-1.1-2.3-2.2 0-1.2-2.3-2.2 0-1.1-1.2-1.1-0.1-1.1-1.2-1.2-0.1-1.1-1.2-1.1-4.4 1-3.4-0.2-3.3-1.6-2.5-2.5-2.7-4.5-1.4-4.4-0.2-4.5 0.8-3.4 2.7-3.7 2.2-1.5 4.4-1.8 2.3-2.1 0.5-12 1.1-1.2 0.1-4.4 1.1-1.1 0-2.3 1.1-1.1 0.1-2.2 1.1-1.1 0-2.3 1.1-1.1 0-1.1 1.1-1.1 0.1-1.1 1.1-1.1 0-1.1 1.1-1.2 0-1.1 2.2-2.2 0-1.1 2.2-2.2 0-1.2 4.5-4.4 0-1.1 4.7-4.8 1.1 0 4.4-4.4 1.1 0 2.3-2.2 1.1 0 2.2-2.3 1.1 0 1.1-1.1 1.1 0 1.1-1.1 1.1 0 1.1-1.1 2.2 0 1.1-1.1 1.1 0 1.2-1.1 2.2 0 1.1-1.2 3.3 0 1.1-1.1 5.5 0 1.1-1.1 8.9 0 8.9 0 1.1 1.1 5.5 0 1.1 1.1 3.3 0 1.1 1.2 2.2 0 1.2 1.1 1.1 0 1.1 1.1 2.2 0 1.1 1.1 1.1 0 1.1 1.1 1.1 0 1.1 1.1 1.1 0 2.2 2.3 1.1 0 2.3 2.2 1.1 0 4.4 4.4 1.1 0 4.7 4.8 0 1.1 4.5 4.4 0 1.2 2.2 2.2 0 1.1 2.2 2.2 0 1.1 1.1 1.2 0 1.1 1.1 1.1 0.1 1.1 1.1 1.1 0 1.1 1.1 1.1 0 2.3 1.1 1.1 0.1 2.2 1.1 1.1 0 2.3 1.1 1.1 0.1 4.4 1.1 1.2 0.5 12 2.3 2.1 4.4 1.8 2.2 1.5 2.7 3.7 0.8 3.4-0.2 4.5-1.4 4.4-2.7 4.5-2.5 2.5-3.3 1.6-3.4 0.2-4.4-1-1.2 1.1-0.1 1.1-1.2 1.2-0.1 1.1-1.2 1.1 0 1.1-2.3 2.2 0 1.2-2.3 2.2 0 1.1-7.9 7.8 16.2 0 1.2-1.4 2.2-1.1 5.6-0.9 16.6 2.1 3.8 1.3 348.2 0 0-109.1-26.6 3.1-28.7 2.4-36.6 2.2-39.8 1.6-35.5 0.6-63.1-0.5-42 0.6-11.1-0.3-8.8-1.2-5.6-1.4-5.5-2.3-4.4-2.8-4-3.3-7.1-8.1-19.1-26.4-10.8-12.7-6.6-6.7-7.8-6.8-7.7-5.9-8.9-5.8-8.9-4.8-9.9-4.5-10-3.4-8.8-2.3-10-1.8-10-0.9-9.9 0-10 0.8-15.5 2.9-15.5 5.2-14.4 6.9-14.4 9.3-12.4 10.4-11.8 12.2-9.8 12.3-15.8 22-6.6 7.6-4.5 3.8-4.4 2.8-4.4 1.9-5.5 1.6-8.9 1.3-11.1 0.4-43.1-0.6-62 0.5-35.5-0.6-39.8-1.5-37.7-2.3-28.7-2.4-26.6-3.1 0 109.1zM2248 702.8l-1.8-1.3-1.1-2.3 0.1-4.4 1.3-3.4 1.5-2.2 4.4-3.8 4.4-1.6 3.4 0 2.2 0.4 4.4 2.4 3 3.7 1.2 3.4-0.1 3.3-1.2 2.2-2.6 2.3-2.5 1-7.8-0.4-3.3 0.3-3.3 1-2.2-0.6zM2502.6 702.6l-5.5-0.5-6.7 0.4-4.1-2.1-1.7-2.3-0.7-3.3 0.7-3.4 2.5-3.7 4.4-3.1 4.4-0.9 3.4 0.3 2.2 0.8 4.4 3.1 2.2 2.9 1.4 2.9 0.6 3.3-0.2 2.2-1.1 2.3-1.3 1.1-2.7 0.8-2.2-0.8zM2377 39.2l2.7-0.3 2.2-0.8 3.3-2 1.3-1.4-18 0 0.9 1.1 2.6 1.8 2.2 1 2.8 0.6z" fill="#2d55f2"/>
<path d="M1934.7 703.7l313.7 0-2.6-1.2-1.8-3.3 0-3.3 1.3-4.5 2.7-4 3.3-3 3.3-1.7 4.5-0.8 5.5 1.1 2.8 1.7 2.3 2.3 1.6 2.2 1.3 3.4 0.3 2.2-0.4 2.2-2.4 3.4-5.5 2.9-3.3-1-4.5-0.1-3.4 0.4-2.2 1.1 29.5 0 1.6-1.7 3.3-1 15.5-2.3 3.3 0.2 3.4 1 3.3 1.7 2.2 2.1 15.2 0-8-7.8 0-1.1-2.2-2.2-0.1-1.2-2.3-2.2 0-1.1-1.2-1.1-0.1-1.1-1.2-1.2-0.1-1.1-1.1-0.3-5.5 1.8-3.4 0-3.3-1.7-3.1-3.1-2.8-4.5-1.9-5.5-0.4-4.5 1-4.5 1.4-2.2 2.4-2.2 2.3-1.2 5.5-1.7 2.3-2.1 0.5-10.6 1.1-1.2 0.1-4.4 1.1-1.1 0-2.3 1.1-1.1 0-2.2 1.1-1.1 0.1-2.3 1.1-1.1 0-1.1 1.1-1.1 0-1.1 1.1-1.1 0-1.1 1.2-1.2 0-1.1 2.2-2.2 0-1.1 2.2-2.2 0-1.2 4.5-4.4 0-1.1 4.7-4.8 1.1 0 4.4-4.4 1.1 0 2.3-2.3 1.1 0 2.2-2.2 1.1 0 1.1-1.1 1.1 0 1.1-1.1 1.1 0 1.1-1.1 2.2 0 1.1-1.2 1.1 0 1.2-1.1 2.2 0 1.1-1.1 3.3 0 1.1-1.1 5.5 0 1.1-1.1 8.9 0 8.9 0 1.1 1.1 5.5 0 1.1 1.1 3.3 0 1.1 1.1 2.2 0 1.2 1.1 1.1 0 1.1 1.2 2.2 0 1.1 1.1 1.1 0 1.1 1.1 1.1 0 1.1 1.1 1.1 0 2.2 2.2 1.1 0 2.3 2.3 1.1 0 4.4 4.4 1.1 0 4.7 4.8 0 1.1 4.5 4.4 0 1.2 2.2 2.2 0 1.1 2.2 2.2 0 1.1 1.2 1.2 0 1.1 1.1 1.1 0 1.1 1.1 1.1 0 1.1 1.1 1.1 0.1 2.3 1.1 1.1 0 2.2 1.1 1.1 0 2.3 1.1 1.1 0.1 4.4 1.1 1.2 0.5 10.6 2.3 2.1 5.5 1.7 2.3 1.2 2.4 2.2 1.4 2.2 1 4.5-0.4 4.5-1.9 5.5-2.8 4.5-3.1 3.1-3.3 1.7-3.4 0-5.5-1.8-1.1 0.3-0.1 1.1-1.2 1.2-0.1 1.1-1.2 1.1 0 1.1-2.3 2.2-0.1 1.2-2.2 2.2 0 1.1-8 7.8 15.2 0 2.2-2.1 3.3-1.7 3.4-1 3.3-0.2 15.5 2.3 3.3 1 1.6 1.7 29.5 0-2.2-1.1-3.4-0.4-4.5 0.1-3.3 1-5.5-2.9-2.4-3.4-0.4-2.2 0.3-2.2 1.3-3.4 1.6-2.2 2.3-2.3 2.8-1.7 5.5-1.1 4.5 0.8 3.3 1.7 3.3 3 2.7 4 1.3 4.5 0 3.3-1.8 3.3-2.6 1.2 313.7 0 0-101.9-24.4 2.6-27.6 2.1-72 3.2-38.7 0.6-69.8-0.6-53.1 1.9-7.8-0.3-6.6-0.9-4.4-1.3-4.5-2-3.3-2.2-3.3-3-6.6-8.5-17.1-26.8-9.5-12.3-7.2-7.8-7.1-6.7-7.8-6.3-7.8-5.4-8.9-5.2-9.9-4.7-8.9-3.3-9.9-2.8-10-1.9-10-1.1-9.9-0.1-10 0.7-8.8 1.4-7.8 1.8-15.5 5.3-7.7 3.6-7.8 4.2-13.3 9.2-12.1 10.7-11.4 12.9-8.9 12.2-14.1 22.4-5.5 7.3-3.9 3.8-3.8 2.6-4.5 2-4.4 1.3-6.6 0.9-7.8 0.3-53.1-1.9-69.8 0.6-38.7-0.6-72-3.2-27.6-2.1-24.4-2.6 0 101.9zM2374.9 38l2.6 0.6 2.2-0.4 3.3-1.6 2-1.9-15 0 2 1.9 2.9 1.4z" fill="#2e62f5"/>
<path d="M1934.7 703.7l311.5 0-1.8-1.1-0.8-1.1-0.8-3.4 0.6-4.4 1.8-4.5 2.8-3.8 4.4-3.6 4.4-1.8 3.4-0.4 4.4 0.8 4.4 2.5 3.6 4.1 2.3 5.6 0.1 3.3-1.9 3.3-3 2.3-4.9 2.2 14.6 0 1.4-2.8 2.2-1.3 16.6-3.4 3.3 0.4 4.5 2.1 3.3 2 3.3 3 14.1 0-8-7.8 0-1.1-2.3-2.2 0-1.2-2.3-2.2-0.1-1.1-1.1-1.1-0.1-1.1-1.2-1.2-0.1-0.6-2.2 0.6-5.6 2.7-2.2 0.3-3.3-0.9-3.6-3.2-4-5.5-2.9-6.7-0.8-5.6 1.1-5.6 2.3-3.3 2.4-1.7 3.3-1.3 6.6-1.3 2.3-2 0.4-9.3 1.1-1.2 0.1-4.4 1.1-1.1 0.1-2.3 1.1-1.1 0-2.2 1.1-1.1 0-2.3 1.2-1.1 0-1.1 1.1-1.1 0-1.1 1.1-1.1 0-1.1 1.1-1.2 0-1.1 2.2-2.2 0.1-1.1 2.2-2.2 0-1.2 4.4-4.4 0-1.1 4.8-4.8 1.1 0 4.4-4.5 1.1 0 2.3-2.2 1.1 0 2.2-2.2 1.1 0 1.1-1.1 1.1 0 1.1-1.1 1.1 0 1.1-1.2 2.2 0 1.1-1.1 1.1 0 1.2-1.1 2.2 0 1.1-1.1 3.3 0 1.1-1.1 5.5 0 1.1-1.1 8.9 0 8.9 0 1.1 1.1 5.5 0 1.1 1.1 3.3 0 1.1 1.1 2.2 0 1.2 1.1 1.1 0 1.1 1.1 2.2 0 1.1 1.2 1.1 0 1.1 1.1 1.1 0 1.1 1.1 1.1 0 2.2 2.2 1.1 0 2.3 2.2 1.1 0 4.4 4.5 1.1 0 4.8 4.8 0 1.1 4.4 4.4 0 1.2 2.2 2.2 0.1 1.1 2.2 2.2 0 1.1 1.1 1.2 0 1.1 1.1 1.1 0 1.1 1.1 1.1 0 1.1 1.2 1.1 0 2.3 1.1 1.1 0 2.2 1.1 1.1 0.1 2.3 1.1 1.1 0.1 4.4 1.1 1.2 0.4 9.3 2.3 2 6.6 1.3 3.3 1.3 2.4 1.7 2.3 3.3 1.1 5.6-0.8 5.6-2.9 6.7-4 5.5-3.6 3.2-3.3 0.9-2.2-0.3-5.6-2.7-2.2-0.6-0.1 0.6-1.2 1.2-0.1 1.1-1.1 1.1-0.1 1.1-2.3 2.2 0 1.2-2.3 2.2 0 1.1-8 7.8 14.1 0 3.3-3 3.3-2 4.5-2.1 3.3-0.4 16.6 3.4 2.2 1.3 1.4 2.8 14.6 0-4.9-2.2-3-2.3-1.9-3.3 0.1-3.3 2.3-5.6 3.6-4.1 4.4-2.5 4.4-0.8 3.4 0.4 4.4 1.8 4.4 3.6 2.8 3.8 1.8 4.5 0.6 4.4-0.8 3.4-0.8 1.1-1.8 1.1 311.5 0 0-95.2-45.4 3.7-60.9 2.7-49.8 0.9-76.4-1-23.2 1-37.7 3.1-7.7 0-5.5-0.7-4.5-1.3-3.3-1.7-5.5-5-5.6-8.5-12.8-24-9.6-14.5-6.4-7.8-6.6-7-7.7-7-7.8-5.9-8.8-5.7-8.9-4.6-10-4.2-9.9-3.1-10-2.2-9.9-1.2-11.1-0.3-10 0.6-7.7 1.1-8.9 2-7.7 2.3-8.9 3.5-14.4 7.4-7.7 5.2-6.7 5.1-12.3 11.8-10.8 13.4-7.2 11.1-12.8 24-5.6 8.5-5.5 5-3.3 1.7-4.5 1.3-5.5 0.7-7.7 0-37.7-3.1-23.2-1-76.4 1-49.8-0.9-60.9-2.7-45.4-3.7 0 95.2zM2251.6 703.7l12.4 0-1.6-0.9-4.5-0.5-4.4 0.4-1.9 1zM2491 703.7l12.4 0-1.9-1-4.4-0.4-4.5 0.5-1.6 0.9zM2373.9 36.9l2.5 1 2.2 0 3.3-1.4 1.9-1.8-12.6 0 2.7 2.2z" fill="#2e6ef7"/>
<path d="M1934.7 703.7l309.6 0-1.4-1.1-0.6-1.1-0.6-4.5 1.2-5.6 2.2-4.4 2.9-3.9 4.4-3.7 4.4-2.1 4.5-0.7 5.5 1 3.3 1.9 2.2 1.9 3.9 5.6 2.8 7.3 1.1 1.8 2.2 0.2 6.6-1.3 5.5-2.4 0.9-1.2 0.2-1.1-0.8-2.2-7-11.2-2.4-5.5-1.2-6.7 1-5.6 2.1-3.3 3.2-2.3 5.2-1.5 7.7-0.4 2.2-0.9 1.2-1.3 0.4-8.1 1.1-1.2 0.1-4.4 1.1-1.1 0-2.3 1.1-1.1 0.1-2.2 1.1-1.1 0-2.3 1.1-1.1 0-1.1 1.1-1.1 0.1-1.1 1.1-1.1 0-1.1 1.1-1.2 0-1.1 2.2-2.2 0-1.1 2.2-2.2 0.1-1.2 4.4-4.4 0-1.1 4.8-4.8 1.1 0 4.4-4.5 1.1 0 2.3-2.2 1.1 0 2.2-2.2 1.1 0 1.1-1.2 1.1 0 1.1-1.1 1.1 0 1.1-1.1 2.2 0 1.1-1.1 1.1 0 1.2-1.1 2.2 0 1.1-1.1 3.3 0 1.1-1.1 5.5-0.1 1.1-1.1 8.9 0 8.9 0 1.1 1.1 5.5 0.1 1.1 1.1 3.3 0 1.1 1.1 2.2 0 1.2 1.1 1.1 0 1.1 1.1 2.2 0 1.1 1.1 1.1 0 1.1 1.1 1.1 0 1.1 1.2 1.1 0 2.2 2.2 1.1 0 2.3 2.2 1.1 0 4.4 4.5 1.1 0 4.8 4.8 0 1.1 4.4 4.4 0.1 1.2 2.2 2.2 0 1.1 2.2 2.2 0 1.1 1.1 1.2 0 1.1 1.1 1.1 0.1 1.1 1.1 1.1 0 1.1 1.1 1.1 0 2.3 1.1 1.1 0.1 2.2 1.1 1.1 0 2.3 1.1 1.1 0.1 4.4 1.1 1.2 0.4 8.1 1.2 1.3 2.2 0.9 7.7 0.4 5.2 1.5 3.2 2.3 2.1 3.3 1 5.6-1.2 6.7-2.4 5.5-7 11.2-0.8 2.2 0.2 1.1 0.9 1.2 5.5 2.4 6.6 1.3 2.2-0.2 1.1-1.8 2.8-7.3 3.9-5.6 2.2-1.9 3.3-1.9 5.5-1 4.5 0.7 4.4 2.1 4.4 3.7 2.9 3.9 2.2 4.4 1.2 5.6-0.6 4.5-0.6 1.1-1.4 1.1 309.6 0 0-89-23.2 2-26.6 1.6-72 2.4-35.4 0.3-58.7-1.4-24.3 0.2-25.5 1.9-37.6 5.4-6.7 0.2-4.4-0.5-3.3-1-3.3-2.1-2.2-2.2-2.3-3.2-13.5-31.7-5.4-10-5.8-8.9-5.1-6.7-5.9-6.7-6.3-6.1-6.7-5.6-8.8-6.2-8.9-5.1-9.9-4.6-10-3.4-11.1-2.7-9.9-1.4-10-0.4-11.1 0.6-8.8 1.2-8.9 2-8.8 2.8-7.8 3.2-7.7 3.8-7.8 4.7-7.7 5.5-7.3 6.1-6.7 6.7-5.8 6.7-5 6.7-5 7.8-7 13.4-9.7 23.8-3.3 6.2-2.3 2.7-2.2 1.9-5.5 2.2-4.4 0.5-6.7-0.2-37.6-5.4-25.5-1.9-24.3-0.2-58.7 1.4-35.4-0.3-72-2.4-26.6-1.6-23.2-2 0 89zM2251.9 703.7l11.4 0-2-1-3.4-0.3-4.4 0.5-1.6 0.8zM2266.6 703.7l12.5 0 0-1.1-1.2-3-1.1-0.1-10.2 4.2zM2315.5 703.7l12.9 0-7.9-7.8-0.1-1.1-2.2-2.2-0.1-1.2-2.3-2.2 0-1.1-1.2-1.1-0.1-1.1-1.2-1-2.4 1-2.8 2.2-2.3 2.2-1.1 2.3 0.3 1.1 1.6 2.2 8.9 7.8zM2426.6 703.7l12.9 0 8.9-7.8 1.6-2.2 0-2.3-4.4-4.4-3.9-2.1-1.2 1-0.1 1.1-1.2 1.1 0 1.1-2.3 2.2-0.1 1.2-2.2 2.2-0.1 1.1-7.9 7.8zM2475.9 703.7l12.5 0-10.2-4.2-1.1 0.1-0.5 0.8-0.7 3.3zM2491.7 703.7l11.4 0-1.6-0.8-4.4-0.5-3.4 0.3-2 1zM2375.2 36.9l2.3 0.7 1.1-0.2 3.2-1.6 1-1.1-10.6 0 1 1.1 2 1.1z" fill="#2f7af8"/>
<path d="M1934.7 703.7l307.9 0-1.2-1.1-0.7-2.2 0.2-5.6 1.6-5.6 3.3-6 5.5-6.1 6.6-4.2 5.6-1.6 8.8-0.3 1.7-0.8 0.9-2.2 0.6-11.1 0.8-2.3 1.6-2.2 2.2-1.4 4.4-1.2 7.8-0.4 11 0.9 2.2-0.8 1.2-1.2 0.3-7 1.1-1.2 0.1-4.4 1.1-1.1 0.1-2.3 1.1-1.1 0-2.2 1.1-1.1 0.1-2.3 1.1-1.1 0-1.1 1.1-1.1 0-1.1 1.1-1.1 0.1-1.1 1.1-1.2 0-1.1 2.2-2.2 0-1.1 2.2-2.2 0-1.2 4.5-4.4 0-1.1 4.8-4.9 1.1 0 4.4-4.4 1.1 0 2.3-2.2 1.1 0 2.2-2.3 1.1 0 1.1-1.1 1.1 0 1.1-1.1 1.1 0 1.1-1.1 2.2 0 1.1-1.1 1.1 0 1.2-1.1 2.2 0 1.1-1.1 3.3-0.1 1.1-1.1 5.5 0 1.1-1.1 8.9 0 8.9 0 1.1 1.1 5.5 0 1.1 1.1 3.3 0.1 1.1 1.1 2.2 0 1.2 1.1 1.1 0 1.1 1.1 2.2 0 1.1 1.1 1.1 0 1.1 1.1 1.1 0 1.1 1.1 1.1 0 2.2 2.3 1.1 0 2.3 2.2 1.1 0 4.4 4.4 1.1 0 4.8 4.9 0 1.1 4.5 4.4 0 1.2 2.2 2.2 0 1.1 2.2 2.2 0 1.1 1.1 1.2 0.1 1.1 1.1 1.1 0 1.1 1.1 1.1 0 1.1 1.1 1.1 0.1 2.3 1.1 1.1 0 2.2 1.1 1.1 0.1 2.3 1.1 1.1 0.1 4.4 1.1 1.2 0.3 7 1.2 1.2 2.2 0.8 11-0.9 7.8 0.4 4.4 1.2 2.2 1.4 1.6 2.2 0.8 2.3 0.6 11.1 0.9 2.2 1.7 0.8 8.8 0.3 5.6 1.6 6.6 4.2 5.5 6.1 3.3 6 1.6 5.6 0.2 5.6-0.7 2.2-1.2 1.1 307.9 0 0-83.1-49.8 3.1-75.3 2-37.6 0.1-58.7-1.8-23.2 0.5-15.5 1.3-14.4 2.1-15.7 3.3-26.4 7.1-5.5 0.8-3.4-0.3-3.3-1.7-2.2-4-6.2-28.6-3.3-10.1-5-11.1-5.1-8.9-5.4-7.8-6.5-7.8-7.2-7.3-8.9-7.2-8.9-5.9-9.9-5.3-11.1-4.5-11.1-3.1-11-1.8-11.1-0.7-11.1 0.4-9.9 1.5-8.9 2-9.9 3.3-8.9 3.9-8.9 4.9-8.8 6.1-7.8 6.4-6.6 6.6-5.4 6.2-4.9 6.7-4.9 7.8-4 7.8-3.8 8.9-3.2 10.1-5.9 27.5-2.2 4-3.3 1.7-3.4 0.3-5.5-0.8-26.4-7.1-15.7-3.3-14.4-2.1-15.5-1.3-23.2-0.5-58.7 1.8-37.6-0.1-75.3-2-49.8-3.1 0 83.1zM2252.3 703.7l10.7 0-1.7-0.8-3.4-0.3-4.4 0.4-1.2 0.7zM2268.3 703.7l9.8 0-1.3-1.5-1.1-0.3-7.4 1.8zM2315.5 702.6l1 1.1 11.9 0-8-7.8 0-1.1-2.3-2.2 0-1.2-2.3-2.2-0.1-1.1-1.2-1.1-0.1-1.1-1.1-0.3-2.2 1.4-1.9 2.2-1.1 2.2-0.2 2.3 1.7 3.3 5.9 5.6zM2426.6 703.7l11.9 0 5.9-5.6 2.4-3.3 0.1-3.4-2-3.3-2.6-2.2-1.7-0.1-0.1 1.2-1.2 1.1-0.1 1.1-2.3 2.2 0 1.2-2.3 2.2 0 1.1-8 7.8zM2476.9 703.7l9.8 0-7.4-1.8-1.1 0.3-1.3 1.5zM2492 703.7l10.7 0-1.2-0.7-4.4-0.4-3.4 0.3-1.7 0.8zM2376.4 36.9l1.1 0.3 2.2-0.7 2.2-1.8-8.8 0 1 1.1 2.3 1.1z" fill="#2f86f9"/>
<path d="M1934.7 703.7l306.1 0-1-1.1-0.5-4.5 0.6-4.4 1.4-5.1 4.5-8.9 9.2-12.8 1.4-3.3 0.3-3.4-1.4-4.4-4.4-5.6-6-4.5-8.4-4.4-10.7-4.2-11-3.2-12.2-2.6-13.3-1.8-14.4-1.1-16.6-0.2-60.9 2.2-37.6 0-75.3-1.6-49.8-2.7 0 77.6zM2252.5 703.7l10.2 0-1.4-0.7-3.4-0.2-3.3 0.2-2.1 0.7zM2270.5 703.7l6 0-2-0.6-4 0.6zM2316.4 702.6l1 1.1 11 0-8-7.8 0-1.1-2.3-2.2-0.1-1.2-2.3-2.2 0-1.1-1.2-1.1-0.1-0.7-1.8 0.7-1.9 2.2-0.9 2.2-0.2 2.3 0.7 2.2 1.5 2.2 4.6 4.5zM2426.6 703.7l11 0 3.5-3.3 2.9-3.4 1.4-3.3-0.6-3.4-2-2.9-2.2-1.1-0.1 0.7-1.2 1.1 0 1.1-2.3 2.2-0.1 1.2-2.3 2.2 0 1.1-8 7.8zM2478.5 703.7l6 0-4-0.6-2 0.6zM2492.3 703.7l10.2 0-2.1-0.7-3.3-0.2-3.4 0.2-1.4 0.7zM2514.2 703.7l306.1 0 0-77.6-50.9 2.7-80.8 1.7-29.9-0.1-53.2-2.1-21 0-12.2 0.6-12.1 1.2-11.1 1.8-10 2.2-15.3 4.9-12.4 5.9-4.6 3.1-3.8 3.3-2.7 3.3-1.6 3.4-0.3 4.4 1 3.4 9.8 13.9 2.8 5 1.9 4.5 1.2 4.5 0.6 4.4-0.5 4.5-1 1.1zM2298.3 648l5 1 2.2-0.6 1.2-1.2 0.3-5.9 1.1-1.2 0.1-4.4 1.1-1.1 0-2.3 1.1-1.1 0.1-2.2 1.1-1.1 0-2.3 1.1-1.1 0.1-1.1 1.1-1.1 0-1.1 1.1-1.1 0-1.1 1.1-1.2 0-1.1 2.3-2.2 0-1.1 2.2-2.2 0-1.2 4.5-4.4 0-1.1 4.8-4.9 1.1 0 4.4-4.4 1.1 0 2.3-2.3 1.1 0 2.2-2.2 1.1 0 1.1-1.1 1.1 0 1.1-1.1 1.1 0 1.1-1.1 2.2 0 1.1-1.1 1.1 0 1.2-1.2 2.2 0 1.1-1.1 3.3 0 1.1-1.1 5.5 0 1.1-1.1 8.9 0 8.9 0 1.1 1.1 5.5 0 1.1 1.1 3.3 0 1.1 1.1 2.2 0 1.2 1.2 1.1 0 1.1 1.1 2.2 0 1.1 1.1 1.1 0 1.1 1.1 1.1 0 1.1 1.1 1.1 0 2.2 2.2 1.1 0 2.3 2.3 1.1 0 4.4 4.4 1.1 0 4.8 4.9 0 1.1 4.5 4.4 0 1.2 2.2 2.2 0 1.1 2.3 2.2 0 1.1 1.1 1.2 0 1.1 1.1 1.1 0 1.1 1.1 1.1 0.1 1.1 1.1 1.1 0 2.3 1.1 1.1 0.1 2.2 1.1 1.1 0 2.3 1.1 1.1 0.1 4.4 1.1 1.2 0.3 5.9 2.3 1.7 4.4-0.5 13.3-4.3 4.6-2.8 3.9-4.5 2.7-6.7 0.9-7.8-0.4-8.9-1.9-10-2.7-9-4.3-10-5.1-8.9-5.4-7.8-6.7-7.8-6.9-6.7-7.5-6.1-8.9-5.8-8.8-4.7-10-4-8.8-2.7-10-2-10-1-11 0-10 1-10 2-11 3.5-11.1 4.9-10 5.8-9.3 6.8-8.4 7.9-7.8 8.9-6.8 10-5.3 10-4.2 11.2-2.8 12.3-0.7 11.1 1.2 8.9 2.4 5.6 4.1 4.6 5.6 3.2 10.4 3.4zM2374.8 35.8l2.7 1.1 2.2-0.8 1.4-1.4-7.2 0 0.9 1.1z" fill="#3091fa"/>
<path d="M1934.7 703.7l304.4 0-0.8-1.1-0.3-2.2 0.9-7.8 2.4-8.3 6-14 0.7-3.4 0.1-3.3-1.7-5.6-3.2-4.5-5.2-4.5-7.7-4.6-8.9-3.8-11.1-3.3-11-2.4-12.2-1.6-13.3-1-15.5-0.2-58.7 2.6-34.3 0.3-80.8-1.3-49.8-2.3 0 72.3zM2252.8 703.7l9.5 0-1-0.5-4.5-0.2-4 0.7zM2317.2 702.6l1 1.1 10.2 0-8.1-7.8 0-1.1-2.3-2.2 0-1.2-2.3-2.2-0.1-1.1-1.2-1-1.6 1-1.3 2.2-0.5 2.3 0.2 2.2 1.7 3.3 4.3 4.5zM2426.6 703.7l10.2 0 3.4-3.3 2.6-3.4 1.2-3.3-0.5-3.4-1.3-2.2-1.6-1-1.1 0.9-0.2 1.2-2.3 2.2 0 1.2-2.3 2.2 0 1.1-8.1 7.8zM2492.7 703.7l9.5 0-4-0.7-4.5 0.2-1 0.5zM2515.9 703.7l304.4 0 0-72.3-50.9 2.3-85.3 1.3-27.6-0.3-49.9-2.3-19.9-0.2-21 1.3-18.8 3.2-14.4 4.3-11.1 5.2-4.5 2.9-4 3.3-2.9 3.4-1.9 3.3-1.2 4.5 0.3 4.4 1.3 4.5 5.2 11.8 2.2 7.1 1.1 7.8-0.3 3.4-0.8 1.1zM2300.1 646.8l2.1 0.8 2.2 0.2 2.3-1.5 0.2-5 1.1-1.2 0.2-4.4 1-1.1 0.1-2.3 1.1-1.1 0.1-2.2 1.1-1.1 0-2.3 1.1-1.1 0-1.1 1.1-1.1 0.1-1.1 1.1-1.1 0-1.1 1.1-1.2 0-1.1 2.2-2.2 0-1.1 2.3-2.2 0-1.2 4.4-4.4 0-1.1 4.9-4.9 1.1 0 4.4-4.5 1.1 0 2.3-2.2 1.1 0 2.2-2.2 1.1 0 1.1-1.1 1.1 0 1.1-1.1 1.1 0 1.1-1.1 2.2-0.1 1.1-1.1 1.1 0 1.2-1.1 2.2 0 1.1-1.1 3.3 0 1.1-1.1 5.5 0 1.1-1.1 17.8 0 1.1 1.1 5.5 0 1.1 1.1 3.3 0 1.1 1.1 2.2 0 1.2 1.1 1.1 0 1.1 1.1 2.2 0.1 1.1 1.1 1.1 0 1.1 1.1 1.1 0 1.1 1.1 1.1 0 2.2 2.2 1.1 0 2.3 2.2 1.1 0 4.4 4.5 1.1 0 4.9 4.9 0 1.1 4.4 4.4 0 1.2 2.3 2.2 0 1.1 2.2 2.2 0 1.1 1.1 1.2 0 1.1 1.1 1.1 0.1 1.1 1.1 1.1 0 1.1 1.1 1.1 0 2.3 1.1 1.1 0.1 2.2 1.1 1.1 0.1 2.3 1 1.1 0.2 4.4 1.1 1.2 0.2 5 2.3 1.5 2.2-0.2 3.3-1.3 8.9-4.8 4-3.6 3.7-5.6 2-5.5 1.1-7.8-0.4-9-1.8-8.9-2.9-8.9-4-8.9-4.7-7.8-5.7-7.8-6.8-7.7-6.7-6.1-7.7-5.8-7.8-4.8-8.8-4.4-8.9-3.5-10-2.7-8.8-1.6-10-0.8-9.9 0.2-10 1.1-8.9 1.9-11 3.5-10 4.5-8.8 5.1-9.1 6.6-8.5 7.8-6.8 7.8-6.3 8.9-5.3 10-4.2 11.2-2.2 10-0.6 10.1 1.1 7.8 2.5 6.7 4.3 5.5 5.2 4 7.8 3.8zM2375.5 35.8l2 0.8 2-0.8 1-1.1-6 0 1 1.1z" fill="#319cfa"/>
<path d="M1934.7 703.7l302.5 0-0.6-1.1 0-1.1 0.7-7.8 5.2-20.1 0.4-6.7-1.6-5.6-3.3-4.9-5.5-4.9-6.7-4.1-7.7-3.4-10-3.2-11-2.4-11.1-1.5-13.3-0.9-15.5-0.1-55.3 2.9-32.1 0.5-86.4-1-48.7-1.9 0 67.3zM2253.1 703.7l8.9 0-5.2-0.5-3.7 0.5zM2318 702.6l0.9 1.1 9.4 0-8-7.8 0-1.1-2.3-2.2-0.1-1.2-2.3-2.2-0.1-1.1-1.1-0.1-1.8 2.3-0.5 2.3 0.2 2.2 1.5 3.3 4.2 4.5zM2426.7 703.7l9.4 0 3.3-3.3 2.4-3.4 1.1-3.3-0.5-3.4-1.6-2.2-1.3 0-0.1 1.1-2.3 2.2-0.1 1.2-2.3 2.2 0 1.1-8 7.8zM2493 703.7l8.9 0-3.7-0.5-5.2 0.5zM2517.8 703.7l302.5 0 0-67.3-49.8 1.9-90.8 1-25.5-0.5-46.4-2.5-20-0.4-19.9 1.1-16.6 2.7-12.2 3.5-11 4.8-8.2 5.5-3.3 3.4-2.3 3.3-1.8 4.5-0.5 5.6 1 5.5 4.5 16.8 0.9 8.9 0 1.1-0.6 1.1zM2301 645.7l3.4 1 2.3-1.3 0.2-4.1 1.1-1.2 0.1-4.4 1.1-1.1 0.1-2.3 1.1-1.1 0-2.2 1.1-1.1 0.1-2.3 1.1-1.1 0-1.1 1.1-1.1 0-1.1 1.1-1.1 0.1-1.1 1.1-1.2 0-1.1 2.2-2.2 0-1.1 2.2-2.2 0.1-1.2 4.4-4.4 0-1.1 4.9-4.9 1.1 0 4.4-4.5 1.1 0 2.3-2.2 1.1 0 2.2-2.2 1.1 0 1.1-1.1 1.1 0 1.1-1.2 1.1 0 1.1-1.1 2.2 0 1.1-1.1 1.1 0 1.2-1.1 2.2 0 1.1-1.1 3.3 0 1.1-1.1 5.5-0.1 1.1-1 17.8 0 1.1 1 5.5 0.1 1.1 1.1 3.3 0 1.1 1.1 2.2 0 1.2 1.1 1.1 0 1.1 1.1 2.2 0 1.1 1.1 1.1 0 1.1 1.2 1.1 0 1.1 1.1 1.1 0 2.2 2.2 1.1 0 2.3 2.2 1.1 0 4.4 4.5 1.1 0 4.9 4.9 0 1.1 4.4 4.4 0.1 1.2 2.2 2.2 0 1.1 2.2 2.2 0 1.1 1.1 1.2 0.1 1.1 1.1 1.1 0 1.1 1.1 1.1 0 1.1 1.1 1.1 0.1 2.3 1.1 1.1 0 2.2 1.1 1.1 0.1 2.3 1.1 1.1 0.1 4.4 1.1 1.2 0.2 4.1 2.3 1.3 2.2-0.4 2.2-1.1 7.2-5.1 4.1-4.4 3.1-5.6 2-6.7 0.7-6.7-0.4-7.8-1.8-8.9-3-8.9-3.8-7.8-4.7-7.8-5.1-6.7-6.1-6.7-7.4-6.7-8.1-5.9-7.7-4.5-7.8-3.7-8.8-3.3-8.9-2.3-9.9-1.7-8.9-0.6-9.9 0.3-8.9 1.1-8.9 1.9-9.9 3.3-10 4.4-8.8 5.1-8.9 6.6-7.7 7.1-6.8 7.8-5.5 7.8-4.8 8.9-3.5 9-2.5 10-0.7 8.9 0.7 7.8 2.5 7.8 3.5 5.6 4.6 4.5 6.8 4.4zM2376.1 35.8l1.4 0.6 1.4-0.6 1-1.1-4.8 0 1 1.1z" fill="#32a7fa"/>
<path d="M1934.9 703.7l300.1 0-0.2-1.1 1.4-10 2.8-15.7 0.1-6.7-1.5-5.5-3.6-5.6-4.8-4.5-6.7-4.2-7.9-3.6-9.8-3-10-2.1-11-1.5-13.3-0.7-14.4 0.1-52 3.1-28.8 0.7-91.9-0.7-48.7-1.6 0.2 62.6zM2253.4 703.7l8.2 0-5.9-0.4-2.3 0.4zM2318.7 702.6l0.8 1.1 8.8 0-8-7.8-0.1-1.1-2.3-2.2 0-1.2-2.4-2.2 0-0.5-1.8 1.6-0.6 2.3 0.2 2.2 1.4 3.3 4 4.5zM2426.7 703.7l8.8 0 4-4.5 1.9-3.3 0.5-3.3-1.4-3.4-1-0.5 0 0.5-2.4 2.2 0 1.2-2.3 2.2-0.1 1.1-8 7.8zM2493.4 703.7l8.2 0-2.3-0.4-5.9 0.4zM2520 703.7l300.1 0 0.2-62.6-48.7 1.6-95.2 0.7-24.4-0.6-44.2-2.9-18.9-0.5-17.7 0.8-15.5 2.3-12.1 3.2-11.1 4.7-8.1 5.4-3.4 3.3-2.5 3.3-2.2 5.6-0.6 5.6 4.5 29-0.2 1.1zM2301.6 644.6l2.8 1.1 1.1-0.3 1.2-0.9 0.1-3.2 1.1-1.2 0.2-4.4 1.1-1.1 0-2.3 1.1-1.1 0.1-2.2 1.1-1.1 0-2.3 1.1-1.1 0.1-1.1 1.1-1.1 0-1.1 1.1-1.1 0-1.1 1.1-1.2 0.1-1.1 2.2-2.2 0-1.1 2.2-2.2 0-1.2 4.5-4.4 0-1.1 4.9-5 1.1 0 4.4-4.4 1.1 0 2.3-2.2 1.1 0 2.2-2.3 1.1 0 1.1-1.1 1.1 0 1.1-1.1 1.1 0 1.1-1.1 2.2 0 1.1-1.1 1.1 0 1.2-1.1 2.2 0 1.1-1.1 3.3 0 1.1-1.1 5.5-0.1 1.1-1.1 17.8 0 1.1 1.1 5.5 0.1 1.1 1.1 3.3 0 1.1 1.1 2.2 0 1.2 1.1 1.1 0 1.1 1.1 2.2 0 1.1 1.1 1.1 0 1.1 1.1 1.1 0 1.1 1.1 1.1 0 2.2 2.3 1.1 0 2.3 2.2 1.1 0 4.4 4.4 1.1 0 4.9 5 0 1.1 4.5 4.4 0 1.2 2.2 2.2 0 1.1 2.2 2.2 0.1 1.1 1.1 1.2 0 1.1 1.1 1.1 0 1.1 1.1 1.1 0.1 1.1 1.1 1.1 0 2.3 1.1 1.1 0.1 2.2 1.1 1.1 0 2.3 1.1 1.1 0.2 4.4 1.1 1.2 0.1 3.2 1.2 0.9 1.1 0.3 2.8-1.1 6.7-5.6 4.3-5.5 2.6-5.6 1.6-6.7 0.4-6.7-0.5-6.7-1.6-7.8-2.7-7.8-3.7-7.8-4.8-7.8-5.1-6.8-6.2-6.6-7.1-6.2-7.8-5.5-7.7-4.5-7.8-3.5-8.8-3.1-8.9-2.2-8.8-1.3-8.9-0.6-8.8 0.4-8.9 1.1-8.9 1.9-8.8 2.9-10 4.4-8.8 5.2-7.8 5.7-7.7 7.1-6.3 7.1-5.5 7.8-4.4 7.8-3.2 7.8-2.5 9-1 8.9 0.4 7.8 1.6 6.7 3.4 6.7 4.7 5.5 5.5 4.5zM2376.6 35.8l0.9 0.4 1.9-1.5-3.8 0 1 1.1z" fill="#33b1fa"/>
<path d="M1935 703.7l298.1 0 2.8-20.1 0.4-8.9-1.1-5.6-2.9-5.5-4.2-4.7-6.7-4.7-7.7-3.8-8.9-3-10-2.3-11-1.5-12.2-0.7-14.4 0.1-52 3.6-27.7 0.8-96.3-0.4-46.5-1.3 0.3 58zM2253.8 703.7l7.5 0-7.5 0zM2319.3 702.6l0.8 1.1 8.2 0-8.1-7.8 0-1.1-2.3-2.2-0.1-1.2-2.3-1.7-1.1 1.5-0.4 1.4 0.4 3.3 1.8 3.3 3.1 3.4zM2426.7 703.7l8.2 0 3.9-4.5 1.8-3.3 0.4-3.3-0.4-1.4-1.1-1.5-2.3 1.7-0.1 1.2-2.3 2.2 0 1.1-8.1 7.8zM2493.7 703.7l7.5 0-7.5 0zM2521.9 703.7l298.1 0 0.3-58-47.6 1.3-98.5 0.4-23.3-0.8-43.1-3.1-18.9-0.7-15.5 0.6-14.4 1.9-12.1 3.1-11.1 4.5-7.8 5.1-3.5 3.3-2.5 3.4-2.5 5.6-0.9 6.6 0.6 7.8 2.7 19zM2304.3 644.6l1.2 0 1.2-0.9 0.1-2.4 1-1.2 0.2-4.4 1.1-1.1 0.1-2.3 1.1-1.1 0-2.2 1.1-1.1 0.1-2.3 1.1-1.1 0-1.1 1.1-1.1 0.1-1.1 1.1-1.1 0-1.1 1.1-1.2 0-1.1 2.2-2.2 0.1-1.1 2.2-2.2 0-1.2 4.4-4.4 0.1-1.1 4.9-5 1.1 0 4.4-4.4 1.1 0 2.3-2.3 1.1 0 2.2-2.2 1.1 0 1.1-1.1 1.1 0 1.1-1.1 1.1 0 1.1-1.1 2.2 0 1.1-1.1 1.1 0 1.2-1.1 2.2-0.1 1.1-1.1 3.3 0 1.1-1.1 5.5 0 1.1-1.1 17.8 0 1.1 1.1 5.5 0 1.1 1.1 3.3 0 1.1 1.1 2.2 0.1 1.2 1.1 1.1 0 1.1 1.1 2.2 0 1.1 1.1 1.1 0 1.1 1.1 1.1 0 1.1 1.1 1.1 0 2.2 2.2 1.1 0 2.3 2.3 1.1 0 4.4 4.4 1.1 0 4.9 5 0.1 1.1 4.4 4.4 0 1.2 2.2 2.2 0.1 1.1 2.2 2.2 0 1.1 1.1 1.2 0 1.1 1.1 1.1 0.1 1.1 1.1 1.1 0 1.1 1.1 1.1 0.1 2.3 1.1 1.1 0 2.2 1.1 1.1 0.1 2.3 1.1 1.1 0.2 4.4 1 1.2 0.1 2.4 1.2 0.9 1.2 0 2.2-1.1 5.6-5.6 3.7-5.6 2.4-5.5 1.2-5.6 0.5-6.7-0.5-6.7-1.6-7.8-2.8-7.8-3.8-7.8-4.2-6.7-5.2-6.7-6.4-6.7-6.5-5.5-6.9-4.9-7.7-4.5-7.8-3.5-8.8-3.1-8.9-2.1-7.7-1.1-8.9-0.5-8.8 0.3-8.9 1.1-8.9 2-8.8 3-8.9 3.9-7.7 4.5-8.3 6-7.2 6.5-6.1 6.8-5.6 7.8-4.3 7.9-3.6 8.9-1.9 7.8-0.9 8.9 0.6 7.8 1.9 6.7 2.9 5.6 5.5 6.7 2.6 2.3 2.1 1zM2377 35.8l1 0 1-1.1-3 0 1 1.1z" fill="#34bcfa"/>
<path d="M1935.1 703.7l296.9 0 1.7-15.6 0.1-10-1.4-6.7-3.1-5.6-4.1-4.5-6-4.3-7-3.5-8.5-2.9-10-2.4-11-1.4-12.2-0.7-13.3 0.2-50.9 4-25.5 0.9-101.8-0.1-44.3-1.1 0 53.4 0.4 0.3zM2254.4 703.7l2.1 0-2.1 0zM2259.5 703.7l0.8 0-0.8 0zM2319.8 702.6l0.8 1.1 7.6 0-8-7.8-0.1-1.1-2.3-2.2 0-1.2-1.2-1-1.1 0.8-0.6 1.4 0.3 3.3 1.7 3.3 2.9 3.4zM2426.8 703.7l7.6 0 5-6.7 0.8-3.3-0.7-2.5-1.1-0.8-1.1 1-0.1 1.2-2.3 2.2-0.1 1.1-8 7.8zM2494.7 703.7l0.8 0-0.8 0zM2498.5 703.7l2.1 0-2.1 0zM2523 703.7l296.9 0 0.4-0.3 0-53.4-45.4 1.1-102.9 0.1-22.2-0.8-43.2-3.6-17.7-0.7-14.4 0.5-13.2 1.6-12.2 3-10 4-4.9 2.8-3.9 2.9-5.4 6-2.7 5.6-1.1 6.7 0.3 11.1 1.6 13.4zM2304.2 643.5l1.3 0.2 1.2-0.9 0-1.5 1.1-1.2 0.2-4.4 1.1-1.1 0-2.3 1.1-1.1 0.1-2.2 1.1-1.1 0.1-2.3 1.1-1.1 0-1.1 2.2-3.3 0.1-1.1 1.1-1.2 0-1.1 2.2-2.2 0-1.1 2.3-2.2 0-1.2 4.4-4.4 0-1.1 5-5 1.1 0 4.4-4.5 1.1 0 2.3-2.2 1.1 0 2.2-2.2 1.1 0 1.1-1.1 1.1 0 1.1-1.1 1.1 0 1.1-1.1 2.2-0.1 1.1-1.1 1.1 0 1.2-1.1 2.2 0 1.1-1.1 3.3 0 1.1-1.1 5.5 0 1.1-1.1 17.8 0 1.1 1.1 5.5 0 1.1 1.1 3.3 0 1.1 1.1 2.2 0 1.2 1.1 1.1 0 1.1 1.1 2.2 0.1 1.1 1.1 1.1 0 1.1 1.1 1.1 0 1.1 1.1 1.1 0 2.2 2.2 1.1 0 2.3 2.2 1.1 0 4.4 4.5 1.1 0 5 5 0 1.1 4.4 4.4 0 1.2 2.3 2.2 0 1.1 2.2 2.2 0 1.1 1.1 1.2 0.1 1.1 2.2 3.3 0 1.1 1.1 1.1 0.1 2.3 1.1 1.1 0.1 2.2 1.1 1.1 0 2.3 1.1 1.1 0.2 4.4 1.1 1.2 0 1.5 1.2 0.9 1.3-0.2 1.6-1.1 3.9-4.5 3.6-5.6 2.3-5.5 1.3-5.6 0.4-6.7-0.5-6.7-1.4-6.7-2.3-6.7-3.6-7.8-4.9-7.8-5.1-6.5-5.5-5.8-6.6-5.7-6.7-4.7-7.7-4.5-7.8-3.5-7.7-2.7-7.8-1.9-8.8-1.4-8.9-0.5-8.8 0.3-7.8 1-8.9 1.9-8.8 2.9-8.9 3.9-7.7 4.5-7.8 5.6-6.7 6-6 6.7-5 6.7-4.4 7.8-3.4 7.8-2.2 7.8-1 7.8 0.2 7.8 1.4 6.7 2.3 5.5 4.5 6.7 3 3.4 1.6 1.1zM2377.5 35.8l1.1-1.1-2.2 0 1.1 1.1z" fill="#35c5f8"/>
<path d="M1935.2 703.7l295.9 0-0.2-1.1 1.1-11.2-0.1-8.9-1.1-6.7-2.5-5.5-3.6-4.7-5.5-4.6-6.6-3.7-8.9-3.4-10-2.5-11-1.5-12.2-0.7-13.3 0.3-48.7 4.4-24.4 1.1-106.2 0.1-43.2-1 0 49.2 0.5 0.4zM2320.3 702.6l0.8 1.1 7.1 0-8.1-7.8 0-1.1-2.3-2.2-0.1-1.2-1.1 0-1 2.3 0.3 2.2 1.7 3.3 2.7 3.4zM2426.8 703.7l7.1 0 3.5-4.5 1.7-3.3 0.3-2.2-1-2.3-1.1 0-0.1 1.2-2.3 2.2 0 1.1-8.1 7.8zM2523.9 703.7l295.9 0 0.5-0.4 0-49.2-42.1 1-104-0.1-25.5-1-39.8-3.7-14.4-1-16.6 0.2-14.4 1.5-11.1 2.5-10 3.8-8.6 5.1-5.6 5.6-3.2 5.6-1.7 6.7-0.3 8.9 0.3 7.8 0.8 5.6-0.2 1.1zM2304.5 642.4l1.4 0 1.9-2.6 0.1-4.1 1.1-1.1 0.1-2.3 1.1-1.1 0.1-2.2 1.1-1.1 0-2.3 1.1-1.1 0.1-1.1 2.2-3.3 0-1.1 1.1-1.2 0.1-1.1 2.2-2.2 0-1.1 2.2-2.2 0-1.2 4.5-4.4 0-1.1 5-5 1.1 0 4.4-4.5 1.1 0 2.3-2.2 1.1 0 2.2-2.2 1.1 0 1.1-1.1 1.1 0 1.1-1.1 1.1-0.1 1.1-1.1 2.2 0 1.1-1.1 1.1 0 1.2-1.1 2.2 0 1.1-1.1 3.3 0 1.1-1.1 5.5 0 1.1-1.1 17.8 0 1.1 1.1 5.5 0 1.1 1.1 3.3 0 1.1 1.1 2.2 0 1.2 1.1 1.1 0 1.1 1.1 2.2 0 1.1 1.1 1.1 0.1 1.1 1.1 1.1 0 1.1 1.1 1.1 0 2.2 2.2 1.1 0 2.3 2.2 1.1 0 4.4 4.5 1.1 0 5 5 0 1.1 4.5 4.4 0 1.2 2.2 2.2 0 1.1 2.2 2.2 0.1 1.1 1.1 1.2 0 1.1 2.2 3.3 0.1 1.1 1.1 1.1 0 2.3 1.1 1.1 0.1 2.2 1.1 1.1 0.1 2.3 1.1 1.1 0.1 4.1 2.3 2.8 1.1-0.2 1.2-1.1 4.2-5.6 2.9-5.6 1.5-4.5 1.1-5.5 0.2-5.6-0.4-5.6-1.3-6.7-2.2-6.7-3.6-7.8-4.1-6.6-5.1-6.6-5.5-5.9-6.1-5.4-7.2-5.1-6.6-3.9-7.8-3.6-7.7-2.7-7.8-2-8.8-1.4-8.9-0.6-7.7 0.2-7.8 0.9-8.8 1.9-7.8 2.4-8.9 3.8-7.7 4.3-7.7 5.4-6.7 5.8-5.5 5.9-5.1 6.6-4.7 7.8-3.4 7.8-2.3 7.8-1.1 7.8 0 6.7 1.2 6.6 2.5 6.7 3.4 5.6 4 4.5zM2376.6 34.7l0.9 0.9 0.9-0.9-1.8 0z" fill="#37cff5"/>
<path d="M1935.3 703.7l294.9 0-0.3-1.1 0.5-6.7 0-7.8-1.1-7.8-1.9-5.6-3.7-5.6-4.8-4.4-6.3-3.9-8.9-3.7-10-2.6-9.9-1.5-12.2-0.7-14.4 0.3-48.7 4.9-23.2 1.2-57.6-0.1-52 0.5-41-1 0 45.1 0.6 0.5zM2320.8 702.6l0.7 1.1 6.7 0-8.1-7.8 0-1.1-2.4-2.5-1.2 1.4 0.1 2.2 1.6 3.3 2.6 3.4zM2426.8 703.7l6.7 0 4.5-6.7 0.6-2.2-0.8-2.2-0.5-0.3-2.4 2.5 0 1.1-8.1 7.8zM2524.8 703.7l294.9 0 0.6-0.5 0-45.1-41 1-52-0.5-56.4 0.1-24.4-1.2-36.5-3.9-14.4-1.1-15.5-0.1-14.4 1.3-11.1 2.4-9.9 3.6-8.6 5-5.7 5.6-3.3 5.5-1.9 6.7-0.6 7.8 0.5 12.3-0.3 1.1zM2304 640.1l1.5 0.9 2.3-2.4 0.1-2.9 1.1-1.1 0.1-2.3 1.1-1.1 0-2.2 1.1-1.1 0.1-2.3 1.1-1.1 0-1.1 2.3-3.3 0-1.1 1.1-1.2 0-1.1 2.2-2.2 0.1-1.1 2.2-2.2 0-1.2 4.5-4.4 0-1.1 5-5.1 1.1 0 4.4-4.4 1.1 0 2.3-2.2 1.1 0 2.2-2.2 1.1-0.1 1.1-1.1 1.1 0 1.1-1.1 1.1 0 1.1-1.1 2.2 0 1.1-1.1 1.1 0 1.2-1.1 2.2 0 1.1-1.1 3.3 0 1.1-1.1 5.5-0.1 1.1-1.1 17.8 0 1.1 1.1 5.5 0.1 1.1 1.1 3.3 0 1.1 1.1 2.2 0 1.2 1.1 1.1 0 1.1 1.1 2.2 0 1.1 1.1 1.1 0 1.1 1.1 1.1 0 1.1 1.1 1.1 0.1 2.2 2.2 1.1 0 2.3 2.2 1.1 0 4.4 4.4 1.1 0 5 5.1 0 1.1 4.5 4.4 0 1.2 2.2 2.2 0.1 1.1 2.2 2.2 0 1.1 1.1 1.2 0 1.1 2.3 3.3 0 1.1 1.1 1.1 0.1 2.3 1.1 1.1 0 2.2 1.1 1.1 0.1 2.3 1.1 1.1 0.1 2.9 2.3 2.4 2.2-1.5 2.7-3.8 2.3-4.5 1.9-5.6 0.8-4.4 0.4-5.6-0.4-5.6-1-5.5-1.9-6.7-2.9-6.7-3.8-6.7-4.8-6.7-5.5-6.2-5.5-5.1-6.7-5-6.6-4.1-7.8-3.9-7.7-2.9-7.8-2.2-7.7-1.4-8.9-0.7-7.7 0-7.8 0.7-7.7 1.4-7.8 2.2-8.8 3.4-7.8 4-6.6 4.2-6.7 5.3-6 5.8-5.6 6.7-4.5 6.7-3.4 6.7-3 7.8-1.5 6.7-0.7 7.8 0.6 6.7 1.7 6.7 3.1 6.7 3.4 4.4zM2376.9 34.7l0.6 0.6 0.6-0.6-1.2 0z" fill="#38d8f3"/>
<path d="M1935.4 703.7l294 0-0.4-1.1-0.3-13.4-1.5-7.8-1.4-3.7-2.2-3.9-5.5-5.9-4.4-3.1-4.5-2.3-11-4-13.3-2.5-15.5-0.8-16.6 0.8-42.1 4.9-21 1.4-63.1-0.1-53.2 0.7-38.7-1 0 41.2 0.7 0.6zM2321.9 703.7l6.3 0-8.2-7.8-0.1-1.2-1.1-1.1-1.1-0.2-0.4 1.4 0.4 2.2 4.2 6.7zM2426.8 703.7l6.3 0 4.2-6.7 0.4-2.2-0.4-1.4-1.1 0.2-1.1 1.1-0.1 1.2-8.2 7.8zM2525.6 703.7l294 0 0.7-0.6 0-41.2-38.7 1-54.3-0.7-58.7 0.2-23.2-1.4-36.5-4.4-13.3-1.1-14.4-0.3-13.3 1.1-11.1 2.2-9.9 3.5-7.8 4.3-5.5 4.8-4.1 5.8-2.3 6.7-1 6.7-0.2 12.3-0.4 1.1zM2305.5 639l1.2-0.2 1.1-1 0.1-2.1 1.1-1.1 0-2.3 1.1-1.1 0.1-2.2 1.1-1.1 0.1-2.3 1.1-1.1 0-1.1 2.2-3.3 0.1-1.1 1.1-1.2 0-1.1 2.2-2.2 0-1.1 2.3-2.2 0-1.2 4.4-4.4 0.1-1.1 5-5.1 1.1 0 4.4-4.4 1.1 0 2.3-2.2 1.1-0.1 2.2-2.2 1.1 0 1.1-1.1 1.1 0 1.1-1.1 1.1 0 1.1-1.1 2.2 0 1.1-1.1 1.1 0 1.2-1.1 2.2 0 1.1-1.1 3.3-0.1 1.1-1.1 5.5 0 1.1-1.1 17.8 0 1.1 1.1 5.5 0 1.1 1.1 3.3 0.1 1.1 1.1 2.2 0 1.2 1.1 1.1 0 1.1 1.1 2.2 0 1.1 1.1 1.1 0 1.1 1.1 1.1 0 1.1 1.1 1.1 0 2.2 2.2 1.1 0.1 2.3 2.2 1.1 0 4.4 4.4 1.1 0 5 5.1 0.1 1.1 4.4 4.4 0 1.2 2.3 2.2 0 1.1 2.2 2.2 0 1.1 1.1 1.2 0.1 1.1 2.2 3.3 0 1.1 1.1 1.1 0.1 2.3 1.1 1.1 0.1 2.2 1.1 1.1 0 2.3 1.1 1.1 0.1 2.1 1.1 1 1.2 0.3 1.9-1.2 2.1-3.3 2-4.5 1.6-5.6 0.9-8.9-1.2-10-2-6.7-2.8-6.7-3.7-6.5-4-5.8-4.8-5.6-5.8-5.5-6.4-5-6.6-4.2-6.7-3.5-7.7-3.1-7.8-2.3-7.7-1.5-7.8-0.9-8.8-0.1-7.8 0.7-7.7 1.3-8.9 2.4-7.7 3-7.8 4-6.6 4.2-6.7 5.2-5.5 5.4-5.5 6.5-4.5 6.6-3.6 6.9-2.5 6.7-1.8 7.8-0.6 6.7 0.7 7.8 1.8 6.7 3.3 6.7 1.6 1.9 1.1 0.3zM2377.2 34.7l0.3 0.3 0.3-0.3-0.6 0z" fill="#3ae1ef"/>
<path d="M1935.5 703.7l293 0-0.4-1.1-1-12.3-1.9-7.8-1.6-3.6-2.2-3.5-5.5-5.5-4.4-3-4.4-2.2-10-3.6-12.2-2.3-14.4-0.8-17.7 1-41 5.4-21 1.5-63.1-0.2-55.4 1.1-37.6-1.2 0 37.4 0.8 0.7zM2321.7 702.6l0.5 1.1 5.9 0-8.1-7.8 0-1.1-1.2-0.6-0.6 0.6 0.3 2.2 0.9 2.2 2.3 3.4zM2426.9 703.7l5.9 0 3.3-5.6 0.7-3.3-0.6-0.6-1.1 0.6-0.1 1.1-8.1 7.8zM2526.5 703.7l293 0 0.8-0.7 0-37.4-36.5 1.2-56.5-1.1-60.9 0.3-22.1-1.5-35.4-4.8-13.3-1.3-14.4-0.3-12.2 0.9-11.1 2.1-8.8 3-7.8 4.2-5.5 4.5-4 5.3-2.6 6.2-1.5 7.1-0.8 11.2-0.4 1.1zM2304.2 636.8l1.3 1 1.2 0 1.1-0.8 0-1.3 1.1-1.1 0.1-2.3 1.1-1.1 0.1-2.2 1.1-1.1 0-2.3 1.1-1.1 0.1-1.1 2.2-3.3 0-1.1 1.2-1.2 0-1.1 2.2-2.2 0-1.1 2.2-2.2 0.1-1.2 4.4-4.4 0-1.1 5.1-5.1 1.1 0 4.4-4.4 1.1-0.1 2.3-2.2 1.1 0 2.2-2.2 1.1 0 1.1-1.1 1.1 0 1.1-1.1 1.1 0 1.1-1.1 2.2-0.1 1.1-1.1 1.1 0 1.2-1.1 2.2 0 1.1-1.1 3.3 0 1.1-1.1 5.5 0 1.1-1.1 17.8 0 1.1 1.1 5.5 0 1.1 1.1 3.3 0 1.1 1.1 2.2 0 1.2 1.1 1.1 0 1.1 1.1 2.2 0.1 1.1 1.1 1.1 0 1.1 1.1 1.1 0 1.1 1.1 1.1 0 2.2 2.2 1.1 0 2.3 2.2 1.1 0.1 4.4 4.4 1.1 0 5.1 5.1 0 1.1 4.4 4.4 0.1 1.2 2.2 2.2 0 1.1 2.2 2.2 0 1.1 1.2 1.2 0 1.1 2.2 3.3 0.1 1.1 1.1 1.1 0 2.3 1.1 1.1 0.1 2.2 1.1 1.1 0.1 2.3 1.1 1.1 0 1.3 1.1 0.8 1.2 0 1.1-0.8 0.9-1.3 2.1-4.5 1.8-5.6 0.9-8.9-0.8-8.9-1.8-6.7-2.6-6.7-3.6-6.7-3.8-5.5-4.6-5.6-5.7-5.6-6.1-4.9-6.6-4.4-6.7-3.5-7.7-3.2-7.8-2.3-6.6-1.4-7.8-1-7.7-0.2-7.8 0.4-7.7 1.2-7.8 1.9-7.7 2.7-7.8 3.6-6.6 3.9-6.6 4.9-5.6 4.9-5.5 6-4.4 5.9-3.9 6.7-3 6.7-2 6.7-1.1 6.7-0.2 6.7 0.9 6.6 2.2 6.7 2.4 4.5z" fill="#40e6e7"/>
<path d="M1935.7 703.7l291.9 0-2.2-13.4-2.1-6.7-4.1-6.7-5.5-5.2-7.8-4.5-9.9-3.5-11.1-2.1-13.3-0.8-17.7 1-41 6.1-19.9 1.7-65.3-0.3-57.6 1.3-35.4-1.4 0 33.7 1 0.8zM2322.1 702.6l0.5 1.1 5.5 0-8.1-7.8-0.1-0.7-0.7 0.7 0.3 2.2 2.6 4.5zM2426.9 703.7l5.5 0 2.6-4.5 0.8-3.3-0.7-0.7-0.1 0.7-8.1 7.8zM2527.4 703.7l291.9 0 1-0.8 0-33.7-35.4 1.4-57.6-1.3-64.2 0.3-19.9-1.5-33.2-5.1-13.3-1.6-13.3-0.6-12.2 0.7-11 1.9-8.9 2.9-7.7 3.9-5.6 4.3-3.9 4.7-2.8 5.5-1.9 6.7-2 12.3zM2306.5 636.8l2.4-2.2 0-2.3 1.1-1.1 0.1-2.2 1.1-1.1 0.1-2.3 1.1-1.1 0-1.1 2.3-3.3 0-1.1 1.1-1.2 0.1-1.1 2.2-2.2 0-1.1 2.2-2.2 0-1.2 4.5-4.4 0-1.1 5.1-5.1 1.1 0 4.4-4.5 1.1 0 2.3-2.2 1.1 0 2.2-2.2 1.1 0 1.1-1.1 1.1 0 1.1-1.1 1.1 0 1.1-1.2 2.2 0 1.1-1.1 1.1 0 1.2-1.1 2.2 0 1.1-1.1 3.3 0 1.1-1.1 5.5 0 1.1-1.1 17.8 0 1.1 1.1 5.5 0 1.1 1.1 3.3 0 1.1 1.1 2.2 0 1.2 1.1 1.1 0 1.1 1.1 2.2 0 1.1 1.2 1.1 0 1.1 1.1 1.1 0 1.1 1.1 1.1 0 2.2 2.2 1.1 0 2.3 2.2 1.1 0 4.4 4.5 1.1 0 5.1 5.1 0 1.1 4.5 4.4 0 1.2 2.2 2.2 0 1.1 2.2 2.2 0.1 1.1 1.1 1.2 0 1.1 2.3 3.3 0 1.1 1.1 1.1 0.1 2.3 1.1 1.1 0.1 2.2 1.1 1.1 0 2.3 2.2 2.2 1.8-1.1 1.3-2.2 2.5-7.9 0.9-7.8-0.7-8.9-1.7-6.7-2.6-6.7-3-5.5-4.4-6.7-4.7-5.6-4.9-4.8-5.5-4.6-6.6-4.5-6.7-3.6-6.6-2.8-7.8-2.6-6.6-1.5-7.8-1-7.7-0.4-7.7 0.4-7.8 1-7.7 1.9-7.8 2.6-7.7 3.5-6.7 3.9-6.6 4.8-5.6 4.9-5.5 6.1-4.1 5.6-4 6.7-2.9 6.7-2 6.7-1.1 6.7 0.1 7.8 1.2 6.7 2.6 6.7 1.3 1.7 1 0.5z" fill="#45ebdf"/>
<path d="M1935.8 703.7l291 0-2.9-12.3-2.5-6.6-4.4-6.5-5.4-4.7-7.9-4.4-8.9-3-11-2-12.2-0.7-17.7 1.3-41 6.9-18.8 1.7-66.4-0.6-59.8 1.6-33.2-1.8 0 30.3 1.1 0.8zM2322.9 703.7l5.2 0-7.1-6.7-0.7 0 0.3 2.2 2.3 4.5zM2426.9 703.7l5.2 0 2.3-4.5 0.3-2.2-0.7 0-7.1 6.7zM2528.2 703.7l291 0 1.1-0.8 0-30.3-33.2 1.8-60.9-1.6-64.2 0.7-18.8-1.7-33.2-5.8-12.2-1.6-13.3-0.9-12.2 0.5-9.9 1.7-8.9 2.6-7.7 3.7-5.6 4.1-3.8 4.2-3.3 5.6-2 5.5-2.9 12.3zM2305.9 634.6l0.8 0.5 1.1-0.4 1.1-1.3 0-1.1 1.1-1.1 0.1-2.2 1.1-1.1 0.1-2.3 1.1-1.1 0-1.1 2.2-3.3 0.1-1.1 1.1-1.2 0-1.1 2.2-2.2 0.1-1.1 2.2-2.2 0-1.2 4.5-4.4 0-1.1 5.1-5.2 1.1 0 4.4-4.4 1.1 0 2.3-2.2 1.1 0 2.2-2.2 1.1 0 1.1-1.2 1.1 0 1.1-1.1 1.1 0 1.1-1.1 2.2 0 1.1-1.1 1.1 0 1.2-1.1 2.2 0 1.1-1.1 3.3 0 1.1-1.1 5.5-0.1 1.1-1.1 17.8 0 1.1 1.1 5.5 0.1 1.1 1.1 3.3 0 1.1 1.1 2.2 0 1.2 1.1 1.1 0 1.1 1.1 2.2 0 1.1 1.1 1.1 0 1.1 1.1 1.1 0 1.1 1.2 1.1 0 2.2 2.2 1.1 0 2.3 2.2 1.1 0 4.4 4.4 1.1 0 5.1 5.2 0 1.1 4.5 4.4 0 1.2 2.2 2.2 0.1 1.1 2.2 2.2 0 1.1 1.1 1.2 0.1 1.1 2.2 3.3 0 1.1 1.1 1.1 0.1 2.3 1.1 1.1 0.1 2.2 1.1 1.1 0 1.1 1.1 1.3 1.1 0.4 1.2-0.7 1.2-2.1 2.2-7.8 0.5-6.7-0.6-7.8-1.7-6.6-2.1-5.6-3.4-6.7-3.6-5.6-4.4-5.6-4.8-4.8-5.5-4.7-6.6-4.6-6.7-3.7-6.6-2.9-6.7-2.3-7.7-1.8-7.8-1.1-6.6-0.4-6.6 0.2-7.8 0.9-6.6 1.3-7.8 2.4-7.7 3.2-6.7 3.5-6.6 4.4-5.5 4.6-5.6 5.5-4.7 5.9-3.6 5.6-3.4 6.7-2.5 6.7-1.4 6.7-0.5 6.6 0.5 6.7 1.8 6.7 2 3.4z" fill="#4aefd7"/>
<path d="M1934.7 702.6l1.3 1.1 289.9 0-3.5-11.1-3-6.7-4.1-5.6-5-4.4-7.7-4.2-8.9-3-9.9-1.9-11.1-0.6-8.9 0.3-9.9 1.2-41 7.9-8.8 1.2-8.9 0.6-66.4-1.1-62 2-11.1-0.5-21-2 0 26.8zM2323.2 703.7l4.9 0-5.9-5.6-1.2 0 2.2 5.6zM2426.9 703.7l4.9 0 2.2-5.6-1.2 0-5.9 5.6zM2529.1 703.7l289.9 0 1.3-0.9 0-27-21 2-11.1 0.5-62-2-66.4 1.1-8.9-0.6-8.8-1.2-31-6.3-13.3-2.1-12.2-1-12.2 0.4-8.8 1.3-8.9 2.4-7.3 3.3-6 4.1-4.4 4.5-3.3 5.2-2.2 5.4-3.4 10.9zM2307.3 633.5l1.6-1.1 1.1-1.5 0.1-1.9 1.1-1.1 0-2.3 1.1-1.1 0.1-1.1 2.2-3.3 0.1-1.1 1.1-1.2 0-1.1 2.2-2.2 0-1.1 2.3-2.2 0-1.2 4.4-4.4 0.1-1.1 5.1-5.2 1.1 0 4.4-4.4 1.1 0 2.3-2.2 1.1-0.1 2.2-2.2 1.1 0 1.1-1.1 1.1 0 1.1-1.1 1.1 0 1.1-1.1 2.2 0 1.1-1.1 1.1 0 1.2-1.1 2.2 0 1.1-1.1 3.3-0.1 1.1-1.1 5.5 0 1.1-1.1 17.8 0 1.1 1.1 5.5 0 1.1 1.1 3.3 0.1 1.1 1.1 2.2 0 1.2 1.1 1.1 0 1.1 1.1 2.2 0 1.1 1.1 1.1 0 1.1 1.1 1.1 0 1.1 1.1 1.1 0 2.2 2.2 1.1 0.1 2.3 2.2 1.1 0 4.4 4.4 1.1 0 5.1 5.2 0.1 1.1 4.4 4.4 0 1.2 2.3 2.2 0 1.1 2.2 2.2 0 1.1 1.1 1.2 0.1 1.1 2.2 3.3 0.1 1.1 1.1 1.1 0 2.3 1.1 1.1 0.1 1.9 2.2 2.6 1.1-0.1 1.2-1.1 2-6.6 0.6-6.7-0.6-7.8-1.5-6.7-2.1-5.6-3.3-6.7-3.7-5.6-4.4-5.5-4.8-4.9-5.5-4.7-5.5-3.8-12.2-6.3-6.6-2.4-7.8-2.1-6.6-1-7.8-0.6-6.6 0.1-7.8 0.8-7.7 1.5-7.8 2.4-6.6 2.7-6.7 3.5-6.6 4.4-5.5 4.5-4.9 4.7-4.6 5.6-4.5 6.7-2.8 5.6-2.6 6.7-1.5 6.7-0.6 7.8 0.6 6.7 2 6.6 1.2 1.1 0.6 0.1z" fill="#4ff4cf"/>
<path d="M1934.7 702.6l1.6 1.1 288.6 0-3.9-10-2.9-5.8-4.1-5.4-5.3-4.4-7.2-4-7.8-2.7-9.9-2-10-0.6-10 0.5-9.9 1.3-12.2 2.4-29.9 7-14.4 1.8-11 0-35.5-1.6-21-0.4-65.3 2.4-10-0.6-19.9-2.6 0 23.6zM2323.2 702.6l0.3 1.1 4.5 0-4.7-4.5-1.1-0.4 1 3.8zM2427 703.7l4.5 0 1.3-4.9-1.1 0.4-4.7 4.5zM2530.1 703.7l288.6 0 1.6-1 0-23.7-19.9 2.6-10 0.6-65.3-2.4-21 0.4-35.5 1.6-11 0-14.4-1.8-31-7.3-13.3-2.5-12.2-1.3-12.2 0.2-8.8 1.2-7.8 2.1-7.7 3.3-5.5 3.5-4.5 4.2-3.3 4.5-2.9 5.8-3.9 10zM2306.4 631.2l1.4 1.1 2.2-2.4 0-0.9 1.1-1.1 0.1-2.3 1.1-1.1 0-1.1 2.3-3.3 0-1.1 1.1-1.2 0.1-1.1 2.2-2.2 0-1.1 2.2-2.2 0.1-1.2 4.4-4.4 0-1.1 5.2-5.2 1.1 0 4.4-4.4 1.1-0.1 2.3-2.2 1.1 0 2.2-2.2 1.1 0 1.1-1.1 1.1 0 1.1-1.1 1.1 0 1.1-1.1 2.2-0.1 1.1-1 1.1-0.1 1.2-1 2.2-0.1 1.1-1.1 3.3 0 1.1-1.1 5.5 0 1.1-1.1 17.8 0 1.1 1.1 5.5 0 1.1 1.1 3.3 0 1.1 1.1 2.2 0.1 1.2 1 1.1 0.1 1.1 1 2.2 0.1 1.1 1.1 1.1 0 1.1 1.1 1.1 0 1.1 1.1 1.1 0 2.2 2.2 1.1 0 2.3 2.2 1.1 0.1 4.4 4.4 1.1 0 5.2 5.2 0 1.1 4.4 4.4 0.1 1.2 2.2 2.2 0 1.1 2.2 2.2 0.1 1.1 1.1 1.2 0 1.1 2.3 3.3 0 1.1 1.1 1.1 0.1 2.3 1.1 1.1 0 0.9 2.2 2.4 1.1-0.7 0.9-1.5 1.1-4.5 0.6-5.5-0.3-6.7-1.1-5.6-1.7-5.6-2.8-6.2-3.5-6-4.1-5.6-4.6-5.1-5.4-4.9-5.6-4.2-5.6-3.4-6.6-3.3-6.6-2.6-6.7-1.9-6.6-1.3-7.8-0.8-7.7 0-6.7 0.5-6.6 1.1-7.8 2.1-6.6 2.4-6.6 3.2-6.7 4-5.5 4.1-5.1 4.5-4.9 5.4-4.2 5.8-3.3 5.5-3 6.7-1.7 5.6-1.2 6.7-0.2 5.6 0.8 6.7 1.5 4.4z" fill="#57f6c3"/>
<path d="M1934.7 702.6l1.9 1.1 287.3 0-4.7-9.7-3.3-5.4-4.5-5-5.5-4.2-6.6-3.4-7.8-2.5-8.8-1.6-8.9-0.5-11.1 0.7-11 1.8-15.5 3.9-25.5 7.5-5.5 1.2-5.6 0.6-8.8-0.2-38.8-2.9-21-0.6-18.8 0.4-38.8 2.4-11 0.3-8.9-0.9-18.8-3.5 0 20.5zM2323.8 703.7l4.2 0-4.7-4.1-0.4 0.8 0.9 3.3zM2427 703.7l4.2 0 0.9-3.3-0.4-0.8-4.7 4.1zM2531.1 703.7l287.3 0 1.9-1.1 0-20.5-18.8 3.5-8.9 0.9-11-0.3-38.8-2.4-18.8-0.4-21 0.6-38.8 2.9-8.8 0.2-5.6-0.6-5.5-1.2-27.7-8.1-15.5-3.7-13.3-1.8-12.1-0.1-7.8 0.9-7.7 1.9-6.7 2.6-6.6 3.9-4.5 3.8-3.7 4.5-2.9 4.8-4.7 9.7zM2307.5 630.1l1.4 0 2.2-2.3 0.1-2.2 1.1-1.1 0-1.1 2.3-3.3 0-1.1 1.1-1.2 0-1.1 2.2-2.2 0.1-1.1 2.2-2.2 0-1.2 4.5-4.4 0-1.1 5.2-5.2 1.1 0 4.4-4.5 1.1 0 2.3-2.2 1.1 0 2.2-2.2 1.1 0 1.1-1.1 1.1 0 1.1-1.1 1.1 0 1.1-1.1 2.2-0.1 1.1-1.1 1.1 0 1.2-1.1 2.2 0 1.1-1.1 3.3 0 1.1-1.1 5.5 0 1.1-1.1 17.8 0 1.1 1.1 5.5 0 1.1 1.1 3.3 0 1.1 1.1 2.2 0 1.2 1.1 1.1 0 1.1 1.1 2.2 0.1 1.1 1.1 1.1 0 1.1 1.1 1.1 0 1.1 1.1 1.1 0 2.2 2.2 1.1 0 2.3 2.2 1.1 0 4.4 4.5 1.1 0 5.2 5.2 0 1.1 4.5 4.4 0 1.2 2.2 2.2 0.1 1.1 2.2 2.2 0 1.1 1.1 1.2 0 1.1 2.3 3.3 0 1.1 1.1 1.1 0.1 2.2 2.2 2.3 1.1 0.2 1.1-1.1 0.8-2.4 0.6-5.6-0.2-6.7-1.3-6.7-1.8-5.6-2.5-5.5-3.3-5.6-4.1-5.6-4.8-5.3-9.9-8.3-5.6-3.5-6.6-3.3-6.6-2.6-6.7-2-6.6-1.3-7.8-0.8-13.3 0.4-7.7 1.2-6.6 1.7-6.7 2.4-6.6 3.1-11.2 7.2-5.2 4.4-4.7 5-4.4 5.7-3.8 6-3.1 6.7-1.8 5.6-1.1 5.6-0.5 6.7 0.7 6.7 0.8 2.4 0.8 0.9z" fill="#60f7b6"/>
<path d="M1935.4 702.6l1.6 1.1 157.1 0 2.2-5.6-1.1-2.1-2-1.2-7.4-2.2-13.8-2.4-18.9-2-17.7-0.9-17.7 0.1-16.6 0.9-32.1 2.7-7.7 0.2-8.9-1.2-17.7-5 0 17.5 0.7 0.1zM2116.1 703.7l106.8 0-4.8-7.9-4.4-6.1-4.5-4.6-5.1-3.7-6.8-3.3-6.9-2.2-7.7-1.4-8.9-0.5-12.2 1-13.2 2.9-18 5.7-12.9 5.6-5.4 3.4-2.2 2.2-0.3 1.1 0.8 2.2 5 4.5 0.7 1.1zM2324 703.7l4 0-3.6-3.4-0.5 0.1-0.2 1.1 0.3 2.2zM2427 703.7l4 0 0.1-3.3-0.5-0.1-3.6 3.4zM2532.1 703.7l106.8 0 0.7-1.1 5-4.5 0.8-2.2-0.3-1.1-2.2-2.2-5.4-3.4-10-4.5-13.1-4.6-11.3-3.2-9.7-1.9-8.9-0.9-8.8 0.1-7.8 0.9-6.6 1.7-6.7 2.6-5.4 3.1-4.3 3.4-3.6 3.8-4.4 6.1-4.8 7.9zM2660.6 702.6l0.3 1.1 157.1 0 2.3-1.2 0-17.5-17.7 5-8.9 1.2-8.8-0.3-35.4-2.9-16.7-0.8-19.9 0.3-21.5 1.7-18.3 2.6-6.7 1.4-4.6 1.6-2 1.2-1.1 2.1 1.9 4.5zM2308.7 629l2.4-2 0-1.4 1.1-1.1 0.1-1.1 2.2-3.3 0.1-1.1 1.1-1.2 0-1.1 2.2-2.2 0-1.1 2.3-2.2 0-1.2 4.5-4.4 0-1.1 5.2-5.2 1.1-0.1 4.4-4.4 1.1 0 2.3-2.2 1.1 0 2.2-2.2 1.1 0 1.1-1.1 1.1-0.1 1.1-1.1 1.1 0 1.1-1.1 2.2 0 1.1-1.1 1.1 0 1.2-1.1 2.2 0 1.1-1.1 3.3 0 1.1-1.1 5.5-0.1 1.1-1 17.8 0 1.1 1 5.5 0.1 1.1 1.1 3.3 0 1.1 1.1 2.2 0 1.2 1.1 1.1 0 1.1 1.1 2.2 0 1.1 1.1 1.1 0 1.1 1.1 1.1 0.1 1.1 1.1 1.1 0 2.2 2.2 1.1 0 2.3 2.2 1.1 0 4.4 4.4 1.1 0.1 5.2 5.2 0 1.1 4.5 4.4 0 1.2 2.3 2.2 0 1.1 2.2 2.2 0 1.1 1.1 1.2 0.1 1.1 2.2 3.3 0.1 1.1 1.1 1.1 0 1.4 2.2 2 1.1-0.6 1-2.8 0.4-8.9-0.8-5.5-1.5-5.6-2.2-5.6-2.9-5.6-3.8-5.5-4.5-5.6-4.5-4.5-5.5-4.5-5.5-3.7-6.7-3.5-12.2-4.6-13.3-2.5-7.7-0.4-6.6 0.3-13.3 2.3-6.7 2.1-6.6 2.8-6.7 3.5-5.5 3.7-5.5 4.5-4.5 4.5-4.5 5.6-3.8 5.5-3.4 6.7-2.1 5.6-1.5 6.7-0.5 6.7 0.7 6.7 0.8 1.6 0.9 0.6z" fill="#69f9aa"/>
<path d="M1936.6 702.6l1.1 1.1 141.6 0 0-1.1-0.7-2.2-1.3-1.2-5.3-2.5-10-2.4-14.4-2-17.7-1.1-17.7 0.4-23.3 2-29.8 3.8-5.6-1.3-13.3-6.2-5.5-2 0 14.4 1.9 0.3zM2123.9 702.6l0.4 1.1 97.5 0-3.7-5-7.8-8.8-3.3-3.1-4.5-3.2-5.4-2.8-6.7-2.3-6.6-1.3-7.8-0.6-9.9 0.5-10.7 2.1-12.6 4-11.3 4.9-5.4 3.3-3.4 3.4-0.9 3.3 0.6 2.3 1.5 2.2zM2324.3 703.7l3.7 0-2.5-2.3-1.1-0.4-0.1 2.7zM2427 703.7l3.7 0-0.1-2.7-1.1 0.4-2.5 2.3zM2533.2 703.7l97.5 0 2.3-4.5 0.2-2.2-1.8-3.3-4.1-3.4-6.1-3.3-10.8-4.5-9.3-2.9-8.8-2-8.9-1-7.7 0.1-6.7 0.8-5.5 1.3-5.6 2-5.5 2.9-4.4 3.1-3.3 3.1-7.8 8.8-3.7 5zM2675.7 703.7l141.6 0 1.1-1.1 1.9-0.3 0-14.4-5.5 2-13.3 6.2-5.6 1.3-30.9-3.9-23.3-2-18.8-0.2-17.7 1.2-14.4 2.2-8.6 2.3-3.6 1.7-2.2 1.7-0.6 1.1-0.1 2.2zM2308.5 626.8l1.5 0.3 1.1-1 1.1-1.6 0-1.1 1.1-1.1 0.1-1.1 1.1-1.1 0-1.1 1.1-1.2 0.1-1.1 2.2-2.2 0-1.1 2.2-2.2 0.1-1.2 4.4-4.4 0.1-1.1 5.2-5.3 1.1 0 4.4-4.4 1.1 0 2.3-2.2 1.1 0 2.2-2.3 1.1 0 1.1-1.1 1.1 0 1.1-1.1 1.1 0 1.1-1.1 2.2 0 1.1-1.1 1.1 0 1.2-1.1 2.2 0 1.1-1.1 3.3-0.1 1.1-1 5.5-0.1 1.1-1.1 17.8 0 1.1 1.1 5.5 0.1 1.1 1 3.3 0.1 1.1 1.1 2.2 0 1.2 1.1 1.1 0 1.1 1.1 2.2 0 1.1 1.1 1.1 0 1.1 1.1 1.1 0 1.1 1.1 1.1 0 2.2 2.3 1.1 0 2.3 2.2 1.1 0 4.4 4.4 1.1 0 5.2 5.3 0.1 1.1 4.4 4.4 0.1 1.2 2.2 2.2 0 1.1 2.2 2.2 0.1 1.1 1.1 1.2 0 1.1 2.3 3.3 0 1.1 2.2 2.6 1.1 0 1.1-1.9 0.4-7.4-0.7-5.5-1.4-5.6-2.2-5.6-2.9-5.6-3.7-5.5-4.5-5.6-9.3-8.5-11.1-6.8-12.2-4.9-13.2-2.7-13.3-0.4-13.3 2-6.7 1.8-6.6 2.6-6.6 3.4-5.6 3.4-5.5 4.3-4.4 4.1-4.4 5-4 5.6-3.2 5.6-2.5 5.6-2 6.7-0.8 5.5 0 6.7 1 3.4z" fill="#71fa9d"/>
<path d="M1939 703.7l10.5 0-1.3-2.2-8.3-7.8-5.2-3.1 0 11.6 3.3 0.1 1 1.4zM1967.7 703.7l93 0-0.9-1.4-3.3-1.9-7.3-2.3-11.5-1.8-13.3-0.7-14.4 0.6-17.7 2-18.9 3.3-4.1 1.1-1.6 1.1zM2132.7 703.7l87.8 0-2.4-2.8-6.2-5-6.6-6.7-6.4-4.5-5.2-2.3-5.5-1.7-6.6-1.2-6.7-0.4-8.8 0.7-8.9 2-8.4 2.9-9.1 4.5-4.9 3.4-3 3.3-0.9 3.3 1.8 4.5zM2324.6 703.7l3.3 0-2.4-2.3-0.8 0.1-0.1 2.2zM2427.1 703.7l3.3 0-0.1-2.2-0.8-0.1-2.4 2.3zM2534.5 703.7l87.8 0 1.6-3.3 0.1-2.3-1.6-3.3-3.6-3.4-5.5-3.3-7.8-3.6-7.7-2.7-6.6-1.6-7.8-1-6.6 0-11.1 1.7-5.5 1.9-4.5 2.2-6 4.2-6.6 6.7-6.2 5-2.4 2.8zM2694.3 703.7l93 0-1.6-1.1-4.1-1.1-18.9-3.3-17.7-2-14.4-0.6-13.3 0.7-11.5 1.8-7.3 2.3-3.3 1.9-0.9 1.4zM2805.5 703.7l10.5 0 1-1.4 3.3-0.1 0-11.6-5.2 3.1-8.3 7.8-1.3 2.2zM2309.7 625.6l1.4-0.4 1.1-1.1 0-0.7 1.1-1.1 0.1-1.1 1.1-1.1 0-1.1 1.1-1.2 0-1.1 2.3-2.2 0-1.1 2.2-2.2 0.1-1.2 4.4-4.4 0-1.1 5.3-5.3 1.1 0 4.4-4.4 1.1-0.1 2.3-2.2 1.1 0 2.2-2.2 1.1 0 1.1-1.1 1.1 0 1.1-1.1 1.1 0 1.1-1.1 2.2 0 1.1-1.1 1.1 0 1.2-1.1 2.2-0.1 1.1-1 3.3-0.1 1.1-1.1 5.5 0 1.1-1.1 17.8 0 1.1 1.1 5.5 0 1.1 1.1 3.3 0.1 1.1 1 2.2 0.1 1.2 1.1 1.1 0 1.1 1.1 2.2 0 1.1 1.1 1.1 0 1.1 1.1 1.1 0 1.1 1.1 1.1 0 2.2 2.2 1.1 0 2.3 2.2 1.1 0.1 4.4 4.4 1.1 0 5.3 5.3 0 1.1 4.4 4.4 0.1 1.2 2.2 2.2 0 1.1 2.3 2.2 0 1.1 1.1 1.2 0 1.1 1.1 1.1 0.1 1.1 1.1 1.1 0 0.7 2.2 1.7 1.1-1.1 0.4-1.3 0.2-4.4-0.6-5.6-1.4-5.6-4.4-10-3.5-5.6-4.2-5.6-4.2-4.4-5.5-4.7-11.1-7-11.1-4.6-6.6-1.8-6.6-1.2-13.3-0.6-13.3 1.8-12.2 3.8-5.5 2.6-6.7 3.8-5.5 4-4.4 3.9-4.4 4.8-4 5.2-4.2 6.7-2.5 5.6-2.1 6.7-1.1 6.6 0.2 5.6 0.4 1.3 0.8 0.9z" fill="#7bfa8f"/>
<path d="M2000.4 703.7l37.3 0-1.9-1.1-3.7-0.8-9.9-0.8-13.3 0.9-5.1 0.7-3.4 1.1zM2142.3 703.7l60.8 0 0.5-1.1 2.8-2.2 0.8-1.2 0.1-1.1-1.6-3.3-2.8-3.4-4.2-3.3-5-2.7-5.5-2-5.5-1.2-5.6-0.5-5.5 0.2-6.6 0.9-7 1.9-7.4 3.4-5.1 3.3-3.5 3.4-1.7 3.3 0.1 2.3 1.9 3.3zM2211.6 703.7l7.5 0-2.1-2-3.3-1.3-1.1 0.1-1.1 1 0.1 2.2zM2324.8 703.7l3.1 0-2.4-2.2-0.7 1.1 0 1.1zM2427.1 703.7l3.1 0-0.5-2.2-2.6 2.2zM2535.9 703.7l7.5 0 0.1-2.2-1.1-1-2.2 0.1-2.2 1.1-2.1 2zM2551.9 703.7l60.8 0 1.9-3.3 0.1-2.3-1.7-3.3-3.5-3.4-5.1-3.3-5.5-2.6-5.5-1.9-6.7-1.4-6.6-0.5-5.6 0.3-6.6 1.1-5.5 1.8-5.6 2.8-4.7 3.7-2.8 3.4-1.6 3.3 0.1 1.1 0.8 1.2 2.8 2.2 0.5 1.1zM2717.3 703.7l37.3 0-3.4-1.1-5.1-0.7-13.3-0.9-9.9 0.8-3.7 0.8-1.9 1.1zM1934.7 701.5l0 0.5 1.8-0.5 1.4-1.1 0.7-1.2 0.1-1.1-1-2.2-3-2.6 0 8.2zM2818.5 701.5l1.8 0.5 0-8.7-3 2.6-1 2.2 0.1 1.1 0.7 1.2 1.4 1.1zM2309.7 623.4l1.4 0.7 1.1-0.9 2.2-3.1 0.1-1.1 1.1-1.2 0-1.1 2.2-2.2 0.1-1.1 2.2-2.2 0-1.2 4.5-4.4 0-1.1 5.3-5.3 1.1 0 4.4-4.5 1.1 0 2.3-2.2 1.1 0 2.2-2.2 1.1 0 1.1-1.1 1.1 0 1.1-1.1 1.1 0 1.1-1.1 2.2-0.1 1.1-1.1 1.1 0 1.2-1.1 2.2 0 1.1-1.1 3.3 0 1.1-1.1 5.5 0 1.1-1.1 17.8 0 1.1 1.1 5.5 0 1.1 1.1 3.3 0 1.1 1.1 2.2 0 1.2 1.1 1.1 0 1.1 1.1 2.2 0.1 1.1 1.1 1.1 0 1.1 1.1 1.1 0 1.1 1.1 1.1 0 2.2 2.2 1.1 0 2.3 2.2 1.1 0 4.4 4.5 1.1 0 5.3 5.3 0 1.1 4.5 4.4 0 1.2 2.2 2.2 0.1 1.1 2.2 2.2 0 1.1 1.1 1.2 0.1 1.1 1.1 1.1 0 0.7 2.2 2.2 1.4-0.7 0.5-4.4-0.7-5.6-1.5-5.6-4.1-9.3-7.5-10.8-4.1-4.4-5-4.4-10-6.5-12.2-5.2-6.6-1.9-6.6-1.2-12.2-0.6-12.2 1.4-12.2 3.4-6.6 3-5.5 3-10 7.4-4.4 4.5-4.1 4.9-3.7 5.6-3 5.5-2.2 5.6-1.7 6.7-0.5 5.6 0.5 3.3z" fill="#84fa81"/>
<path d="M2152.5 703.7l47.2 0 1.9-4.5 0-2.2-1.2-2.7-2.6-2.9-3.1-2.2-4.5-2.2-4.2-1.4-5.5-1-5.6-0.2-5 0.3-5.4 1.2-5.1 1.7-4.4 2.4-3.2 2.6-2.3 3.3-0.2 2.2 3.2 5.6zM2212.9 703.7l4.4 0-2.5-1.3-1.4 0.2-0.5 1.1zM2325.1 703.7l2.8 0-2.4-1.8-0.4 1.8zM2427.1 703.7l2.8 0-0.4-1.8-2.4 1.8zM2537.7 703.7l4.4 0-0.5-1.1-1.4-0.2-2.5 1.3zM2555.3 703.7l47.2 0 2.9-4.5 0.3-2.2-0.7-2.2-3-3.4-3.3-2.2-4.7-2.2-5.1-1.5-5.5-1-10 0.2-5.5 1.2-4.4 1.6-4.5 2.5-2.9 2.6-2.3 3.3-0.5 2.2 2 5.6zM1934.7 701.5l0 0.4 1-0.4 0.8-2.3-0.7-2.2-1.1-1.2 0 5.7zM2819.3 701.5l1 0.4 0-6.1-1.6 2.3 0 2.3 0.6 1.1zM2311 622.3l1.2-0.1 2.2-2.3 0-0.9 1.2-1.2 0-1.1 2.2-2.2 0-1.1 2.3-2.2 0-1.2 4.5-4.4 0-1.1 5.3-5.3 1.1-0.1 4.4-4.4 1.1 0 2.3-2.2 1.1 0 2.2-2.2 1.1 0 1.1-1.1 1.1 0 1.1-1.1 1.1-0.1 1.1-1.1 2.2 0 1.1-1.1 1.1 0 1.2-1.1 2.2 0 1.1-1.1 3.3 0 1.1-1.1 5.5-0.1 1.1-1 17.8 0 1.1 1 5.5 0.1 1.1 1.1 3.3 0 1.1 1.1 2.2 0 1.2 1.1 1.1 0 1.1 1.1 2.2 0 1.1 1.1 1.1 0.1 1.1 1.1 1.1 0 1.1 1.1 1.1 0 2.2 2.2 1.1 0 2.3 2.2 1.1 0 4.4 4.4 1.1 0.1 5.3 5.3 0 1.1 4.5 4.4 0 1.2 2.3 2.2 0 1.1 2.2 2.2 0 1.1 1.2 1.2 0 0.9 2.2 2.3 1.2 0.1 0.6-1.1 0.2-2.2-0.5-4.5-1.3-5.6-1.7-4.4-2.8-5.6-3.6-5.6-4.3-5.5-4.3-4.5-4.5-3.8-5.6-3.8-5.5-3.2-11.1-4.5-12.1-2.7-12.2-0.7-12.2 1.5-12.2 3.5-11 5.4-10 7.2-4.4 4.4-3.8 4.5-4.5 6.7-3 5.6-2.2 5.5-1.5 6.7-0.3 4.5 0.8 2.2z" fill="#8efa73"/>
<path d="M2155.5 703.7l41.2 0 0.7-5.6-0.7-2.2-1.9-2.4-2.5-2.1-4.1-2.1-7.7-2-8.9 0-4.4 0.8-4.5 1.6-3.2 1.7-2.7 2.3-1.6 2.2-0.6 2.2 0.9 5.6zM2325.3 703.7l2.6 0-1.3-1.2-1.1 0.1-0.2 1.1zM2427.1 703.7l2.6 0-0.2-1.1-1.1-0.1-1.3 1.2zM2558.3 703.7l41.2 0 0.9-5.6-0.6-2.2-2-2.7-3.3-2.4-3.3-1.6-7.8-1.9-8.9 0-7.7 2-4.1 2.1-2.7 2.3-1.7 2.2-0.7 2.2 0.7 5.6zM1934.7 701.5l0.7 0 0.1-1.1-0.8-2.4 0 3.5zM2819.6 701.5l0.7 0.3 0-3.8-0.6 1.2-0.1 2.3zM2311.6 620.1l0.6 0.6 2.2-1.5 1.1-1.4 0.1-1.1 2.2-2.2 0-1.1 2.2-2.2 0.1-1.2 4.4-4.4 0.1-1.1 5.3-5.4 1.1 0 4.4-4.4 1.1 0 2.3-2.2 1.1 0 2.2-2.2 1.1-0.1 1.1-1.1 1.1 0 1.1-1.1 1.1 0 1.1-1.1 2.2 0 1.1-1.1 1.1 0 1.2-1.1 2.2 0 1.1-1.1 3.3 0 1.1-1.1 5.5-0.1 1.1-1.1 17.8 0 1.1 1.1 5.5 0.1 1.1 1.1 3.3 0 1.1 1.1 2.2 0 1.2 1.1 1.1 0 1.1 1.1 2.2 0 1.1 1.1 1.1 0 1.1 1.1 1.1 0 1.1 1.1 1.1 0.1 2.2 2.2 1.1 0 2.3 2.2 1.1 0 4.4 4.4 1.1 0 5.3 5.4 0.1 1.1 4.4 4.4 0.1 1.2 2.2 2.2 0 1.1 2.2 2.2 0.1 1.1 2.2 2.4 1.1 0.5 0.6-0.6 0.4-2.3-1.8-8.9-4-8.9-7.8-11.1-8.4-8.1-10-6.5-11.1-4.8-12.1-2.9-12.2-0.9-12.2 1.3-12.2 3.3-11 5.3-9.4 6.6-4.8 4.4-3.5 4.2-7.5 11.4-2 4.5-1.7 5.6-0.9 5.5 0.4 2.3z" fill="#98f965"/>
<path d="M2158.3 703.7l35.5 0 0.1-3.3-0.4-2.3-1.4-2.2-4.2-3.3-6.3-2.3-7.8-0.5-7.3 1.6-2.7 1.3-2.8 2.1-2.3 3.3-0.5 2.3 0.1 3.3zM2325.6 703.7l2.2 0-1.2-1.2-0.7 0.1-0.3 1.1zM2427.2 703.7l2.2 0-0.3-1.1-0.7-0.1-1.2 1.2zM2561.2 703.7l35.5 0 0.1-3.3-0.5-2.3-1.3-2.2-4.1-3.3-6.4-2.3-7.7-0.5-7.3 1.6-2.7 1.3-2.9 2.1-1.8 2.2-0.8 2-0.1 4.7zM1934.7 701.5l0.4 0-0.4-1.5 0 1.5zM2819.9 701.5l0.4 0.1 0-1.6-0.4 1.5zM2313.2 619l2.3-1.7 0-0.6 2.2-2.2 0.1-1.1 2.2-2.2 0-1.2 4.5-4.4 0-1.1 5.4-5.4 1.1 0 4.4-4.4 1.1 0 2.3-2.3 1.1 0 2.2-2.2 1.1 0 1.1-1.1 1.1 0 1.1-1.1 1.1 0 1.1-1.1 2.2 0 1.1-1.1 1.1 0 1.2-1.1 2.2 0 1.1-1.1 3.3-0.1 1.1-1.1 5.5 0 1.1-1.1 17.8 0 1.1 1.1 5.5 0 1.1 1.1 3.3 0.1 1.1 1.1 2.2 0 1.2 1.1 1.1 0 1.1 1.1 2.2 0 1.1 1.1 1.1 0 1.1 1.1 1.1 0 1.1 1.1 1.1 0 2.2 2.2 1.1 0 2.3 2.3 1.1 0 4.4 4.4 1.1 0 5.4 5.4 0 1.1 4.5 4.4 0 1.2 2.2 2.2 0.1 1.1 3.3 3.8 1.2 0.7 0.8-1.2 0.1-1.1-2-8.9-3.8-7.8-8.1-11.1-8.1-7.6-10-6.4-11.1-4.6-12.1-2.8-11.1-0.7-12.2 1.3-12.2 3.4-9.9 4.7-10 6.9-7.8 8-4.8 6.7-3.3 5.6-1.9 4.4-1.5 5.6-0.5 3.3 0.1 1.1 0.8 1.2z" fill="#a4f758"/>
<path d="M2160.9 703.7l30 0-0.9-4.5-2.9-3.3-4.4-2.3-6.7-1-6.6 1-4.4 2.2-3 3.4-1.1 4.5zM2325.8 703.7l2 0-1.2-1.1-0.8 1.1zM2427.2 703.7l2 0-0.8-1.1-1.2 1.1zM2564.1 703.7l30 0-1.1-4.5-3-3.4-4.4-2.2-6.6-1-6.7 1-4.4 2.3-2.9 3.3-0.9 4.5zM2313.8 616.7l0.6 0.4 1.1-0.6 2.2-2.4 0-0.7 2.3-2.2 0-1.2 4.5-4.4 0-1.1 5.4-5.4 1.1 0 4.4-4.5 1.1 0 2.3-2.2 1.1 0 2.2-2.2 1.1 0 1.1-1.1 1.1 0 1.1-1.1 1.1 0 1.1-1.1 2.2-0.1 1.1-1.1 1.1 0 1.2-1.1 2.2 0 1.1-1.1 3.3 0 1.1-1.1 5.5 0 1.1-1.1 17.8 0 1.1 1.1 5.5 0 1.1 1.1 3.3 0 1.1 1.1 2.2 0 1.2 1.1 1.1 0 1.1 1.1 2.2 0.1 1.1 1.1 1.1 0 1.1 1.1 1.1 0 1.1 1.1 1.1 0 2.2 2.2 1.1 0 2.3 2.2 1.1 0 4.4 4.5 1.1 0 5.4 5.4 0 1.1 4.5 4.4 0 1.2 4.5 5.3 1.1 0.6 0.9-1.5-0.4-3.3-1.4-4.5-3.9-7.8-7.4-10.2-4.2-4.3-4.6-3.8-8.9-5.6-11.1-4.7-11-2.7-11.1-0.9-12.2 1.1-11 2.8-10 4.4-10 6.4-7.9 7.5-7.9 11.1-2.4 4.5-1.6 4.4-0.9 4.5 0.2 2.2z" fill="#aff54b"/>
<path d="M2163.6 703.7l24.2 0-1.2-3.3-2.2-2.3-3.9-1.9-4.5-0.7-4.4 0.6-4.4 2-2.2 2.3-1.4 3.3zM2326.1 703.7l1.7 0-1.2-0.9-0.5 0.9zM2427.2 703.7l1.7 0-0.5-0.9-1.2 0.9zM2567.2 703.7l24.2 0-1.4-3.3-2.2-2.3-4.4-2-4.4-0.6-4.5 0.7-3.9 1.9-2.2 2.3-1.2 3.3zM2315.4 614.5l1.2-0.2 3.3-3.1 0.1-1.2 4.5-4.4 0-1.1 5.4-5.4 1.1-0.1 4.4-4.4 1.1 0 2.3-2.2 1.1 0 2.2-2.2 1.1 0 1.1-1.1 1.1 0 1.1-1.1 1.1-0.1 1.1-1.1 2.2 0 3.4-2.2 2.2 0 1.1-1.1 3.3 0 1.1-1.1 5.5-0.1 1.1-1 17.8 0 1.1 1 5.5 0.1 1.1 1.1 3.3 0 1.1 1.1 2.2 0 3.4 2.2 2.2 0 1.1 1.1 1.1 0.1 1.1 1.1 1.1 0 1.1 1.1 1.1 0 2.2 2.2 1.1 0 2.3 2.2 1.1 0 4.4 4.4 1.1 0.1 5.4 5.4 0 1.1 4.5 4.4 0.1 1.2 2.2 2.1 2.2 1.4 0.5-1.3-0.4-3.4-1.7-4.4-6.2-10.1-5.5-6.8-7.7-6.7-8.9-5.4-10-4.2-11-2.7-11.1-0.9-11.1 0.9-11 2.7-10 4.2-8.9 5.4-4.4 3.6-4.4 4.4-7.8 10.6-2.3 3.9-1.8 4.4-0.8 3.4 0.4 2.2z" fill="#bcf23d"/>
<path d="M2166.6 703.7l17.7 0-0.5-1.3-2.2-2.2-2.3-1.1-3.3-0.6-3.3 0.4-2.2 0.8-2.5 1.8-1.4 2.2zM2326.4 703.7l1.4 0-1.2-0.4-0.2 0.4zM2427.2 703.7l1.4 0-0.2-0.4-1.2 0.4zM2570.7 703.7l17.7 0-1.4-2.2-2.5-1.8-2.2-0.8-3.3-0.4-3.3 0.6-2.3 1.1-2.2 2.2-0.5 1.3zM2316.4 612.3l1.3 0.2 2.2-1.8 0.1-0.7 4.4-4.4 0.1-1.1 5.4-5.5 1.1 0 4.4-4.4 1.1 0 2.3-2.2 1.1 0 2.2-2.2 1.1 0 1.1-1.1 1.1-0.1 1.1-1.1 1.1 0 1.1-1.1 2.2 0 3.4-2.2 2.2 0 1.1-1.1 3.3 0 1.1-1.1 5.5-0.1 1.1-1 17.8 0 1.1 1 5.5 0.1 1.1 1.1 3.3 0 1.1 1.1 2.2 0 3.4 2.2 2.2 0 1.1 1.1 1.1 0 1.1 1.1 1.1 0.1 1.1 1.1 1.1 0 2.2 2.2 1.1 0 2.3 2.2 1.1 0 4.4 4.4 1.1 0 5.4 5.5 0.1 1.1 4.4 4.4 0.1 0.7 2.2 1.8 1.1 0.1 0.3-1.4-0.8-3.4-1.4-3.3-7.5-11.2-6.1-6.5-6.7-5.2-8.8-5.1-10-3.8-9.9-2.2-10-0.8-10 0.8-11 2.5-10 4.1-8.9 5.3-6.6 5.4-5.8 6.6-7.2 11.2-1.5 4.4-0.1 2.3z" fill="#c8ef2e"/>
<path d="M2170.3 703.7l9.6 0-1.7-1.7-3.3-0.5-3.3 0.9-1.3 1.3zM2326.7 703.7l1 0-1 0zM2427.3 703.7l1 0-1 0zM2575.1 703.7l9.6 0-1.3-1.3-3.3-0.9-3.3 0.5-1.7 1.7zM2318 610l0.8 0.5 1.1-0.5 4.5-4.4 0-1.1 5.5-5.5 1.1 0 4.4-4.4 1.1 0 2.3-2.2 1.1-0.1 2.2-2.2 1.1 0 1.1-1.1 1.1 0 1.1-1.1 1.1 0 1.1-1.1 2.2 0 3.4-2.2 2.2 0 1.1-1.1 3.3-0.1 1.1-1 5.5-0.1 1.1-1.1 17.8 0 1.1 1.1 5.5 0.1 1.1 1 3.3 0.1 1.1 1.1 2.2 0 3.4 2.2 2.2 0 1.1 1.1 1.1 0 1.1 1.1 1.1 0 1.1 1.1 1.1 0 2.2 2.2 1.1 0.1 2.3 2.2 1.1 0 4.4 4.4 1.1 0 5.5 5.5 0 1.1 4.5 4.4 1.1 0.5 0.8-0.5 0.2-1.1-1.7-4.4-8.5-12.3-5.2-5.3-6.7-5-8.8-4.9-8.9-3.4-9.9-2.2-10-0.8-10 0.8-9.9 2.2-8.9 3.4-8.8 4.9-6.7 5-6.1 6.4-8.2 12.3-0.9 2.2 0 2.2z" fill="#d5eb20"/>
<path d="M2327.2 703.7l0.5 0-0.5 0zM2427.3 703.7l0.5 0-0.5 0zM2319.5 608.9l0.4 0.2 2.3-1.4 2.2-2.1 0-1.1 5.5-5.5 1.1 0 4.4-4.5 1.1 0 2.3-2.2 1.1 0 2.2-2.2 1.1 0 1.1-1.1 1.1 0 1.1-1.1 1.1 0 1.1-1.1 2.2-0.1 3.4-2.1 2.2-0.1 1.1-1 3.3-0.1 1.1-1.1 5.5 0 1.1-1.1 17.8 0 1.1 1.1 5.5 0 1.1 1.1 3.3 0.1 1.1 1 2.2 0.1 3.4 2.1 2.2 0.1 1.1 1.1 1.1 0 1.1 1.1 1.1 0 1.1 1.1 1.1 0 2.2 2.2 1.1 0 2.3 2.2 1.1 0 4.4 4.5 1.1 0 5.5 5.5 0 1.1 3.4 3 1.5 0.3 0.4-1.1-1.4-3.3-8.5-12.3-6.4-6-6.7-4.6-7.7-4.1-8.9-3.3-9.9-2-8.9-0.7-10 0.8-9.9 2.3-8.9 3.4-8.8 5-6.7 5-5.1 5.3-8.2 12.1-0.8 2.4 0.4 1.1z" fill="#dce619"/>
<path d="M2320.8 606.7l0.2 1 3.4-2.7 0-0.5 5.5-5.5 1.1-0.1 4.4-4.4 1.1 0 2.3-2.2 1.1 0 2.2-2.2 1.1 0 1.1-1.1 1.1 0 1.1-1.1 1.1 0 1.1-1.1 2.2-0.1 3.4-2.2 2.2 0 1.1-1.1 3.3 0 1.1-1.1 5.5-0.1 1.1-1 8.9 0 8.9 0 1.1 1 5.5 0.1 1.1 1.1 3.3 0 1.1 1.1 2.2 0 3.4 2.2 2.2 0.1 1.1 1.1 1.1 0 1.1 1.1 1.1 0 1.1 1.1 1.1 0 2.2 2.2 1.1 0 2.3 2.2 1.1 0 4.4 4.4 1.1 0.1 5.5 5.5 0 0.5 3.4 2.7 0.2-1-6.7-11.2-2.4-3.1-5.5-5.2-6.7-4.7-7.7-4.1-8.9-3.3-11.1-2.2-7.7-0.6-7.7 0.6-11.1 2.2-8.9 3.3-7.7 4.1-6.7 4.7-5.5 5.2-2.4 3.1-6.7 11.2z" fill="#e3e114"/>
<path d="M2324.5 603.3l1 0.1 4.4-4.5 1.1 0 4.4-4.4 1.1 0 2.3-2.2 1.1 0 2.2-2.2 1.1 0 1.1-1.1 1.1-0.1 1.1-1.1 1.1 0 1.1-1.1 2.2 0 3.4-2.2 2.2 0 1.1-1.1 3.3 0 1.1-1.1 5.5-0.1 1.1-1 8.9-0.1 8.9 0.1 1.1 1 5.5 0.1 1.1 1.1 3.3 0 1.1 1.1 2.2 0 3.4 2.2 2.2 0 1.1 1.1 1.1 0 1.1 1.1 1.1 0.1 1.1 1.1 1.1 0 2.2 2.2 1.1 0 2.3 2.2 1.1 0 4.4 4.4 1.1 0 4.4 4.5 1-0.1-3.3-6.6-3.2-4.4-6.6-5.8-7.8-5-6.6-3.2-7.8-2.6-11.1-2.2-6.6-0.4-6.6 0.4-11.1 2.2-7.8 2.6-6.6 3.2-7.8 5-6.6 5.8-3.2 4.4-3.3 6.6z" fill="#e8db0f"/>
<path d="M2326.9 601.1l0.8 0 2.2-2.2 1.1-0.1 4.4-4.3 1.1 0 2.3-2.2 1.1-0.1 2.2-2.1 1.1-0.1 1.1-1.1 1.1 0 1.1-1.1 1.1 0 1.1-1.1 2.2 0 3.4-2.2 2.2 0 1.1-1.1 3.3-0.1 1.1-1 5.5-0.1 1.1-1.1 8.9 0 8.9 0 1.1 1.1 5.5 0.1 1.1 1 3.3 0.1 1.1 1.1 2.2 0 3.4 2.2 2.2 0 1.1 1.1 1.1 0 1.1 1.1 1.1 0 1.1 1.1 1.1 0.1 2.2 2.1 1.1 0.1 2.3 2.2 1.1 0 4.4 4.3 1.1 0.1 2.2 2.2 0.8 0-2.5-5.6-2.7-3.2-5.5-4.9-8.9-5.6-6.6-3.1-7.8-2.5-10-1.9-6.6-0.4-6.6 0.4-10 1.9-7.8 2.5-6.6 3.1-8.9 5.6-5.5 4.9-2.7 3.2-2.5 5.6z" fill="#ead00d"/>
<path d="M2329.9 597.8l1.1 0.2 2.2-1.3 2.2-2.2 1.1-0.1 2.3-2.2 1.1 0 2.2-2.2 1.1 0 1.1-1.1 1.1 0 1.1-1.1 1.1 0 1.1-1.1 2.2-0.1 3.4-2.1 2.2-0.1 1.1-1 3.3-0.1 1.1-1.1 5.5 0 1.1-1.1 8.9 0 8.9 0 1.1 1.1 5.5 0 1.1 1.1 3.3 0.1 1.1 1 2.2 0.1 3.4 2.1 2.2 0.1 1.1 1.1 1.1 0 1.1 1.1 1.1 0 1.1 1.1 1.1 0 2.2 2.2 1.1 0 2.3 2.2 1.1 0.1 2.2 2.2 2.2 1.3 1.1-0.2-0.1-1.1-1.2-2.3-5.3-5.1-6.7-4.7-6.6-3.6-6.7-2.7-5.5-1.6-10-1.8-5.5-0.3-5.5 0.3-10 1.8-5.5 1.6-6.7 2.7-6.6 3.6-6.7 4.7-5.3 5.1-1.2 2.3-0.1 1.1z" fill="#ecc50a"/>
<path d="M2331.8 595.5l0.3 1.2 6.7-4.5 1.1-0.2 2.2-2 1.1 0 1.1-1.1 1.1 0 1.1-1.1 1.1 0 1.1-1.1 2.1-0.1 1.2-1.1 1.1 0 1.2-1.1 2.2 0 1.1-1.1 3.3 0 1.1-1.1 3.8 0 1.7-0.4 1.1-0.7 8.9 0 8.9 0 1.1 0.7 1.7 0.4 3.8 0 1.1 1.1 3.3 0 1.1 1.1 2.2 0 1.2 1.1 1.1 0 1.2 1.1 2.1 0.1 1.1 1.1 1.1 0 1.1 1.1 1.1 0 1.1 1.1 1.1 0 2.2 2 1.1 0.2 6.7 4.5 0.3-1.2-6.6-6.6-6.7-4.5-6.4-3.3-6.1-2.4-5.5-1.5-8.9-1.6-5.5-0.3-5.5 0.3-8.9 1.6-5.5 1.5-6.1 2.4-6.4 3.3-6.7 4.5-6.6 6.6z" fill="#eeba08"/>
<path d="M2337.1 592.2l0.5 0.1 4.5-2.3 0.9 0 3.5-2.2 1.1-0.1 1.1-1.1 4.4-1.2 1.2-1 2.2 0 1.1-1.1 2.6 0 1.8-1.1 2.6 0 4-1.1 8.9-0.3 8.9 0.3 4 1.1 2.6 0 1.8 1.1 2.6 0 1.1 1.1 2.2 0 1.2 1 4.4 1.2 1.1 1.1 1.1 0.1 3.5 2.2 0.9 0 4.5 2.3 0.5-0.1-1.6-2.2-4.6-3.4-10.2-5.5-9.6-3.1-8.9-1.7-5.5-0.2-5.5 0.2-8.9 1.7-9.6 3.1-10.2 5.5-4.6 3.4-1.6 2.2z" fill="#edac07"/>
<path d="M2344.7 587.7l1 0-0.3-0.7-0.7 0.7zM2409.3 587.7l1 0-0.7-0.7-0.3 0.7zM2345.7 586.6l0.8 0.5 1.1-0.3 1.1-1 13.3-3.6 1.4 0 4.1-1.8 1.5 0.7 1.9 0 6.6-0.7 6.6 0.7 1.9 0 1.5-0.7 4.1 1.8 1.4 0 13.3 3.6 1.1 1 1.1 0.3 0.8-0.5-3-1.6-2.1-1.7-7.9-3.3-4.4-1.2-4.4-0.2-3.4-1.4-4.4-0.3-7.7 0.1-4.5 1.6-4.4 0.2-4.4 1.2-7.9 3.3-2.1 1.7-3 1.6z" fill="#ec9e06"/>
<path d="M2354.9 583.3l1.2 0-0.7-0.5-0.5 0.5zM2398.9 583.3l1.2 0-0.5-0.5-0.7 0.5zM2357.3 582.2l1.4 0.3 1.2-0.3-0.1-0.7-1.1-0.3-1.4 1zM2395.1 582.2l1.2 0.3 1.4-0.3-1.4-1-1.1 0.3-0.1 0.7zM2361.4 581.1l1.7 0.5 1.1-0.3 0.6-0.2 0-1.2-1.7-0.1-1.7 1.3zM2390.2 581.1l1.7 0.5 1.7-0.5-1.3-1.2-1.5-0.2-0.6 0.2 0 1.2zM2368.9 579.9l2 0.8 6.6-0.8 6.6 0.8 2-0.8-0.9-1.4-4.4-0.8-8.8 0.1-2.7 1-0.4 1.1z" fill="#eb9005"/>
<path d="M2370.3 579.9l2.3 0-0.6-0.8-1.7 0.8zM2382.4 579.9l2.3 0-1.7-0.8-0.6 0.8z" fill="#ea7f05"/><defs><radialGradient id="hs"><stop offset="0" stop-color="#dc1e05"/><stop offset=".22" stop-color="#ee8c05"/><stop offset=".42" stop-color="#e1e114" stop-opacity=".95"/><stop offset=".62" stop-color="#64fab0" stop-opacity=".7"/><stop offset="1" stop-color="#3ad0f0" stop-opacity="0"/></radialGradient><clipPath id="hsc"><path clip-rule="evenodd" d="M2257.5 640h240v64h-240zM2306.0 653a71.5 71.5 0 1 0 143 0a71.5 71.5 0 1 0 -143 0z"/></clipPath></defs><g clip-path="url(#hsc)"><ellipse cx="2321.0" cy="701.5" rx="17" ry="12" fill="url(#hs)"/><ellipse cx="2434.0" cy="701.5" rx="17" ry="12" fill="url(#hs)"/></g><circle cx="2377.5" cy="652.9" r="71.3" fill="#1b1a80"/></g>
<g opacity="0.999">
<rect x="1934.7" y="34.7" width="885.6" height="669.0" fill="none" stroke="#000" stroke-width="3.05"/>
<path d="M1934.7 703.7v15.5M2156.1 703.7v15.5M2377.5 703.7v15.5M2598.9 703.7v15.5M2820.3 703.7v15.5M1934.7 703.7h-15.5M1934.7 480.7h-15.5M1934.7 257.7h-15.5M1934.7 34.7h-15.5" stroke="#000" stroke-width="3" fill="none"/>
<text transform="translate(1900.18 778.96) scale(1.4664 1.2083)" font-size="48">−</text>
<text transform="translate(1945.11 772.10) scale(1.1399 1.0157)" font-size="48">2</text>
<text transform="translate(2121.58 778.96) scale(1.4664 1.2083)" font-size="48">−</text>
<text transform="translate(2166.38 772.10) scale(1.0533 1.0189)" font-size="48">1</text>
<text transform="translate(2364.02 771.60) scale(1.0980 0.9969)" font-size="48">0</text>
<text transform="translate(2585.28 772.10) scale(1.0533 1.0189)" font-size="48">1</text>
<text transform="translate(2806.61 772.10) scale(1.1399 1.0157)" font-size="48">2</text>
<text transform="translate(1873.71 718.70) scale(1.1399 1.0126)" font-size="48">2</text>
<text transform="translate(1873.10 495.20) scale(1.1313 0.9969)" font-size="48">3</text>
<text transform="translate(1873.55 272.70) scale(1.0536 1.0190)" font-size="48">4</text>
<text transform="translate(1872.45 49.20) scale(1.1606 1.0094)" font-size="48">5</text>
<text transform="translate(1783.71 49.83) scale(1.0407 1.1149)" font-size="48">(</text>
<text transform="translate(1805.40 49.49) scale(1.1486 1.0148)" font-size="48">b</text>
<text transform="translate(1833.77 49.83) scale(1.0887 1.1149)" font-size="48">)</text>
<text transform="translate(2304.28 845.60) scale(1.3254 0.9735)" font-size="48" font-style="italic">r</text>
<text transform="translate(2333.80 855.86) scale(1.5639 1.4891)" font-size="48">/</text>
<text transform="translate(2358.50 845.30) scale(1.1962 0.9602)" font-size="48">mm</text>
<text transform="translate(1820.70 436.50) rotate(-90) scale(1.0000 1.0000)" font-size="48" font-style="italic">z</text>
<text transform="translate(1831.26 413.40) rotate(-90) scale(1.5639 1.4891)" font-size="48">/</text>
<text transform="translate(1820.70 388.69) rotate(-90) scale(1.1920 0.9735)" font-size="48">mm</text>
<rect x="2860.4" y="74.0" width="39.5" height="590.3" fill="url(#cb)" stroke="#000" stroke-width="3.05"/>
<path d="M2899.9 159.2h-15M2899.9 327.2h-15M2899.9 495.3h-15" stroke="#000" stroke-width="3" fill="none"/>
<text transform="translate(2919.31 96.70) scale(1.1029 1.0062)" font-size="48">8</text>
<text transform="translate(2917.87 174.00) scale(1.2268 1.0414)" font-size="48">7</text>
<text transform="translate(2918.05 341.98) scale(1.1606 1.0345)" font-size="48">5</text>
<text transform="translate(2918.70 509.99) scale(1.1313 1.0217)" font-size="48">3</text>
<text transform="translate(2919.38 678.80) scale(1.0533 1.0189)" font-size="48">1</text>
<text transform="translate(3028.91 574.21) rotate(-90) scale(1.0023 0.9977)" font-size="48">电场</text>
<text transform="translate(3037.85 473.60) rotate(-90) scale(1.5789 1.4922)" font-size="48">/</text>
<text transform="translate(3027.85 446.35) rotate(-90) scale(1.0244 1.1126)" font-size="48">(</text>
<text transform="translate(3027.20 427.17) rotate(-90) scale(1.0414 1.0221)" font-size="48">1</text>
<text transform="translate(3027.69 399.61) rotate(-90) scale(1.1176 1.0216)" font-size="48">0</text>
<text transform="translate(3013.93 373.38) rotate(-90) scale(0.7772 0.7429)" font-size="48">5</text>
<text transform="translate(3027.26 338.96) rotate(-90) scale(1.1190 1.0592)" font-size="48">V</text>
<text transform="translate(3033.22 300.64) rotate(-90) scale(1.1053 1.1404)" font-size="48">·</text>
<text transform="translate(3027.20 283.53) rotate(-90) scale(1.1292 0.9558)" font-size="48">m</text>
<text transform="translate(3019.47 235.35) rotate(-90) scale(1.0224 0.9167)" font-size="48">−</text>
<text transform="translate(3013.40 204.03) rotate(-90) scale(0.7219 0.7192)" font-size="48">1</text>
<text transform="translate(3027.54 183.99) rotate(-90) scale(0.9919 1.1034)" font-size="48">)</text>
</g>
</svg></body></html>
